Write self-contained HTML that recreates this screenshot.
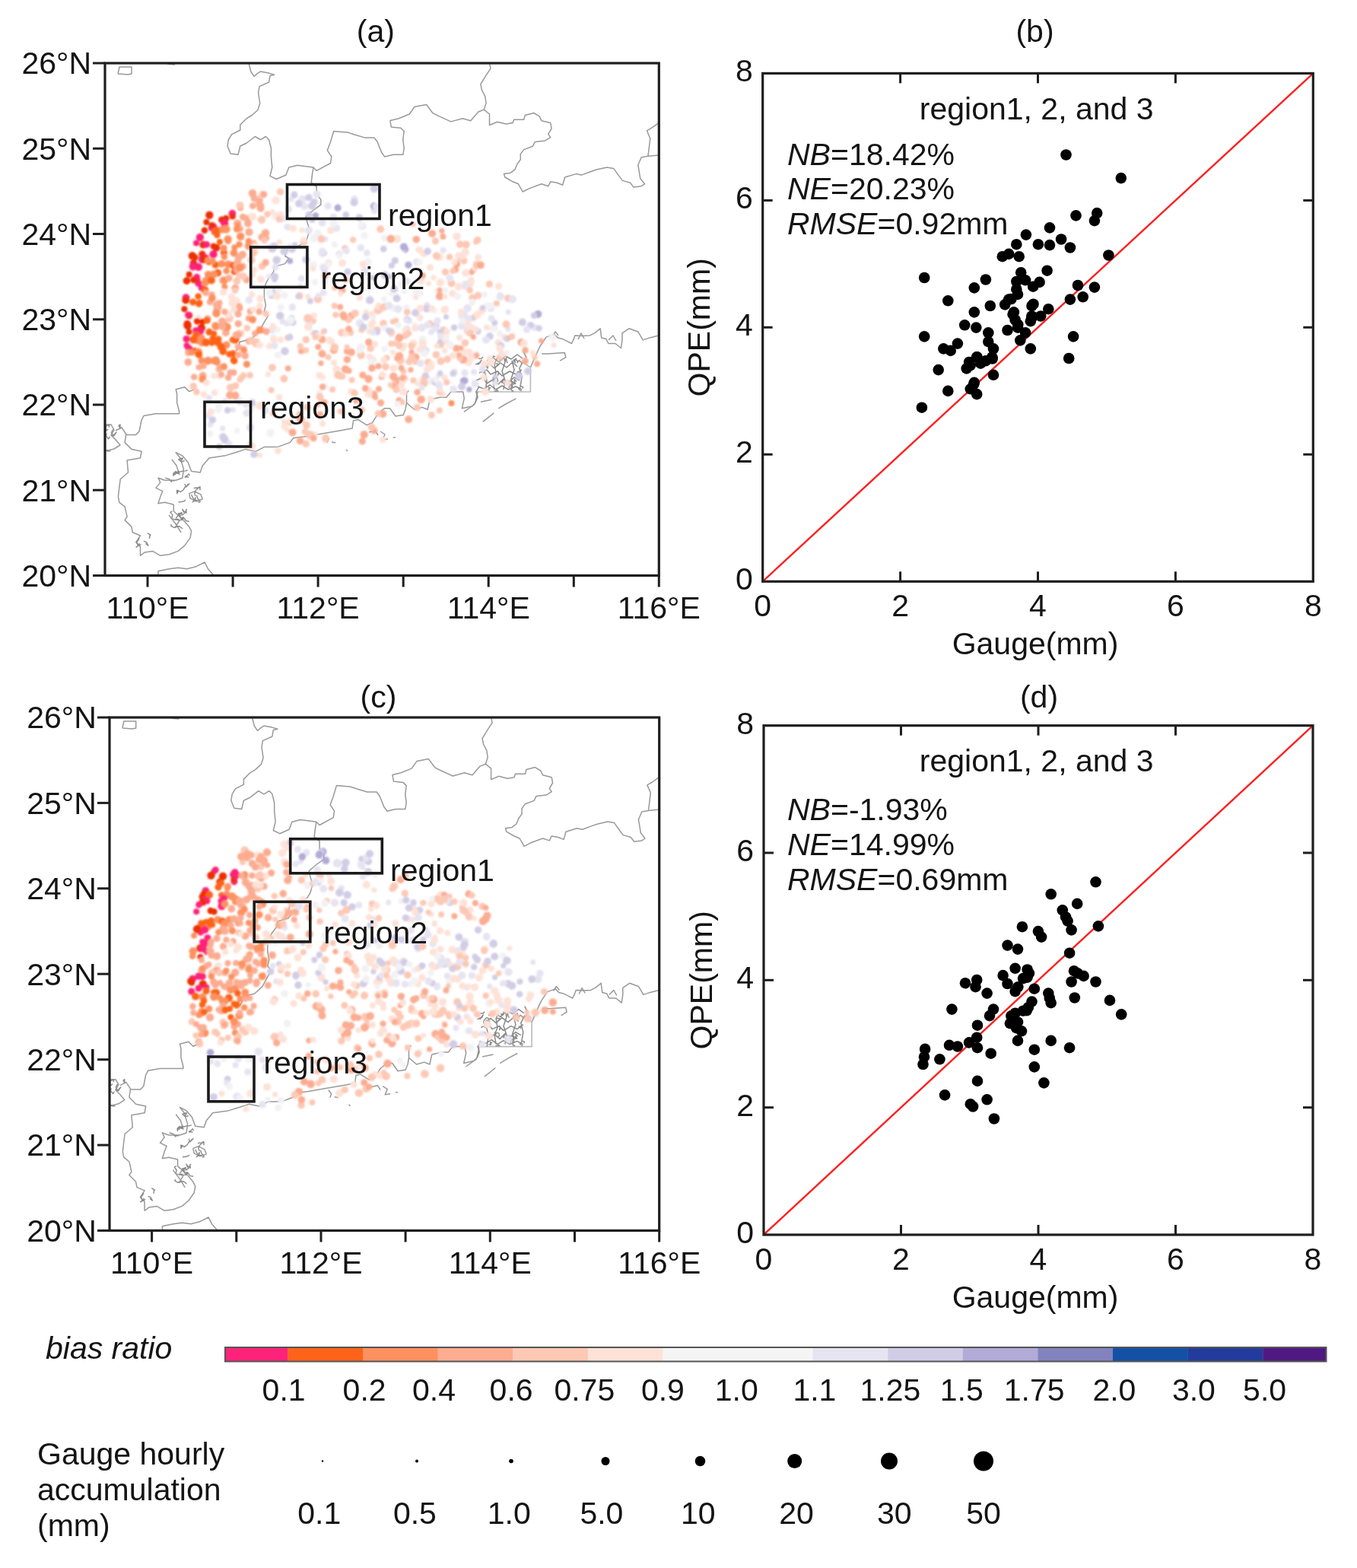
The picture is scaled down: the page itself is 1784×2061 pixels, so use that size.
<!DOCTYPE html><html><head><meta charset="utf-8"><style>html,body{margin:0;padding:0;background:#fff;}svg{display:block} text{font-family:"Liberation Sans",Arial,sans-serif;font-size:41px;fill:#141414}</style></head><body>
<svg xmlns="http://www.w3.org/2000/svg" width="1784" height="2061" viewBox="0 0 1784 2061">
<rect width="1784" height="2061" fill="#fff"/>
<defs><filter id="soft" x="-5%" y="-5%" width="110%" height="110%"><feGaussianBlur stdDeviation="0.9"/></filter><filter id="gb" x="0" y="0" width="100%" height="100%" filterUnits="userSpaceOnUse"><feGaussianBlur stdDeviation="0"/></filter></defs>
<rect width="1784" height="2061" fill="#fff"/>
<clipPath id="ca"><rect x="138" y="83" width="728.3" height="673.5"/></clipPath>
<g clip-path="url(#ca)">
<polyline points="327.0,83.0 329.8,94.0 334.0,100.3 338.2,96.8 342.4,94.0 353.6,96.1 360.6,98.2 355.0,99.6 353.6,108.0 341.0,113.6 339.6,122.0 341.7,136.0 338.9,144.5 331.2,151.5 324.2,155.7 315.8,164.0 315.8,171.0 304.6,176.7 300.4,183.7 299.0,192.0 303.2,202.0 313.0,203.3 315.8,192.0 324.2,188.0 335.4,179.5 342.4,183.7 349.4,179.5 353.6,183.7 356.4,195.0 356.4,206.0 357.8,220.0 355.0,231.3 363.4,235.5 376.0,230.0 379.8,220.0 391.0,217.3 412.0,220.0 416.2,224.3 434.5,214.5 435.9,206.0 430.3,197.7 434.5,186.5 438.7,172.5 456.9,173.9 465.3,176.7 479.3,180.9 491.9,180.9 496.1,186.5 501.7,200.5 505.9,206.1 517.1,203.3 529.8,203.3 531.2,194.9 529.8,183.7 531.2,172.5 526.9,168.3 514.3,166.9 512.9,158.5 524.1,155.7 538.2,150.0 545.2,140.3 560.6,137.5 569.0,148.7 577.4,152.9 592.8,159.9 608.2,155.7 618.7,158.7 628.9,147.0 636.2,144.1 643.5,150.0 643.5,164.5 653.7,160.2 665.4,163.1 674.1,161.6 675.6,157.2 688.7,157.2 690.2,151.4 701.8,148.5 709.1,152.9 712.0,158.7 723.7,161.6 725.1,168.9 720.8,176.2 723.7,180.6 716.4,184.9 703.3,186.4 700.4,192.2 688.7,196.6 684.3,202.4 684.3,209.7 680.0,215.5 677.0,222.8 671.2,227.2 662.5,228.6 663.9,233.0 674.1,238.8 681.4,241.8 687.2,252.0 696.0,247.6 712.0,241.8 720.8,244.7 723.7,238.8 732.4,240.3 739.7,243.2 742.6,233.0 757.2,228.6 764.5,230.1 776.1,225.7 784.9,222.8 798.0,219.9 806.7,221.4 814.0,231.6 818.4,237.4 828.6,240.3 833.0,246.1 843.2,244.7 847.5,241.8 841.7,234.5 840.3,225.7 838.8,217.0 843.2,206.8 851.9,205.3 866.0,203.9" fill="none" stroke="#999" stroke-width="1.5" stroke-linejoin="round"/>
<polyline points="636.2,144.1 639.1,135.4 637.7,126.6 633.3,117.9 631.9,110.6 639.1,98.9 645.0,90.2 643.5,83.0" fill="none" stroke="#999" stroke-width="1.5" stroke-linejoin="round"/>
<polyline points="851.9,205.3 853.4,193.7 854.8,182.0 850.4,171.8 857.7,167.4 866.0,161.6" fill="none" stroke="#999" stroke-width="1.5" stroke-linejoin="round"/>
<polyline points="412.0,220.0 410.6,228.5 409.2,239.8 416.2,245.4 416.2,255.2 421.8,262.2 421.8,269.2 412.0,276.2 402.2,284.6 403.9,292.1 407.0,302.2 403.9,313.3 399.9,319.4 387.8,325.4 377.7,327.4 374.7,336.5 379.7,339.5 374.7,346.6 360.5,350.6 359.5,357.7 352.5,366.8 349.4,372.8 347.4,380.9 347.4,391.0 349.4,401.1 347.4,409.2 352.5,415.2 347.4,423.3 340.4,436.4 330.3,445.5 315.1,449.5 313.1,457.6 310.1,461.6" fill="none" stroke="#999" stroke-width="1.5" stroke-linejoin="round"/>
<polyline points="256.0,511.7 248.7,514.6 242.8,508.7 231.2,511.7 232.6,517.5 232.6,529.1 235.6,540.8 235.6,543.7 219.5,543.7 205.0,543.7 188.9,546.6 186.0,552.5 183.1,567.0 178.7,571.4 165.6,571.4 164.1,581.6 172.9,590.4 186.0,593.3 184.5,602.0 167.1,604.9 168.5,621.0 158.3,629.7 156.9,639.9 155.4,653.0 156.9,660.3 164.1,666.1 167.1,679.2 164.1,683.6 172.9,692.4 174.3,699.7 184.5,704.0 178.7,712.8 184.5,718.6 184.5,730.3 190.4,725.9 200.6,724.4 210.8,730.3 222.4,728.8 234.1,724.4 242.8,717.1 250.1,706.9 251.6,698.2 248.7,692.4 240.0,682.2 228.3,672.0 228.3,663.2 216.6,660.3 207.9,661.8 210.8,653.0 213.7,645.7 205.0,641.4 210.8,634.1 207.9,628.2 216.6,631.2 231.2,631.2 239.9,628.2 241.4,616.6 237.0,602.0 231.2,594.7 239.9,599.1 247.2,607.8 251.6,619.5 263.2,621.0 266.2,612.2 274.9,602.0 295.3,599.1 309.9,594.7 323.0,590.4 336.1,593.3 347.8,587.4 365.3,587.4 381.3,581.6 385.7,575.8 400.0,574.0 447.0,566.0 463.1,563.1 464.5,552.9 470.4,551.4 482.0,558.7 489.3,555.8 496.6,544.1 505.3,536.8 512.6,536.8 519.9,547.0 530.1,545.6 533.0,538.3 534.5,529.5 534.5,516.4 537.4,513.5" fill="none" stroke="#999" stroke-width="1.5" stroke-linejoin="round"/>
<polyline points="534.5,529.5 544.7,538.3 554.9,535.4 562.2,538.3 565.1,525.2 578.2,522.3 586.9,522.3 592.8,515.0 608.8,515.0 610.3,523.7 607.3,536.8 620.5,533.9 624.8,529.5 628.0,515.0" fill="none" stroke="#999" stroke-width="1.5" stroke-linejoin="round"/>
<polyline points="138.0,560.0 146.0,558.0 150.0,565.0 146.0,572.0 152.0,578.0 158.0,585.0 150.0,590.0 138.0,593.0" fill="none" stroke="#999" stroke-width="1.5" stroke-linejoin="round"/>
<polyline points="152.0,566.0 160.0,562.0 166.0,571.0" fill="none" stroke="#999" stroke-width="1.5" stroke-linejoin="round"/>
<polyline points="155.0,97.0 157.0,88.0 173.0,88.0 173.0,97.0 168.0,98.0 155.0,97.0" fill="none" stroke="#999" stroke-width="1.5" stroke-linejoin="round"/>
<polyline points="220.0,84.0 230.0,85.0" fill="none" stroke="#999" stroke-width="1.5" stroke-linejoin="round"/>
<polyline points="207.9,756.0 207.9,750.7 222.4,747.7 234.1,746.3 245.8,747.7 257.4,744.8 269.1,739.0 273.4,747.7 280.7,756.0" fill="none" stroke="#999" stroke-width="1.5" stroke-linejoin="round"/>
<polyline points="248.7,648.6 256.0,646.0 264.0,650.0 266.2,656.0 258.0,659.0 250.0,655.0 248.7,648.6" fill="none" stroke="#999" stroke-width="1.5" stroke-linejoin="round"/>
<polyline points="226.0,604.0 232.0,612.0 236.0,624.0" fill="none" stroke="#999" stroke-width="1.5" stroke-linejoin="round"/>
<polyline points="222.0,677.0 232.0,690.0 238.0,700.0" fill="none" stroke="#999" stroke-width="1.5" stroke-linejoin="round"/>
<polyline points="226.0,682.0 236.0,684.0 230.0,694.0" fill="none" stroke="#999" stroke-width="1.5" stroke-linejoin="round"/>
<polyline points="697.4,483.0 703.0,470.0 710.0,455.0 718.0,443.1 728.6,439.4 733.2,443.9 739.2,445.4 745.3,448.4 751.4,451.5 754.4,445.4 755.9,440.9 766.5,441.6 775.6,440.9 781.6,437.8 789.2,431.8 790.7,443.9 796.8,445.4 799.8,451.5 808.9,451.5 816.4,457.5 818.0,446.9 818.0,437.8 827.0,431.8 839.1,436.3 845.2,446.9 854.3,443.9 866.0,440.9" fill="none" stroke="#999" stroke-width="1.5" stroke-linejoin="round"/>
<polyline points="712.0,465.0 721.1,465.1 731.7,464.3 742.3,463.6 743.8,469.6 736.2,474.2" fill="none" stroke="#999" stroke-width="1.5" stroke-linejoin="round"/>
<polyline points="726.0,442.0 730.0,436.0 734.0,441.0" fill="none" stroke="#999" stroke-width="1.5" stroke-linejoin="round"/>
<polyline points="760.0,446.0 764.0,438.0 768.0,445.0" fill="none" stroke="#999" stroke-width="1.5" stroke-linejoin="round"/>
<polyline points="800.0,447.0 806.0,441.0 810.0,448.0" fill="none" stroke="#999" stroke-width="1.5" stroke-linejoin="round"/>
<polyline points="631.9,528.2 646.4,525.3" fill="none" stroke="#999" stroke-width="1.5" stroke-linejoin="round"/>
<polyline points="655.2,536.9 665.0,531.0 678.5,523.8" fill="none" stroke="#999" stroke-width="1.5" stroke-linejoin="round"/>
<polyline points="634.8,554.4 649.3,542.8" fill="none" stroke="#999" stroke-width="1.5" stroke-linejoin="round"/>
<polyline points="610.0,541.3 624.6,531.0" fill="none" stroke="#999" stroke-width="1.5" stroke-linejoin="round"/>
<polyline points="485.0,568.0 493.0,566.0 497.0,572.0" fill="none" stroke="#999" stroke-width="1.5" stroke-linejoin="round"/>
<polyline points="500.0,567.0 506.0,571.0 503.0,578.0 510.0,577.0" fill="none" stroke="#999" stroke-width="1.5" stroke-linejoin="round"/>
<polyline points="517.0,575.0 520.0,575.0" fill="none" stroke="#999" stroke-width="1.5" stroke-linejoin="round"/>
<polyline points="428.0,572.0 432.0,577.0 430.0,582.0" fill="none" stroke="#999" stroke-width="1.5" stroke-linejoin="round"/>
<polyline points="436.0,581.0 441.0,582.0" fill="none" stroke="#999" stroke-width="1.5" stroke-linejoin="round"/>
<polyline points="455.0,591.0 457.0,593.0" fill="none" stroke="#999" stroke-width="1.5" stroke-linejoin="round"/>
<polyline points="690.0,478.0 697.4,483.0 697.4,515.0 624.6,515.0" fill="none" stroke="#bbb" stroke-width="1.6"/>
<polyline points="231.0,621.8 228.5,621.8 228.0,623.3 230.9,619.2" fill="none" stroke="#8a8a8a" stroke-width="1.4" stroke-linejoin="round"/>
<polyline points="228.6,621.4 229.7,624.1 231.7,621.8 234.7,622.7 230.7,620.8 228.0,622.3 228.0,626.1" fill="none" stroke="#8a8a8a" stroke-width="1.4" stroke-linejoin="round"/>
<polyline points="243.1,625.9 243.4,627.0 247.8,627.0 246.2,627.0" fill="none" stroke="#8a8a8a" stroke-width="1.4" stroke-linejoin="round"/>
<polyline points="244.7,625.4 243.9,627.0 248.1,623.0 249.4,625.2" fill="none" stroke="#8a8a8a" stroke-width="1.4" stroke-linejoin="round"/>
<polyline points="234.5,618.3 234.6,622.4 231.5,620.2 236.2,620.2 240.6,619.1 244.2,618.9 246.6,618.0" fill="none" stroke="#8a8a8a" stroke-width="1.4" stroke-linejoin="round"/>
<polyline points="242.6,605.5 238.5,607.1 234.6,603.8 238.0,602.5 240.3,602.2 238.4,605.6" fill="none" stroke="#8a8a8a" stroke-width="1.4" stroke-linejoin="round"/>
<polyline points="260.4,658.3 256.4,656.9 253.1,660.0 256.6,657.5" fill="none" stroke="#8a8a8a" stroke-width="1.4" stroke-linejoin="round"/>
<polyline points="217.3,628.2 222.3,629.6 225.3,633.2 225.4,631.9 229.8,631.9" fill="none" stroke="#8a8a8a" stroke-width="1.4" stroke-linejoin="round"/>
<polyline points="257.3,655.7 256.9,653.9 255.7,657.8 256.0,658.5 253.3,653.7 251.6,650.1" fill="none" stroke="#8a8a8a" stroke-width="1.4" stroke-linejoin="round"/>
<polyline points="234.6,660.0 239.5,659.4 238.7,659.7 242.8,658.3 243.7,656.9" fill="none" stroke="#8a8a8a" stroke-width="1.4" stroke-linejoin="round"/>
<polyline points="254.8,641.7 257.0,641.3 257.3,641.2 261.5,641.2 263.0,639.8 263.0,643.8 262.6,644.4" fill="none" stroke="#8a8a8a" stroke-width="1.4" stroke-linejoin="round"/>
<polyline points="258.4,650.9 260.0,655.3 263.0,658.6 263.0,659.8 263.0,659.6 261.0,660.0 263.0,660.0" fill="none" stroke="#8a8a8a" stroke-width="1.4" stroke-linejoin="round"/>
<polyline points="234.4,647.3 232.5,644.4 232.7,648.7 233.9,644.5 237.1,646.8 241.2,643.7 243.6,639.3" fill="none" stroke="#8a8a8a" stroke-width="1.4" stroke-linejoin="round"/>
<polyline points="242.9,636.0 244.7,640.2 247.2,636.5 244.9,639.8 249.3,635.4" fill="none" stroke="#8a8a8a" stroke-width="1.4" stroke-linejoin="round"/>
<polyline points="257.1,652.1 255.7,648.8 257.4,644.6 262.0,639.9" fill="none" stroke="#8a8a8a" stroke-width="1.4" stroke-linejoin="round"/>
<polyline points="229.9,682.7 234.1,682.4 234.9,683.5 239.0,683.2 239.5,680.1 241.7,680.5" fill="none" stroke="#8a8a8a" stroke-width="1.4" stroke-linejoin="round"/>
<polyline points="237.7,678.7 235.1,675.2 239.3,674.1 234.5,676.9 231.1,681.5" fill="none" stroke="#8a8a8a" stroke-width="1.4" stroke-linejoin="round"/>
<polyline points="225.1,689.1 224.8,691.3 228.6,693.4 232.8,692.3 235.8,691.8 240.2,695.0" fill="none" stroke="#8a8a8a" stroke-width="1.4" stroke-linejoin="round"/>
<polyline points="226.4,671.7 224.0,673.4 226.8,676.9 226.0,680.3 226.8,680.6" fill="none" stroke="#8a8a8a" stroke-width="1.4" stroke-linejoin="round"/>
<polyline points="234.2,674.3 236.0,678.6 239.6,683.5 241.3,680.1 244.9,684.8 248.9,685.4" fill="none" stroke="#8a8a8a" stroke-width="1.4" stroke-linejoin="round"/>
<polyline points="241.8,673.7 239.7,669.3 243.2,674.2 239.1,677.2 238.2,673.7 236.2,676.4" fill="none" stroke="#8a8a8a" stroke-width="1.4" stroke-linejoin="round"/>
<polyline points="245.8,669.2 244.6,670.1 245.1,674.3 242.9,671.6" fill="none" stroke="#8a8a8a" stroke-width="1.4" stroke-linejoin="round"/>
<polyline points="143.5,561.6 143.3,558.0 139.0,558.5 139.0,563.4 139.0,563.6 139.0,566.4 142.3,564.0" fill="none" stroke="#8a8a8a" stroke-width="1.4" stroke-linejoin="round"/>
<polyline points="156.9,558.9 158.0,558.0 156.1,559.3 158.0,562.8 158.0,558.7 158.0,560.4" fill="none" stroke="#8a8a8a" stroke-width="1.4" stroke-linejoin="round"/>
<polyline points="148.6,564.2 146.4,568.7 149.6,573.1 153.0,568.2 150.9,570.2 149.0,572.9 146.0,572.1" fill="none" stroke="#8a8a8a" stroke-width="1.4" stroke-linejoin="round"/>
<polyline points="144.5,573.8 142.5,576.9 139.0,572.4 140.3,570.2 140.6,569.9" fill="none" stroke="#8a8a8a" stroke-width="1.4" stroke-linejoin="round"/>
<polyline points="145.5,592.9 141.2,593.0 142.5,592.4 139.4,591.8 140.3,593.0" fill="none" stroke="#8a8a8a" stroke-width="1.4" stroke-linejoin="round"/>
<polyline points="191.5,714.4 194.9,717.1 192.4,712.6 188.9,711.3" fill="none" stroke="#8a8a8a" stroke-width="1.4" stroke-linejoin="round"/>
<polyline points="196.4,707.9 197.1,703.0 194.3,701.0 198.4,703.7" fill="none" stroke="#8a8a8a" stroke-width="1.4" stroke-linejoin="round"/>
<polyline points="182.2,715.3 183.4,714.8 179.7,719.0 179.0,719.0 183.6,715.7" fill="none" stroke="#8a8a8a" stroke-width="1.4" stroke-linejoin="round"/>
<polyline points="182.3,706.6 182.7,708.4 179.8,712.8 181.7,717.5 185.6,715.5" fill="none" stroke="#8a8a8a" stroke-width="1.4" stroke-linejoin="round"/>
<polyline points="674.8,505.8 676.9,502.1 674.0,502.8 677.8,504.7 676.3,500.9 676.2,498.4 679.2,501.7" fill="none" stroke="#8a8a8a" stroke-width="1.4" stroke-linejoin="round"/>
<polyline points="658.5,472.3 659.8,473.2 656.5,472.6 660.4,471.5 659.7,469.5 661.3,471.6" fill="none" stroke="#8a8a8a" stroke-width="1.4" stroke-linejoin="round"/>
<polyline points="668.8,504.6 672.5,505.3 670.1,506.6 668.9,510.0" fill="none" stroke="#8a8a8a" stroke-width="1.4" stroke-linejoin="round"/>
<polyline points="682.2,491.7 683.3,489.6 682.7,488.5 679.7,488.5" fill="none" stroke="#8a8a8a" stroke-width="1.4" stroke-linejoin="round"/>
<polyline points="667.4,477.2 665.9,474.7 665.8,471.8 663.5,474.8 665.1,470.9 667.3,468.0" fill="none" stroke="#8a8a8a" stroke-width="1.4" stroke-linejoin="round"/>
<polyline points="645.3,509.6 644.3,509.8 642.6,511.3 642.5,508.7 643.3,512.7 640.0,512.3" fill="none" stroke="#8a8a8a" stroke-width="1.4" stroke-linejoin="round"/>
<polyline points="675.6,472.1 675.1,474.7 677.5,474.9 677.3,476.5 676.5,473.2 678.5,471.3 678.4,473.6" fill="none" stroke="#8a8a8a" stroke-width="1.4" stroke-linejoin="round"/>
<polyline points="635.0,469.0 633.0,471.4 630.5,471.4 629.2,471.6" fill="none" stroke="#8a8a8a" stroke-width="1.4" stroke-linejoin="round"/>
<polyline points="686.8,510.6 687.7,508.8 687.5,508.6 684.7,507.6 683.1,510.1 681.7,511.3 685.5,514.0" fill="none" stroke="#8a8a8a" stroke-width="1.4" stroke-linejoin="round"/>
<polyline points="648.1,495.7 649.2,499.5 651.1,496.8 653.7,497.3 654.7,501.0 652.1,501.9" fill="none" stroke="#8a8a8a" stroke-width="1.4" stroke-linejoin="round"/>
<polyline points="660.5,499.4 659.4,502.9 662.2,499.4 659.7,503.0 660.6,502.3 662.9,504.8" fill="none" stroke="#8a8a8a" stroke-width="1.4" stroke-linejoin="round"/>
<polyline points="655.5,489.6 654.4,493.3 655.9,491.2 654.4,487.5" fill="none" stroke="#8a8a8a" stroke-width="1.4" stroke-linejoin="round"/>
<polyline points="666.8,500.8 667.9,500.5 671.1,501.6 672.7,498.6" fill="none" stroke="#8a8a8a" stroke-width="1.4" stroke-linejoin="round"/>
<polyline points="677.3,471.8 680.6,475.0 680.2,476.5 682.5,473.6 686.0,476.9 685.6,479.1" fill="none" stroke="#8a8a8a" stroke-width="1.4" stroke-linejoin="round"/>
<polyline points="652.6,480.7 655.3,479.0 654.2,477.9 650.4,477.9" fill="none" stroke="#8a8a8a" stroke-width="1.4" stroke-linejoin="round"/>
<polyline points="641.7,480.6 641.1,484.0 637.4,480.7 639.9,481.8 640.2,478.0 637.6,477.0 634.0,481.0" fill="none" stroke="#8a8a8a" stroke-width="1.4" stroke-linejoin="round"/>
<polyline points="673.0,511.7 671.7,508.3 673.6,505.2 673.9,504.9 673.9,501.5 670.5,501.7 666.7,501.9" fill="none" stroke="#8a8a8a" stroke-width="1.4" stroke-linejoin="round"/>
<polyline points="633.6,481.0 633.7,483.8 636.1,487.3 637.6,489.0 634.6,490.6" fill="none" stroke="#8a8a8a" stroke-width="1.4" stroke-linejoin="round"/>
<polyline points="672.5,513.7 674.8,514.0 672.3,512.6 671.3,512.1" fill="none" stroke="#8a8a8a" stroke-width="1.4" stroke-linejoin="round"/>
<polyline points="649.4,513.9 651.2,514.0 653.6,513.0 654.9,514.0 652.3,514.0" fill="none" stroke="#8a8a8a" stroke-width="1.4" stroke-linejoin="round"/>
<polyline points="648.6,470.8 648.4,468.0 649.6,468.3 651.0,469.1" fill="none" stroke="#8a8a8a" stroke-width="1.4" stroke-linejoin="round"/>
<polyline points="627.8,478.3 625.6,478.9 629.0,477.2 628.8,479.0 631.7,476.4 633.0,473.3 629.9,477.2" fill="none" stroke="#8a8a8a" stroke-width="1.4" stroke-linejoin="round"/>
<polyline points="626.0,500.0 635.0,496.0 640.0,504.0 648.0,499.0 655.0,505.0 662.0,498.0 668.0,503.0 676.0,496.0 683.0,500.0" fill="none" stroke="#888" stroke-width="1.5" stroke-linejoin="round"/>
<polyline points="628.0,508.0 636.0,511.0 644.0,506.0 652.0,512.0 660.0,507.0 668.0,512.0 678.0,508.0 686.0,512.0" fill="none" stroke="#888" stroke-width="1.5" stroke-linejoin="round"/>
<polyline points="630.0,490.0 640.0,486.0 645.0,492.0 654.0,488.0 660.0,494.0 670.0,488.0 678.0,492.0 686.0,486.0" fill="none" stroke="#888" stroke-width="1.5" stroke-linejoin="round"/>
<polyline points="636.0,482.0 643.0,478.0 650.0,484.0 658.0,477.0 666.0,483.0 674.0,476.0 680.0,482.0" fill="none" stroke="#888" stroke-width="1.5" stroke-linejoin="round"/>
<polyline points="640.0,474.0 648.0,470.0 656.0,476.0 664.0,468.0 672.0,472.0 680.0,466.0 687.0,471.0" fill="none" stroke="#888" stroke-width="1.5" stroke-linejoin="round"/>
<polyline points="650.0,512.0 648.0,500.0 652.0,490.0 650.0,478.0 654.0,470.0" fill="none" stroke="#888" stroke-width="1.5" stroke-linejoin="round"/>
<polyline points="662.0,512.0 664.0,500.0 660.0,488.0 664.0,476.0 662.0,468.0" fill="none" stroke="#888" stroke-width="1.5" stroke-linejoin="round"/>
<polyline points="674.0,510.0 672.0,498.0 676.0,486.0 673.0,474.0" fill="none" stroke="#888" stroke-width="1.5" stroke-linejoin="round"/>
<polyline points="684.0,508.0 686.0,496.0 683.0,484.0 688.0,474.0" fill="none" stroke="#888" stroke-width="1.5" stroke-linejoin="round"/>
<polyline points="638.0,515.0 640.0,500.0 637.0,488.0" fill="none" stroke="#888" stroke-width="1.5" stroke-linejoin="round"/>
<polyline points="624.8,529.5 628.0,522.0 626.0,515.0 630.0,508.0" fill="none" stroke="#888" stroke-width="1.5" stroke-linejoin="round"/>
<polyline points="688.0,462.0 692.0,470.0 688.0,478.0" fill="none" stroke="#888" stroke-width="1.5" stroke-linejoin="round"/>
<g filter="url(#soft)">
<circle cx="316.1" cy="273.2" r="4.3" fill="#fcac91"/>
<circle cx="315.5" cy="269.9" r="5" fill="#fdc8b4"/>
<circle cx="344.9" cy="255.8" r="5.3" fill="#fee2d7"/>
<circle cx="340.2" cy="267.4" r="5" fill="#fdc8b4"/>
<circle cx="341.5" cy="263.5" r="4.3" fill="#fcac91"/>
<circle cx="346.7" cy="255.5" r="4.6" fill="#fcac91"/>
<circle cx="338.6" cy="261.0" r="4.6" fill="#fdc8b4"/>
<circle cx="332.0" cy="254.1" r="5.3" fill="#fcac91"/>
<circle cx="368.5" cy="252.0" r="4.6" fill="#fdc8b4"/>
<circle cx="382.8" cy="262.1" r="3.6" fill="#e7e4f2"/>
<circle cx="358.1" cy="278.7" r="3.6" fill="#fee2d7"/>
<circle cx="379.2" cy="275.0" r="4.8" fill="#e7e4f2"/>
<circle cx="386.6" cy="257.0" r="4" fill="#e7e4f2"/>
<circle cx="362.5" cy="263.3" r="5.3" fill="#fee2d7"/>
<circle cx="386.8" cy="255.9" r="4.6" fill="#d2cde6"/>
<circle cx="400.2" cy="271.3" r="5" fill="#e7e4f2"/>
<circle cx="397.6" cy="261.9" r="5.3" fill="#e7e4f2"/>
<circle cx="416.6" cy="255.2" r="5" fill="#e7e4f2"/>
<circle cx="410.3" cy="270.6" r="5.3" fill="#d2cde6"/>
<circle cx="405.9" cy="259.6" r="4.6" fill="#d2cde6"/>
<circle cx="392.7" cy="267.7" r="4.8" fill="#d2cde6"/>
<circle cx="413.0" cy="265.6" r="4.8" fill="#d2cde6"/>
<circle cx="466.0" cy="261.8" r="4.8" fill="#e7e4f2"/>
<circle cx="444.1" cy="273.2" r="4.6" fill="#b2aad7"/>
<circle cx="465.6" cy="266.1" r="5" fill="#d2cde6"/>
<circle cx="431.2" cy="270.8" r="4.8" fill="#e7e4f2"/>
<circle cx="492.1" cy="276.8" r="4.6" fill="#e7e4f2"/>
<circle cx="491.5" cy="270.9" r="4.6" fill="#b2aad7"/>
<circle cx="493.8" cy="271.6" r="4" fill="#e7e4f2"/>
<circle cx="491.9" cy="247.9" r="5.3" fill="#d2cde6"/>
<circle cx="351.6" cy="281.6" r="4.3" fill="#fdc8b4"/>
<circle cx="360.5" cy="285.2" r="4" fill="#f2f2f4"/>
<circle cx="364.1" cy="283.6" r="4.3" fill="#fee2d7"/>
<circle cx="371.0" cy="287.4" r="5" fill="#e7e4f2"/>
<circle cx="378.0" cy="298.3" r="4.6" fill="#e7e4f2"/>
<circle cx="369.0" cy="281.9" r="4.3" fill="#fee2d7"/>
<circle cx="367.0" cy="288.1" r="4.3" fill="#fdc8b4"/>
<circle cx="385.2" cy="300.4" r="4.8" fill="#fee2d7"/>
<circle cx="367.4" cy="318.1" r="3.6" fill="#fee2d7"/>
<circle cx="406.1" cy="282.3" r="4.6" fill="#d2cde6"/>
<circle cx="417.8" cy="306.8" r="5.3" fill="#f2f2f4"/>
<circle cx="399.4" cy="318.1" r="5" fill="#fdc8b4"/>
<circle cx="410.6" cy="289.5" r="3.6" fill="#d2cde6"/>
<circle cx="406.0" cy="302.9" r="5" fill="#e7e4f2"/>
<circle cx="415.0" cy="283.2" r="4" fill="#b2aad7"/>
<circle cx="427.8" cy="314.3" r="3.6" fill="#e7e4f2"/>
<circle cx="423.6" cy="292.8" r="5" fill="#e7e4f2"/>
<circle cx="397.0" cy="302.5" r="3.6" fill="#fee2d7"/>
<circle cx="412.3" cy="313.3" r="5.3" fill="#f2f2f4"/>
<circle cx="399.3" cy="315.2" r="4" fill="#fee2d7"/>
<circle cx="422.5" cy="314.1" r="5" fill="#fdc8b4"/>
<circle cx="454.7" cy="282.4" r="4.3" fill="#d2cde6"/>
<circle cx="434.8" cy="302.8" r="4.8" fill="#fee2d7"/>
<circle cx="438.4" cy="285.0" r="4.6" fill="#e7e4f2"/>
<circle cx="442.3" cy="300.0" r="4.8" fill="#e7e4f2"/>
<circle cx="464.1" cy="315.2" r="4" fill="#fdc8b4"/>
<circle cx="438.6" cy="293.5" r="5.3" fill="#f2f2f4"/>
<circle cx="476.1" cy="297.3" r="5" fill="#e7e4f2"/>
<circle cx="474.7" cy="295.4" r="4.3" fill="#f2f2f4"/>
<circle cx="505.7" cy="312.8" r="4.6" fill="#f2f2f4"/>
<circle cx="500.2" cy="301.2" r="5" fill="#fdc8b4"/>
<circle cx="472.5" cy="286.1" r="4.8" fill="#d2cde6"/>
<circle cx="479.1" cy="309.8" r="4.8" fill="#f2f2f4"/>
<circle cx="543.0" cy="295.0" r="3.6" fill="#fdc8b4"/>
<circle cx="522.1" cy="314.0" r="5.3" fill="#fee2d7"/>
<circle cx="547.3" cy="314.7" r="4.8" fill="#fcac91"/>
<circle cx="513.8" cy="313.9" r="5.3" fill="#fcac91"/>
<circle cx="572.5" cy="317.2" r="4.3" fill="#fdc8b4"/>
<circle cx="572.4" cy="316.2" r="4.3" fill="#fdc8b4"/>
<circle cx="582.4" cy="311.0" r="4" fill="#fcac91"/>
<circle cx="580.8" cy="303.3" r="3.6" fill="#fcac91"/>
<circle cx="568.1" cy="306.9" r="5" fill="#fcac91"/>
<circle cx="627.9" cy="315.6" r="4.8" fill="#fdc8b4"/>
<circle cx="625.7" cy="317.9" r="3.6" fill="#fdc8b4"/>
<circle cx="600.5" cy="310.8" r="5.3" fill="#fee2d7"/>
<circle cx="387.7" cy="322.6" r="4.3" fill="#d2cde6"/>
<circle cx="381.1" cy="343.0" r="4" fill="#b2aad7"/>
<circle cx="363.7" cy="341.7" r="5.3" fill="#d2cde6"/>
<circle cx="373.6" cy="330.3" r="5.3" fill="#d2cde6"/>
<circle cx="360.3" cy="323.7" r="5.3" fill="#d2cde6"/>
<circle cx="353.7" cy="323.9" r="3.6" fill="#e7e4f2"/>
<circle cx="362.1" cy="351.1" r="4.6" fill="#e7e4f2"/>
<circle cx="383.8" cy="326.9" r="5.3" fill="#d2cde6"/>
<circle cx="381.2" cy="323.9" r="4" fill="#e7e4f2"/>
<circle cx="357.8" cy="326.7" r="5.3" fill="#d2cde6"/>
<circle cx="423.9" cy="332.6" r="5.3" fill="#e7e4f2"/>
<circle cx="425.9" cy="332.2" r="4" fill="#d2cde6"/>
<circle cx="411.7" cy="348.5" r="5.3" fill="#f2f2f4"/>
<circle cx="425.3" cy="351.5" r="5.3" fill="#e7e4f2"/>
<circle cx="426.9" cy="358.5" r="4" fill="#d2cde6"/>
<circle cx="402.4" cy="341.4" r="5" fill="#d2cde6"/>
<circle cx="423.8" cy="330.4" r="5" fill="#e7e4f2"/>
<circle cx="427.6" cy="351.7" r="4.3" fill="#e7e4f2"/>
<circle cx="411.6" cy="353.3" r="3.6" fill="#fee2d7"/>
<circle cx="446.0" cy="333.9" r="4.6" fill="#e7e4f2"/>
<circle cx="431.9" cy="345.6" r="4.8" fill="#fee2d7"/>
<circle cx="431.7" cy="347.3" r="4" fill="#f2f2f4"/>
<circle cx="453.6" cy="326.3" r="4.3" fill="#fdc8b4"/>
<circle cx="446.1" cy="336.2" r="3.6" fill="#f2f2f4"/>
<circle cx="439.9" cy="321.3" r="4.3" fill="#f2f2f4"/>
<circle cx="450.0" cy="345.7" r="5" fill="#fee2d7"/>
<circle cx="455.3" cy="329.6" r="4.6" fill="#e7e4f2"/>
<circle cx="457.1" cy="357.3" r="4.6" fill="#d2cde6"/>
<circle cx="483.8" cy="344.2" r="5" fill="#f2f2f4"/>
<circle cx="479.3" cy="356.0" r="5" fill="#e7e4f2"/>
<circle cx="504.3" cy="327.1" r="4.3" fill="#d2cde6"/>
<circle cx="482.4" cy="332.4" r="4.3" fill="#e7e4f2"/>
<circle cx="477.3" cy="347.6" r="4.8" fill="#fee2d7"/>
<circle cx="474.2" cy="325.7" r="4.8" fill="#e7e4f2"/>
<circle cx="532.7" cy="327.7" r="4.6" fill="#b2aad7"/>
<circle cx="519.3" cy="342.6" r="4.6" fill="#d2cde6"/>
<circle cx="536.9" cy="348.3" r="4.6" fill="#b2aad7"/>
<circle cx="530.6" cy="327.3" r="3.6" fill="#e7e4f2"/>
<circle cx="530.9" cy="324.4" r="5" fill="#b2aad7"/>
<circle cx="514.8" cy="349.0" r="4" fill="#d2cde6"/>
<circle cx="547.8" cy="344.4" r="5" fill="#e7e4f2"/>
<circle cx="577.6" cy="337.9" r="5.3" fill="#fee2d7"/>
<circle cx="565.5" cy="351.5" r="4.6" fill="#fee2d7"/>
<circle cx="557.3" cy="333.4" r="4.8" fill="#fee2d7"/>
<circle cx="585.5" cy="357.5" r="4.6" fill="#fdc8b4"/>
<circle cx="573.8" cy="336.5" r="5" fill="#fdc8b4"/>
<circle cx="562.2" cy="330.4" r="4.8" fill="#d2cde6"/>
<circle cx="551.2" cy="328.2" r="4.8" fill="#fee2d7"/>
<circle cx="551.8" cy="344.8" r="4" fill="#f2f2f4"/>
<circle cx="582.7" cy="328.9" r="4" fill="#e7e4f2"/>
<circle cx="611.6" cy="331.4" r="5.3" fill="#fee2d7"/>
<circle cx="600.5" cy="347.0" r="4.8" fill="#fcac91"/>
<circle cx="604.6" cy="337.0" r="5.3" fill="#fcac91"/>
<circle cx="598.9" cy="354.4" r="4.3" fill="#fcac91"/>
<circle cx="621.8" cy="355.4" r="3.6" fill="#fcac91"/>
<circle cx="612.6" cy="321.5" r="5" fill="#fdc8b4"/>
<circle cx="619.9" cy="358.0" r="3.6" fill="#fcac91"/>
<circle cx="610.0" cy="342.8" r="4.6" fill="#fdc8b4"/>
<circle cx="610.1" cy="334.6" r="4.3" fill="#fee2d7"/>
<circle cx="591.0" cy="337.8" r="4.3" fill="#fdc8b4"/>
<circle cx="602.6" cy="336.2" r="4.6" fill="#fee2d7"/>
<circle cx="595.3" cy="355.9" r="4" fill="#fdc8b4"/>
<circle cx="612.2" cy="358.8" r="5" fill="#fee2d7"/>
<circle cx="624.5" cy="352.5" r="4" fill="#fee2d7"/>
<circle cx="628.5" cy="338.5" r="4.6" fill="#fee2d7"/>
<circle cx="626.6" cy="348.1" r="5" fill="#fdc8b4"/>
<circle cx="597.5" cy="344.6" r="4" fill="#fee2d7"/>
<circle cx="604.7" cy="321.1" r="4.8" fill="#fdc8b4"/>
<circle cx="607.2" cy="336.4" r="4.8" fill="#fee2d7"/>
<circle cx="631.8" cy="348.4" r="5" fill="#fcac91"/>
<circle cx="360.9" cy="367.4" r="3.6" fill="#d2cde6"/>
<circle cx="361.3" cy="364.7" r="4.6" fill="#d2cde6"/>
<circle cx="353.7" cy="363.5" r="3.6" fill="#e7e4f2"/>
<circle cx="357.2" cy="388.0" r="5" fill="#d2cde6"/>
<circle cx="354.5" cy="385.2" r="4.8" fill="#f2f2f4"/>
<circle cx="362.6" cy="381.1" r="4.3" fill="#d2cde6"/>
<circle cx="361.2" cy="363.8" r="5" fill="#d2cde6"/>
<circle cx="365.0" cy="380.4" r="4" fill="#e7e4f2"/>
<circle cx="362.3" cy="388.9" r="4.3" fill="#e7e4f2"/>
<circle cx="364.5" cy="389.1" r="4.8" fill="#fee2d7"/>
<circle cx="366.2" cy="379.4" r="5.3" fill="#f2f2f4"/>
<circle cx="374.2" cy="388.2" r="4.8" fill="#f2f2f4"/>
<circle cx="417.9" cy="393.1" r="5.3" fill="#fdc8b4"/>
<circle cx="425.2" cy="384.7" r="4.6" fill="#e7e4f2"/>
<circle cx="426.5" cy="370.4" r="4" fill="#e7e4f2"/>
<circle cx="393.8" cy="388.8" r="4.8" fill="#fdc8b4"/>
<circle cx="407.9" cy="395.7" r="4" fill="#d2cde6"/>
<circle cx="414.0" cy="371.0" r="4" fill="#f2f2f4"/>
<circle cx="396.3" cy="366.2" r="4.6" fill="#e7e4f2"/>
<circle cx="404.7" cy="389.6" r="3.6" fill="#fee2d7"/>
<circle cx="418.3" cy="388.3" r="3.6" fill="#e7e4f2"/>
<circle cx="395.0" cy="376.1" r="3.6" fill="#e7e4f2"/>
<circle cx="427.3" cy="362.7" r="4.8" fill="#fdc8b4"/>
<circle cx="391.9" cy="389.6" r="3.6" fill="#d2cde6"/>
<circle cx="449.8" cy="381.1" r="4.8" fill="#fcac91"/>
<circle cx="447.8" cy="386.2" r="3.6" fill="#fee2d7"/>
<circle cx="454.3" cy="367.6" r="4.6" fill="#fdc8b4"/>
<circle cx="439.9" cy="378.1" r="4" fill="#fdc8b4"/>
<circle cx="440.0" cy="371.8" r="4.8" fill="#f2f2f4"/>
<circle cx="485.8" cy="378.2" r="4.3" fill="#f2f2f4"/>
<circle cx="489.9" cy="365.2" r="3.6" fill="#d2cde6"/>
<circle cx="472.8" cy="391.3" r="4.3" fill="#fee2d7"/>
<circle cx="504.8" cy="393.2" r="4" fill="#f2f2f4"/>
<circle cx="486.2" cy="394.4" r="5.3" fill="#d2cde6"/>
<circle cx="505.7" cy="361.6" r="5" fill="#d2cde6"/>
<circle cx="531.6" cy="382.5" r="4" fill="#f2f2f4"/>
<circle cx="514.0" cy="385.8" r="3.6" fill="#f2f2f4"/>
<circle cx="512.3" cy="363.3" r="3.6" fill="#d2cde6"/>
<circle cx="546.5" cy="390.7" r="3.6" fill="#fee2d7"/>
<circle cx="518.2" cy="380.0" r="5" fill="#d2cde6"/>
<circle cx="521.6" cy="392.1" r="5" fill="#d2cde6"/>
<circle cx="528.0" cy="373.5" r="4.3" fill="#f2f2f4"/>
<circle cx="535.4" cy="370.2" r="4.8" fill="#e7e4f2"/>
<circle cx="546.5" cy="383.4" r="4.6" fill="#f2f2f4"/>
<circle cx="574.0" cy="382.3" r="3.6" fill="#f2f2f4"/>
<circle cx="585.4" cy="381.8" r="4" fill="#f2f2f4"/>
<circle cx="578.0" cy="381.4" r="3.6" fill="#fcac91"/>
<circle cx="578.1" cy="389.2" r="5.3" fill="#fcac91"/>
<circle cx="553.7" cy="367.7" r="4" fill="#fdc8b4"/>
<circle cx="553.2" cy="368.7" r="5.3" fill="#fee2d7"/>
<circle cx="552.7" cy="385.2" r="4.6" fill="#f2f2f4"/>
<circle cx="570.0" cy="364.8" r="3.6" fill="#fee2d7"/>
<circle cx="555.8" cy="362.3" r="4" fill="#fcac91"/>
<circle cx="585.0" cy="390.0" r="3.6" fill="#fee2d7"/>
<circle cx="579.0" cy="371.3" r="5.3" fill="#fee2d7"/>
<circle cx="563.4" cy="372.5" r="3.6" fill="#fee2d7"/>
<circle cx="618.8" cy="372.9" r="4.3" fill="#fee2d7"/>
<circle cx="621.2" cy="391.7" r="5" fill="#fdc8b4"/>
<circle cx="602.5" cy="377.1" r="4.8" fill="#fee2d7"/>
<circle cx="612.2" cy="373.5" r="4.8" fill="#e7e4f2"/>
<circle cx="620.8" cy="397.3" r="4.6" fill="#f2f2f4"/>
<circle cx="595.0" cy="385.8" r="4.8" fill="#fee2d7"/>
<circle cx="628.5" cy="388.3" r="4.8" fill="#fdc8b4"/>
<circle cx="617.6" cy="381.4" r="4.3" fill="#fdc8b4"/>
<circle cx="619.2" cy="368.6" r="4.8" fill="#fee2d7"/>
<circle cx="603.3" cy="376.6" r="4.8" fill="#fee2d7"/>
<circle cx="593.5" cy="372.4" r="5" fill="#fdc8b4"/>
<circle cx="611.3" cy="376.9" r="4.3" fill="#e7e4f2"/>
<circle cx="601.4" cy="389.5" r="4.8" fill="#f2f2f4"/>
<circle cx="591.3" cy="365.6" r="5" fill="#e7e4f2"/>
<circle cx="643.4" cy="373.4" r="4.6" fill="#fdc8b4"/>
<circle cx="667.9" cy="392.0" r="4.8" fill="#fdc8b4"/>
<circle cx="652.9" cy="398.7" r="4" fill="#fdc8b4"/>
<circle cx="657.7" cy="389.4" r="5.3" fill="#e7e4f2"/>
<circle cx="655.5" cy="376.3" r="4.8" fill="#fee2d7"/>
<circle cx="636.6" cy="387.1" r="4" fill="#f2f2f4"/>
<circle cx="673.8" cy="393.3" r="5.3" fill="#e7e4f2"/>
<circle cx="357.6" cy="433.7" r="4.8" fill="#e7e4f2"/>
<circle cx="365.0" cy="433.2" r="4" fill="#f2f2f4"/>
<circle cx="384.9" cy="423.7" r="4.6" fill="#d2cde6"/>
<circle cx="368.2" cy="415.0" r="5.3" fill="#d2cde6"/>
<circle cx="369.3" cy="403.8" r="4.6" fill="#f2f2f4"/>
<circle cx="358.7" cy="429.4" r="4.8" fill="#fee2d7"/>
<circle cx="384.3" cy="403.9" r="4.8" fill="#e7e4f2"/>
<circle cx="381.3" cy="423.2" r="4.3" fill="#e7e4f2"/>
<circle cx="383.3" cy="418.4" r="4.3" fill="#d2cde6"/>
<circle cx="377.4" cy="425.4" r="3.6" fill="#e7e4f2"/>
<circle cx="382.2" cy="420.5" r="5.3" fill="#f2f2f4"/>
<circle cx="371.6" cy="422.7" r="4.3" fill="#e7e4f2"/>
<circle cx="411.0" cy="421.6" r="4.8" fill="#fdc8b4"/>
<circle cx="406.5" cy="424.9" r="4.6" fill="#e7e4f2"/>
<circle cx="402.5" cy="420.2" r="4" fill="#f2f2f4"/>
<circle cx="411.9" cy="438.1" r="4.3" fill="#fee2d7"/>
<circle cx="415.2" cy="438.8" r="5" fill="#d2cde6"/>
<circle cx="412.5" cy="415.0" r="4.3" fill="#fee2d7"/>
<circle cx="426.6" cy="435.0" r="3.6" fill="#d2cde6"/>
<circle cx="425.2" cy="436.2" r="3.6" fill="#fdc8b4"/>
<circle cx="405.6" cy="418.6" r="5.3" fill="#fdc8b4"/>
<circle cx="405.2" cy="429.5" r="5.3" fill="#fee2d7"/>
<circle cx="403.8" cy="418.3" r="4.6" fill="#fdc8b4"/>
<circle cx="404.5" cy="416.8" r="4" fill="#fdc8b4"/>
<circle cx="461.9" cy="415.0" r="4.8" fill="#fcac91"/>
<circle cx="460.9" cy="437.1" r="4.3" fill="#fdc8b4"/>
<circle cx="466.7" cy="411.9" r="5" fill="#fdc8b4"/>
<circle cx="441.4" cy="413.8" r="4" fill="#fdc8b4"/>
<circle cx="458.2" cy="419.7" r="5" fill="#fdc8b4"/>
<circle cx="447.2" cy="403.4" r="4" fill="#fcac91"/>
<circle cx="439.7" cy="402.0" r="4" fill="#fdc8b4"/>
<circle cx="449.2" cy="437.2" r="5" fill="#fdc8b4"/>
<circle cx="458.5" cy="432.7" r="4.6" fill="#fcac91"/>
<circle cx="454.3" cy="438.8" r="4" fill="#fee2d7"/>
<circle cx="451.3" cy="414.2" r="5" fill="#fcac91"/>
<circle cx="452.0" cy="416.9" r="4.3" fill="#fcac91"/>
<circle cx="497.0" cy="407.8" r="5.3" fill="#fdc8b4"/>
<circle cx="497.8" cy="402.8" r="5" fill="#fee2d7"/>
<circle cx="495.5" cy="433.9" r="5" fill="#fdc8b4"/>
<circle cx="488.0" cy="426.9" r="4.6" fill="#fee2d7"/>
<circle cx="475.4" cy="433.4" r="4" fill="#fdc8b4"/>
<circle cx="485.7" cy="435.4" r="4" fill="#fee2d7"/>
<circle cx="490.8" cy="416.8" r="4.3" fill="#f2f2f4"/>
<circle cx="504.0" cy="425.1" r="4.8" fill="#fdc8b4"/>
<circle cx="505.7" cy="431.0" r="4.3" fill="#f2f2f4"/>
<circle cx="503.7" cy="404.9" r="5" fill="#fdc8b4"/>
<circle cx="496.0" cy="436.2" r="4.3" fill="#d2cde6"/>
<circle cx="473.1" cy="424.8" r="5.3" fill="#e7e4f2"/>
<circle cx="505.4" cy="404.8" r="4.3" fill="#f2f2f4"/>
<circle cx="481.3" cy="410.4" r="4" fill="#fee2d7"/>
<circle cx="480.7" cy="416.5" r="4.8" fill="#d2cde6"/>
<circle cx="505.3" cy="403.2" r="4.8" fill="#fdc8b4"/>
<circle cx="490.4" cy="436.9" r="4.3" fill="#e7e4f2"/>
<circle cx="489.2" cy="412.6" r="4" fill="#fee2d7"/>
<circle cx="490.0" cy="423.8" r="4.3" fill="#fee2d7"/>
<circle cx="477.7" cy="429.8" r="4.8" fill="#d2cde6"/>
<circle cx="537.4" cy="421.3" r="4.8" fill="#e7e4f2"/>
<circle cx="523.4" cy="427.2" r="4.3" fill="#f2f2f4"/>
<circle cx="534.7" cy="419.3" r="4" fill="#d2cde6"/>
<circle cx="544.7" cy="427.5" r="3.6" fill="#f2f2f4"/>
<circle cx="535.1" cy="432.5" r="4.8" fill="#e7e4f2"/>
<circle cx="517.5" cy="405.4" r="4.8" fill="#f2f2f4"/>
<circle cx="532.6" cy="434.6" r="4.3" fill="#fee2d7"/>
<circle cx="511.2" cy="401.8" r="5.3" fill="#e7e4f2"/>
<circle cx="534.4" cy="404.2" r="4.3" fill="#f2f2f4"/>
<circle cx="536.9" cy="438.4" r="4.3" fill="#fdc8b4"/>
<circle cx="533.8" cy="420.7" r="3.6" fill="#e7e4f2"/>
<circle cx="523.5" cy="406.3" r="5.3" fill="#e7e4f2"/>
<circle cx="516.4" cy="422.8" r="3.6" fill="#fdc8b4"/>
<circle cx="514.5" cy="439.0" r="4.3" fill="#e7e4f2"/>
<circle cx="520.5" cy="421.1" r="3.6" fill="#fdc8b4"/>
<circle cx="514.0" cy="436.2" r="5" fill="#fdc8b4"/>
<circle cx="535.3" cy="410.2" r="4.3" fill="#fdc8b4"/>
<circle cx="511.3" cy="434.8" r="4.3" fill="#d2cde6"/>
<circle cx="546.1" cy="431.1" r="4.8" fill="#fee2d7"/>
<circle cx="546.2" cy="411.3" r="5" fill="#d2cde6"/>
<circle cx="572.9" cy="428.6" r="4.8" fill="#d2cde6"/>
<circle cx="566.9" cy="436.5" r="4" fill="#e7e4f2"/>
<circle cx="575.0" cy="421.9" r="4.8" fill="#e7e4f2"/>
<circle cx="570.3" cy="407.7" r="4.6" fill="#f2f2f4"/>
<circle cx="561.4" cy="401.8" r="4.8" fill="#e7e4f2"/>
<circle cx="560.9" cy="405.8" r="5" fill="#d2cde6"/>
<circle cx="565.2" cy="425.9" r="4.8" fill="#fdc8b4"/>
<circle cx="572.1" cy="431.6" r="4.8" fill="#e7e4f2"/>
<circle cx="562.7" cy="426.9" r="3.6" fill="#fee2d7"/>
<circle cx="585.7" cy="406.4" r="4.6" fill="#f2f2f4"/>
<circle cx="583.0" cy="433.2" r="4.3" fill="#fdc8b4"/>
<circle cx="584.8" cy="407.1" r="5.3" fill="#fee2d7"/>
<circle cx="567.7" cy="405.5" r="4.3" fill="#fee2d7"/>
<circle cx="562.2" cy="427.1" r="4.8" fill="#e7e4f2"/>
<circle cx="587.2" cy="435.9" r="4.6" fill="#fee2d7"/>
<circle cx="579.4" cy="436.8" r="4.6" fill="#d2cde6"/>
<circle cx="552.2" cy="417.4" r="4.3" fill="#fee2d7"/>
<circle cx="586.5" cy="416.5" r="3.6" fill="#d2cde6"/>
<circle cx="554.8" cy="430.6" r="5.3" fill="#e7e4f2"/>
<circle cx="552.6" cy="405.2" r="4.8" fill="#fee2d7"/>
<circle cx="610.3" cy="414.5" r="5.3" fill="#e7e4f2"/>
<circle cx="628.4" cy="435.5" r="4.3" fill="#d2cde6"/>
<circle cx="621.5" cy="432.1" r="5.3" fill="#fee2d7"/>
<circle cx="614.6" cy="405.0" r="5.3" fill="#e7e4f2"/>
<circle cx="597.0" cy="430.5" r="4.3" fill="#d2cde6"/>
<circle cx="607.1" cy="428.6" r="5" fill="#e7e4f2"/>
<circle cx="614.8" cy="435.1" r="4.8" fill="#fdc8b4"/>
<circle cx="607.5" cy="415.3" r="5.3" fill="#e7e4f2"/>
<circle cx="622.0" cy="417.8" r="4" fill="#d2cde6"/>
<circle cx="615.1" cy="420.7" r="4.3" fill="#fdc8b4"/>
<circle cx="616.6" cy="434.9" r="4.8" fill="#fee2d7"/>
<circle cx="615.4" cy="419.5" r="5.3" fill="#e7e4f2"/>
<circle cx="618.0" cy="438.1" r="4.6" fill="#fdc8b4"/>
<circle cx="625.1" cy="415.6" r="4" fill="#fdc8b4"/>
<circle cx="606.1" cy="409.7" r="4.3" fill="#fee2d7"/>
<circle cx="628.0" cy="413.5" r="5.3" fill="#fee2d7"/>
<circle cx="616.7" cy="429.2" r="4.6" fill="#e7e4f2"/>
<circle cx="615.8" cy="426.2" r="4.6" fill="#fee2d7"/>
<circle cx="607.7" cy="421.6" r="4.6" fill="#f2f2f4"/>
<circle cx="626.2" cy="432.9" r="3.6" fill="#fee2d7"/>
<circle cx="645.3" cy="405.1" r="5" fill="#e7e4f2"/>
<circle cx="633.8" cy="408.0" r="5" fill="#fee2d7"/>
<circle cx="650.1" cy="432.0" r="4" fill="#fee2d7"/>
<circle cx="667.9" cy="432.4" r="3.6" fill="#e7e4f2"/>
<circle cx="648.6" cy="431.8" r="4.8" fill="#f2f2f4"/>
<circle cx="657.4" cy="438.7" r="4.6" fill="#f2f2f4"/>
<circle cx="665.5" cy="426.2" r="5" fill="#fdc8b4"/>
<circle cx="640.1" cy="430.5" r="4" fill="#fee2d7"/>
<circle cx="645.3" cy="401.8" r="4.6" fill="#f2f2f4"/>
<circle cx="640.0" cy="402.5" r="5" fill="#f2f2f4"/>
<circle cx="650.2" cy="424.3" r="4" fill="#d2cde6"/>
<circle cx="646.1" cy="418.7" r="4.6" fill="#e7e4f2"/>
<circle cx="634.4" cy="404.6" r="3.6" fill="#d2cde6"/>
<circle cx="668.2" cy="410.1" r="3.6" fill="#e7e4f2"/>
<circle cx="707.3" cy="412.9" r="5" fill="#b2aad7"/>
<circle cx="686.8" cy="423.6" r="5" fill="#d2cde6"/>
<circle cx="702.4" cy="430.3" r="4.6" fill="#e7e4f2"/>
<circle cx="708.7" cy="431.5" r="4" fill="#d2cde6"/>
<circle cx="697.6" cy="427.5" r="4.6" fill="#d2cde6"/>
<circle cx="702.0" cy="414.7" r="4.3" fill="#d2cde6"/>
<circle cx="692.5" cy="433.1" r="4.8" fill="#e7e4f2"/>
<circle cx="354.2" cy="454.7" r="4.3" fill="#fee2d7"/>
<circle cx="360.7" cy="454.3" r="4.8" fill="#e7e4f2"/>
<circle cx="368.8" cy="446.7" r="4.3" fill="#fee2d7"/>
<circle cx="359.6" cy="443.7" r="4.8" fill="#f2f2f4"/>
<circle cx="374.5" cy="461.6" r="5.3" fill="#d2cde6"/>
<circle cx="360.1" cy="446.3" r="4.6" fill="#fee2d7"/>
<circle cx="378.0" cy="444.1" r="4" fill="#fdc8b4"/>
<circle cx="380.9" cy="443.2" r="4.6" fill="#d2cde6"/>
<circle cx="365.5" cy="466.9" r="4.8" fill="#f2f2f4"/>
<circle cx="395.9" cy="461.5" r="4" fill="#fcac91"/>
<circle cx="423.3" cy="446.3" r="5" fill="#fcac91"/>
<circle cx="418.3" cy="456.1" r="4" fill="#fcac91"/>
<circle cx="402.3" cy="446.5" r="4.8" fill="#fdc8b4"/>
<circle cx="402.1" cy="460.5" r="4" fill="#fdc8b4"/>
<circle cx="417.8" cy="441.8" r="4.8" fill="#fee2d7"/>
<circle cx="394.9" cy="455.2" r="4.3" fill="#fdc8b4"/>
<circle cx="414.5" cy="443.0" r="4" fill="#fdc8b4"/>
<circle cx="421.9" cy="477.4" r="3.6" fill="#fcac91"/>
<circle cx="423.5" cy="465.1" r="5" fill="#fcac91"/>
<circle cx="438.9" cy="460.3" r="5" fill="#fcac91"/>
<circle cx="439.1" cy="477.0" r="4" fill="#fee2d7"/>
<circle cx="461.9" cy="463.0" r="5" fill="#fcac91"/>
<circle cx="435.6" cy="448.7" r="4.6" fill="#fee2d7"/>
<circle cx="456.2" cy="461.7" r="4.3" fill="#fcac91"/>
<circle cx="432.4" cy="447.4" r="4.8" fill="#fee2d7"/>
<circle cx="439.9" cy="456.6" r="5.3" fill="#fdc8b4"/>
<circle cx="456.1" cy="456.1" r="3.6" fill="#fdc8b4"/>
<circle cx="456.4" cy="472.7" r="4.8" fill="#fcac91"/>
<circle cx="431.6" cy="469.6" r="4" fill="#fdc8b4"/>
<circle cx="486.0" cy="468.7" r="4" fill="#fee2d7"/>
<circle cx="474.6" cy="466.8" r="5.3" fill="#fdc8b4"/>
<circle cx="487.1" cy="457.8" r="4.8" fill="#fdc8b4"/>
<circle cx="490.1" cy="473.2" r="4.8" fill="#fee2d7"/>
<circle cx="484.7" cy="449.8" r="4.8" fill="#fcac91"/>
<circle cx="508.3" cy="470.5" r="4.3" fill="#fdc8b4"/>
<circle cx="505.4" cy="458.4" r="4" fill="#f2f2f4"/>
<circle cx="504.9" cy="473.4" r="4.6" fill="#fee2d7"/>
<circle cx="472.6" cy="460.0" r="4.6" fill="#f2f2f4"/>
<circle cx="474.5" cy="456.2" r="5.3" fill="#f2f2f4"/>
<circle cx="492.8" cy="452.4" r="4.3" fill="#fee2d7"/>
<circle cx="488.9" cy="476.5" r="5.3" fill="#f2f2f4"/>
<circle cx="529.1" cy="457.2" r="5" fill="#fee2d7"/>
<circle cx="523.1" cy="446.7" r="4.8" fill="#fee2d7"/>
<circle cx="543.3" cy="451.6" r="5.3" fill="#fee2d7"/>
<circle cx="541.1" cy="454.7" r="4.8" fill="#fdc8b4"/>
<circle cx="541.1" cy="462.9" r="3.6" fill="#fcac91"/>
<circle cx="532.8" cy="441.5" r="4.3" fill="#fdc8b4"/>
<circle cx="546.4" cy="469.5" r="5" fill="#fcac91"/>
<circle cx="525.1" cy="443.8" r="5.3" fill="#fcac91"/>
<circle cx="531.5" cy="453.7" r="3.6" fill="#fee2d7"/>
<circle cx="546.1" cy="475.6" r="4" fill="#fdc8b4"/>
<circle cx="516.6" cy="463.0" r="3.6" fill="#fee2d7"/>
<circle cx="526.4" cy="473.9" r="5.3" fill="#fdc8b4"/>
<circle cx="524.7" cy="454.0" r="4.8" fill="#fdc8b4"/>
<circle cx="525.0" cy="468.0" r="5.3" fill="#fcac91"/>
<circle cx="541.0" cy="469.7" r="4.8" fill="#fdc8b4"/>
<circle cx="521.8" cy="470.9" r="3.6" fill="#fcac91"/>
<circle cx="537.9" cy="475.4" r="4.6" fill="#fdc8b4"/>
<circle cx="514.2" cy="451.7" r="4" fill="#fdc8b4"/>
<circle cx="519.0" cy="451.5" r="3.6" fill="#fdc8b4"/>
<circle cx="579.0" cy="452.5" r="5.3" fill="#fdc8b4"/>
<circle cx="588.1" cy="472.2" r="4.8" fill="#fdc8b4"/>
<circle cx="563.0" cy="476.2" r="4.8" fill="#fdc8b4"/>
<circle cx="556.1" cy="457.8" r="5.3" fill="#e7e4f2"/>
<circle cx="579.4" cy="442.1" r="4.6" fill="#e7e4f2"/>
<circle cx="579.5" cy="474.7" r="5" fill="#fdc8b4"/>
<circle cx="573.4" cy="466.2" r="4.8" fill="#fdc8b4"/>
<circle cx="567.1" cy="478.0" r="4" fill="#fee2d7"/>
<circle cx="555.4" cy="445.9" r="4.8" fill="#f2f2f4"/>
<circle cx="555.7" cy="451.1" r="5.3" fill="#fee2d7"/>
<circle cx="553.1" cy="477.6" r="4.8" fill="#e7e4f2"/>
<circle cx="578.5" cy="449.4" r="3.6" fill="#d2cde6"/>
<circle cx="551.5" cy="459.6" r="4.3" fill="#fee2d7"/>
<circle cx="585.2" cy="442.5" r="5.3" fill="#fee2d7"/>
<circle cx="584.7" cy="460.9" r="3.6" fill="#fee2d7"/>
<circle cx="586.9" cy="448.6" r="4.3" fill="#fee2d7"/>
<circle cx="560.2" cy="460.2" r="4.6" fill="#e7e4f2"/>
<circle cx="586.9" cy="443.8" r="4" fill="#f2f2f4"/>
<circle cx="558.1" cy="464.7" r="4.6" fill="#f2f2f4"/>
<circle cx="574.3" cy="454.8" r="3.6" fill="#fee2d7"/>
<circle cx="626.3" cy="466.0" r="5" fill="#f2f2f4"/>
<circle cx="614.6" cy="473.1" r="4.8" fill="#fcac91"/>
<circle cx="604.1" cy="443.8" r="4" fill="#fee2d7"/>
<circle cx="617.7" cy="471.6" r="4.8" fill="#f2f2f4"/>
<circle cx="616.1" cy="476.7" r="4.8" fill="#fee2d7"/>
<circle cx="616.9" cy="462.9" r="4.8" fill="#fee2d7"/>
<circle cx="608.9" cy="472.6" r="5.3" fill="#fcac91"/>
<circle cx="610.9" cy="462.4" r="4.8" fill="#fee2d7"/>
<circle cx="611.5" cy="450.7" r="4.8" fill="#fdc8b4"/>
<circle cx="619.8" cy="470.7" r="4.3" fill="#fee2d7"/>
<circle cx="599.8" cy="457.9" r="4.6" fill="#fcac91"/>
<circle cx="626.2" cy="467.5" r="4" fill="#fcac91"/>
<circle cx="605.6" cy="457.6" r="3.6" fill="#fcac91"/>
<circle cx="604.5" cy="470.8" r="4.3" fill="#fdc8b4"/>
<circle cx="619.6" cy="469.2" r="4.6" fill="#fee2d7"/>
<circle cx="591.6" cy="453.9" r="5.3" fill="#f2f2f4"/>
<circle cx="622.3" cy="442.9" r="3.6" fill="#fcac91"/>
<circle cx="603.5" cy="466.5" r="3.6" fill="#fcac91"/>
<circle cx="595.9" cy="467.2" r="4.8" fill="#fee2d7"/>
<circle cx="643.9" cy="442.0" r="5" fill="#d2cde6"/>
<circle cx="657.2" cy="469.7" r="4.8" fill="#fdc8b4"/>
<circle cx="659.5" cy="465.3" r="4.3" fill="#e7e4f2"/>
<circle cx="645.4" cy="476.2" r="5.3" fill="#fee2d7"/>
<circle cx="663.9" cy="443.8" r="4.6" fill="#fee2d7"/>
<circle cx="666.6" cy="464.1" r="4" fill="#f2f2f4"/>
<circle cx="654.9" cy="450.3" r="4.6" fill="#fee2d7"/>
<circle cx="639.0" cy="446.8" r="5" fill="#e7e4f2"/>
<circle cx="658.3" cy="454.7" r="5" fill="#d2cde6"/>
<circle cx="657.1" cy="457.9" r="5" fill="#fee2d7"/>
<circle cx="636.6" cy="478.7" r="4.8" fill="#fee2d7"/>
<circle cx="644.0" cy="471.4" r="4.3" fill="#fee2d7"/>
<circle cx="666.7" cy="445.2" r="4.3" fill="#d2cde6"/>
<circle cx="661.8" cy="466.2" r="3.6" fill="#fee2d7"/>
<circle cx="703.0" cy="469.6" r="3.6" fill="#fdc8b4"/>
<circle cx="690.0" cy="474.1" r="4.6" fill="#fdc8b4"/>
<circle cx="685.2" cy="449.8" r="4.8" fill="#fcac91"/>
<circle cx="690.6" cy="460.4" r="4.3" fill="#fcac91"/>
<circle cx="706.1" cy="478.2" r="4" fill="#fcac91"/>
<circle cx="671.1" cy="443.3" r="3.6" fill="#fcac91"/>
<circle cx="673.1" cy="442.3" r="4.3" fill="#fdc8b4"/>
<circle cx="700.8" cy="464.2" r="4" fill="#fee2d7"/>
<circle cx="688.8" cy="451.1" r="4.8" fill="#fee2d7"/>
<circle cx="690.8" cy="474.8" r="4" fill="#fcac91"/>
<circle cx="725.9" cy="443.3" r="5" fill="#f2f2f4"/>
<circle cx="728.2" cy="453.6" r="3.6" fill="#fee2d7"/>
<circle cx="711.6" cy="448.0" r="3.6" fill="#fcac91"/>
<circle cx="356.6" cy="512.7" r="4" fill="#fdc8b4"/>
<circle cx="352.6" cy="491.9" r="3.6" fill="#fee2d7"/>
<circle cx="373.4" cy="497.8" r="5" fill="#fdc8b4"/>
<circle cx="358.0" cy="483.2" r="5" fill="#fdc8b4"/>
<circle cx="378.7" cy="484.3" r="4" fill="#fcac91"/>
<circle cx="426.7" cy="508.1" r="4.6" fill="#f2f2f4"/>
<circle cx="424.1" cy="508.5" r="4.3" fill="#fcac91"/>
<circle cx="420.1" cy="493.4" r="4.6" fill="#fee2d7"/>
<circle cx="420.0" cy="516.1" r="4.6" fill="#f2f2f4"/>
<circle cx="423.9" cy="495.7" r="4" fill="#fee2d7"/>
<circle cx="462.6" cy="499.6" r="4" fill="#fdc8b4"/>
<circle cx="454.0" cy="485.3" r="5.3" fill="#fcac91"/>
<circle cx="461.3" cy="514.6" r="4.3" fill="#fee2d7"/>
<circle cx="466.0" cy="516.4" r="4.6" fill="#fdc8b4"/>
<circle cx="448.3" cy="494.4" r="4.6" fill="#fdc8b4"/>
<circle cx="450.4" cy="495.1" r="4" fill="#fdc8b4"/>
<circle cx="442.5" cy="485.8" r="5" fill="#fee2d7"/>
<circle cx="458.6" cy="487.3" r="4" fill="#fcac91"/>
<circle cx="437.1" cy="511.9" r="4" fill="#fdc8b4"/>
<circle cx="444.5" cy="493.0" r="5.3" fill="#fdc8b4"/>
<circle cx="489.0" cy="483.9" r="4.8" fill="#fcac91"/>
<circle cx="484.4" cy="498.1" r="5.3" fill="#fcac91"/>
<circle cx="476.9" cy="493.0" r="4.6" fill="#fcac91"/>
<circle cx="491.3" cy="518.4" r="5" fill="#fcac91"/>
<circle cx="484.5" cy="517.6" r="5.3" fill="#fee2d7"/>
<circle cx="484.5" cy="513.3" r="5" fill="#fee2d7"/>
<circle cx="501.8" cy="495.2" r="4" fill="#fcac91"/>
<circle cx="507.0" cy="482.2" r="4.8" fill="#fdc8b4"/>
<circle cx="498.0" cy="511.3" r="4" fill="#fcac91"/>
<circle cx="502.8" cy="492.6" r="4.6" fill="#fee2d7"/>
<circle cx="480.3" cy="510.4" r="4.3" fill="#fcac91"/>
<circle cx="497.5" cy="481.3" r="4" fill="#fcac91"/>
<circle cx="519.5" cy="500.2" r="4" fill="#fdc8b4"/>
<circle cx="517.2" cy="483.9" r="4.8" fill="#fee2d7"/>
<circle cx="530.4" cy="514.8" r="5.3" fill="#fee2d7"/>
<circle cx="531.6" cy="497.4" r="4.8" fill="#fdc8b4"/>
<circle cx="530.4" cy="487.9" r="4" fill="#fdc8b4"/>
<circle cx="527.5" cy="483.8" r="4" fill="#fcac91"/>
<circle cx="540.0" cy="486.1" r="3.6" fill="#fcac91"/>
<circle cx="517.2" cy="494.8" r="5.3" fill="#fcac91"/>
<circle cx="524.7" cy="504.2" r="3.6" fill="#fcac91"/>
<circle cx="527.8" cy="505.9" r="4.3" fill="#fee2d7"/>
<circle cx="517.3" cy="507.3" r="4" fill="#fcac91"/>
<circle cx="523.0" cy="499.3" r="3.6" fill="#fcac91"/>
<circle cx="543.4" cy="500.0" r="4" fill="#fdc8b4"/>
<circle cx="529.6" cy="500.4" r="5" fill="#fee2d7"/>
<circle cx="548.9" cy="504.0" r="3.6" fill="#fee2d7"/>
<circle cx="529.3" cy="496.8" r="4.3" fill="#fcac91"/>
<circle cx="513.4" cy="506.0" r="3.6" fill="#fdc8b4"/>
<circle cx="548.6" cy="515.5" r="4.3" fill="#fcac91"/>
<circle cx="521.0" cy="512.1" r="4.6" fill="#fdc8b4"/>
<circle cx="566.8" cy="481.5" r="5" fill="#fee2d7"/>
<circle cx="562.0" cy="485.4" r="4.8" fill="#fee2d7"/>
<circle cx="559.3" cy="494.5" r="5" fill="#d2cde6"/>
<circle cx="572.5" cy="502.9" r="4.3" fill="#f2f2f4"/>
<circle cx="576.7" cy="493.3" r="3.6" fill="#e7e4f2"/>
<circle cx="566.1" cy="500.8" r="5" fill="#f2f2f4"/>
<circle cx="584.2" cy="496.0" r="4" fill="#fee2d7"/>
<circle cx="582.6" cy="517.9" r="3.6" fill="#fee2d7"/>
<circle cx="578.8" cy="490.4" r="3.6" fill="#d2cde6"/>
<circle cx="552.5" cy="500.3" r="4.6" fill="#f2f2f4"/>
<circle cx="577.6" cy="515.8" r="4" fill="#fdc8b4"/>
<circle cx="572.4" cy="499.9" r="4.6" fill="#fdc8b4"/>
<circle cx="572.0" cy="502.4" r="4.6" fill="#d2cde6"/>
<circle cx="557.3" cy="503.4" r="5.3" fill="#fdc8b4"/>
<circle cx="578.6" cy="512.2" r="4" fill="#fee2d7"/>
<circle cx="577.1" cy="506.2" r="5.3" fill="#e7e4f2"/>
<circle cx="554.4" cy="509.8" r="4" fill="#e7e4f2"/>
<circle cx="557.1" cy="497.8" r="3.6" fill="#fdc8b4"/>
<circle cx="587.3" cy="502.6" r="4" fill="#fdc8b4"/>
<circle cx="572.6" cy="499.2" r="4" fill="#f2f2f4"/>
<circle cx="624.6" cy="504.2" r="5" fill="#e7e4f2"/>
<circle cx="597.2" cy="488.9" r="4.6" fill="#e7e4f2"/>
<circle cx="595.7" cy="491.0" r="4.3" fill="#d2cde6"/>
<circle cx="596.0" cy="511.6" r="4.8" fill="#e7e4f2"/>
<circle cx="611.1" cy="489.9" r="4.6" fill="#e7e4f2"/>
<circle cx="608.8" cy="500.4" r="4" fill="#b2aad7"/>
<circle cx="610.8" cy="500.3" r="4.8" fill="#b2aad7"/>
<circle cx="623.0" cy="488.9" r="4" fill="#e7e4f2"/>
<circle cx="616.9" cy="511.9" r="3.6" fill="#b2aad7"/>
<circle cx="607.2" cy="508.1" r="5" fill="#d2cde6"/>
<circle cx="637.8" cy="514.7" r="5.3" fill="#fee2d7"/>
<circle cx="651.3" cy="494.8" r="3.6" fill="#d2cde6"/>
<circle cx="634.2" cy="485.1" r="4.6" fill="#e7e4f2"/>
<circle cx="636.2" cy="496.1" r="4.6" fill="#fee2d7"/>
<circle cx="650.8" cy="503.6" r="4" fill="#e7e4f2"/>
<circle cx="667.0" cy="503.4" r="4.6" fill="#fee2d7"/>
<circle cx="682.0" cy="494.3" r="5.3" fill="#d2cde6"/>
<circle cx="693.7" cy="487.9" r="4.8" fill="#d2cde6"/>
<circle cx="273.3" cy="546.5" r="4" fill="#e7e4f2"/>
<circle cx="287.9" cy="533.1" r="5" fill="#f2f2f4"/>
<circle cx="274.9" cy="523.0" r="4.3" fill="#e7e4f2"/>
<circle cx="306.4" cy="538.7" r="3.6" fill="#e7e4f2"/>
<circle cx="277.2" cy="541.6" r="4.8" fill="#fee2d7"/>
<circle cx="299.2" cy="539.2" r="4.3" fill="#d2cde6"/>
<circle cx="276.5" cy="557.9" r="4" fill="#e7e4f2"/>
<circle cx="279.5" cy="551.8" r="4.6" fill="#d2cde6"/>
<circle cx="295.7" cy="526.9" r="3.6" fill="#e7e4f2"/>
<circle cx="287.2" cy="538.2" r="4.8" fill="#f2f2f4"/>
<circle cx="323.2" cy="531.6" r="4.6" fill="#e7e4f2"/>
<circle cx="329.5" cy="537.9" r="5" fill="#f2f2f4"/>
<circle cx="333.1" cy="532.9" r="4" fill="#f2f2f4"/>
<circle cx="314.8" cy="527.8" r="4.6" fill="#d2cde6"/>
<circle cx="315.0" cy="525.7" r="4.3" fill="#f2f2f4"/>
<circle cx="348.8" cy="539.8" r="5" fill="#e7e4f2"/>
<circle cx="324.0" cy="543.1" r="4.8" fill="#e7e4f2"/>
<circle cx="341.4" cy="533.3" r="5.3" fill="#fee2d7"/>
<circle cx="331.4" cy="529.3" r="4.8" fill="#d2cde6"/>
<circle cx="358.6" cy="543.6" r="3.6" fill="#fdc8b4"/>
<circle cx="380.7" cy="555.4" r="4.3" fill="#fdc8b4"/>
<circle cx="367.0" cy="522.1" r="4.3" fill="#fee2d7"/>
<circle cx="373.8" cy="554.5" r="4" fill="#fee2d7"/>
<circle cx="380.9" cy="553.4" r="4" fill="#fee2d7"/>
<circle cx="402.9" cy="558.8" r="5" fill="#fdc8b4"/>
<circle cx="420.4" cy="521.3" r="4.8" fill="#fdc8b4"/>
<circle cx="420.8" cy="544.4" r="4" fill="#fcac91"/>
<circle cx="393.5" cy="544.2" r="4" fill="#fdc8b4"/>
<circle cx="418.0" cy="532.2" r="3.6" fill="#fdc8b4"/>
<circle cx="421.7" cy="524.5" r="4" fill="#fdc8b4"/>
<circle cx="395.2" cy="551.1" r="5.3" fill="#fcac91"/>
<circle cx="403.9" cy="535.3" r="4.8" fill="#fdc8b4"/>
<circle cx="424.1" cy="556.9" r="4.3" fill="#fee2d7"/>
<circle cx="426.8" cy="528.9" r="4" fill="#fcac91"/>
<circle cx="467.9" cy="527.1" r="3.6" fill="#fcac91"/>
<circle cx="447.8" cy="540.8" r="4" fill="#fdc8b4"/>
<circle cx="503.3" cy="544.1" r="5" fill="#fcac91"/>
<circle cx="496.9" cy="543.6" r="4.3" fill="#fdc8b4"/>
<circle cx="500.6" cy="529.6" r="4.6" fill="#fcac91"/>
<circle cx="493.5" cy="522.3" r="3.6" fill="#fcac91"/>
<circle cx="476.1" cy="538.8" r="4" fill="#fdc8b4"/>
<circle cx="524.7" cy="526.2" r="4.3" fill="#fcac91"/>
<circle cx="548.4" cy="535.6" r="4.8" fill="#fdc8b4"/>
<circle cx="528.5" cy="528.5" r="4" fill="#fdc8b4"/>
<circle cx="537.2" cy="551.3" r="5" fill="#fcac91"/>
<circle cx="522.6" cy="531.1" r="4" fill="#f2f2f4"/>
<circle cx="553.7" cy="525.0" r="5.3" fill="#fcac91"/>
<circle cx="566.2" cy="525.0" r="4.8" fill="#fee2d7"/>
<circle cx="578.0" cy="539.4" r="4" fill="#fdc8b4"/>
<circle cx="567.4" cy="545.6" r="4.6" fill="#fdc8b4"/>
<circle cx="593.5" cy="530.0" r="4" fill="#fd915f"/>
<circle cx="292.6" cy="563.1" r="3.6" fill="#e7e4f2"/>
<circle cx="276.0" cy="570.0" r="4.6" fill="#f2f2f4"/>
<circle cx="300.6" cy="583.2" r="4.8" fill="#e7e4f2"/>
<circle cx="288.3" cy="587.2" r="4.3" fill="#d2cde6"/>
<circle cx="293.2" cy="574.3" r="5" fill="#d2cde6"/>
<circle cx="295.3" cy="577.6" r="5.3" fill="#d2cde6"/>
<circle cx="311.7" cy="565.9" r="3.6" fill="#f2f2f4"/>
<circle cx="328.9" cy="562.0" r="5.3" fill="#e7e4f2"/>
<circle cx="341.3" cy="598.2" r="3.6" fill="#fee2d7"/>
<circle cx="328.9" cy="583.9" r="4" fill="#e7e4f2"/>
<circle cx="331.5" cy="586.6" r="5" fill="#fee2d7"/>
<circle cx="333.9" cy="597.2" r="4.8" fill="#d2cde6"/>
<circle cx="365.4" cy="592.6" r="4.6" fill="#fee2d7"/>
<circle cx="355.4" cy="569.0" r="5.3" fill="#f2f2f4"/>
<circle cx="377.5" cy="565.0" r="3.6" fill="#fee2d7"/>
<circle cx="384.6" cy="568.4" r="5" fill="#fcac91"/>
<circle cx="373.5" cy="561.1" r="4" fill="#fee2d7"/>
<circle cx="394.5" cy="579.5" r="4.8" fill="#fcac91"/>
<circle cx="407.3" cy="572.3" r="5" fill="#fcac91"/>
<circle cx="413.6" cy="571.5" r="4.6" fill="#fee2d7"/>
<circle cx="407.6" cy="571.2" r="5.3" fill="#fdc8b4"/>
<circle cx="427.9" cy="579.2" r="3.6" fill="#fee2d7"/>
<circle cx="401.2" cy="567.6" r="4.6" fill="#fdc8b4"/>
<circle cx="402.2" cy="583.4" r="4.8" fill="#fdc8b4"/>
<circle cx="428.0" cy="576.1" r="5" fill="#fdc8b4"/>
<circle cx="412.3" cy="576.1" r="4.3" fill="#fcac91"/>
<circle cx="476.3" cy="580.1" r="4.6" fill="#fcac91"/>
<circle cx="503.3" cy="577.9" r="4.3" fill="#fee2d7"/>
<circle cx="491.6" cy="565.8" r="4.8" fill="#fcac91"/>
<circle cx="478.7" cy="571.2" r="5.3" fill="#fcac91"/>
<circle cx="488.6" cy="561.5" r="5" fill="#fdc8b4"/>
<circle cx="342.7" cy="273.8" r="4.9" fill="#fcac91"/>
<circle cx="342.2" cy="270.6" r="5.2" fill="#fcac91"/>
<circle cx="333.8" cy="261.1" r="4" fill="#fcac91"/>
<circle cx="332.3" cy="270.6" r="4.3" fill="#fcac91"/>
<circle cx="340.7" cy="264.6" r="4.3" fill="#fcac91"/>
<circle cx="280.1" cy="298.0" r="5.2" fill="#fe2378"/>
<circle cx="275.3" cy="282.7" r="5.2" fill="#ee2d05"/>
<circle cx="271.4" cy="291.9" r="4" fill="#ee2d05"/>
<circle cx="278.6" cy="299.3" r="4.9" fill="#fe2378"/>
<circle cx="278.7" cy="296.2" r="4.3" fill="#ee2d05"/>
<circle cx="305.4" cy="280.7" r="4.9" fill="#fe2378"/>
<circle cx="297.1" cy="287.1" r="4.3" fill="#ee2d05"/>
<circle cx="305.8" cy="284.6" r="4" fill="#ee2d05"/>
<circle cx="291.3" cy="288.9" r="4.3" fill="#ee2d05"/>
<circle cx="295.2" cy="293.8" r="5.2" fill="#fe2378"/>
<circle cx="312.1" cy="293.7" r="5.2" fill="#fcac91"/>
<circle cx="319.4" cy="285.3" r="4.6" fill="#fcac91"/>
<circle cx="326.0" cy="293.8" r="4.9" fill="#fcac91"/>
<circle cx="325.8" cy="287.7" r="5.2" fill="#fcac91"/>
<circle cx="312.6" cy="297.1" r="4" fill="#fd915f"/>
<circle cx="344.0" cy="288.7" r="5.2" fill="#fdc8b4"/>
<circle cx="332.0" cy="284.8" r="5.2" fill="#fee2d7"/>
<circle cx="262.9" cy="311.9" r="5.2" fill="#fe2378"/>
<circle cx="258.0" cy="319.4" r="4" fill="#fe2378"/>
<circle cx="268.9" cy="302.8" r="4.3" fill="#ee2d05"/>
<circle cx="282.8" cy="304.0" r="4.6" fill="#fd915f"/>
<circle cx="281.9" cy="305.3" r="4" fill="#fd6419"/>
<circle cx="285.7" cy="303.1" r="5.2" fill="#fd6419"/>
<circle cx="288.9" cy="318.0" r="4" fill="#fd6419"/>
<circle cx="285.4" cy="309.1" r="4" fill="#fd6419"/>
<circle cx="292.8" cy="301.7" r="4.9" fill="#fd915f"/>
<circle cx="299.6" cy="314.4" r="5.2" fill="#fd915f"/>
<circle cx="299.8" cy="316.8" r="4.3" fill="#fd915f"/>
<circle cx="297.5" cy="301.2" r="5.2" fill="#fd915f"/>
<circle cx="295.0" cy="300.8" r="4.9" fill="#fd915f"/>
<circle cx="315.9" cy="300.8" r="4" fill="#fcac91"/>
<circle cx="311.5" cy="300.9" r="4.6" fill="#fd915f"/>
<circle cx="316.2" cy="310.7" r="5.2" fill="#fd915f"/>
<circle cx="327.0" cy="317.1" r="4.3" fill="#fd915f"/>
<circle cx="327.5" cy="305.0" r="5.2" fill="#fcac91"/>
<circle cx="349.8" cy="312.7" r="4.3" fill="#fcac91"/>
<circle cx="349.1" cy="306.1" r="5.2" fill="#fcac91"/>
<circle cx="344.3" cy="311.8" r="4.9" fill="#fcac91"/>
<circle cx="347.5" cy="315.7" r="4.3" fill="#fdc8b4"/>
<circle cx="267.2" cy="321.7" r="4.9" fill="#ee2d05"/>
<circle cx="252.8" cy="336.3" r="5.2" fill="#ee2d05"/>
<circle cx="256.3" cy="338.2" r="4.3" fill="#ee2d05"/>
<circle cx="265.8" cy="334.0" r="4.6" fill="#ee2d05"/>
<circle cx="284.4" cy="325.8" r="4.9" fill="#ee2d05"/>
<circle cx="271.7" cy="321.4" r="4.3" fill="#fe2378"/>
<circle cx="280.5" cy="334.3" r="5.2" fill="#fe2378"/>
<circle cx="270.2" cy="339.1" r="4.9" fill="#fe2378"/>
<circle cx="280.8" cy="323.8" r="4.3" fill="#ee2d05"/>
<circle cx="294.3" cy="332.1" r="4.6" fill="#fd6419"/>
<circle cx="308.4" cy="325.3" r="4" fill="#fd915f"/>
<circle cx="307.5" cy="332.5" r="4.9" fill="#fd915f"/>
<circle cx="294.1" cy="326.3" r="4.6" fill="#fd915f"/>
<circle cx="294.9" cy="337.4" r="4.3" fill="#fd915f"/>
<circle cx="313.9" cy="338.1" r="5.2" fill="#fcac91"/>
<circle cx="318.8" cy="334.6" r="5.2" fill="#fcac91"/>
<circle cx="326.6" cy="323.5" r="5.2" fill="#fcac91"/>
<circle cx="314.5" cy="321.3" r="4.3" fill="#fd915f"/>
<circle cx="328.3" cy="321.7" r="5.2" fill="#fd915f"/>
<circle cx="333.9" cy="320.2" r="4.6" fill="#fcac91"/>
<circle cx="335.2" cy="330.9" r="4.9" fill="#fee2d7"/>
<circle cx="335.6" cy="323.6" r="4.9" fill="#fee2d7"/>
<circle cx="332.7" cy="332.4" r="5.2" fill="#fdc8b4"/>
<circle cx="266.0" cy="340.7" r="5.2" fill="#fe2378"/>
<circle cx="260.9" cy="350.9" r="5.2" fill="#fe2378"/>
<circle cx="254.4" cy="346.1" r="4.9" fill="#ee2d05"/>
<circle cx="268.2" cy="340.5" r="5.2" fill="#ee2d05"/>
<circle cx="253.8" cy="350.4" r="5.2" fill="#fe2378"/>
<circle cx="274.6" cy="344.2" r="4.3" fill="#fd6419"/>
<circle cx="283.2" cy="348.1" r="4.6" fill="#fd6419"/>
<circle cx="273.0" cy="342.0" r="4" fill="#fd915f"/>
<circle cx="279.5" cy="343.5" r="4.3" fill="#fd915f"/>
<circle cx="286.2" cy="358.7" r="4.9" fill="#fd6419"/>
<circle cx="291.3" cy="346.8" r="4.9" fill="#fd915f"/>
<circle cx="300.2" cy="347.4" r="5.2" fill="#fd915f"/>
<circle cx="306.9" cy="348.9" r="4.9" fill="#fd6419"/>
<circle cx="297.7" cy="356.0" r="4.3" fill="#fd915f"/>
<circle cx="308.0" cy="357.3" r="4.3" fill="#fd6419"/>
<circle cx="311.5" cy="348.4" r="5.2" fill="#fcac91"/>
<circle cx="311.2" cy="355.3" r="4" fill="#fcac91"/>
<circle cx="319.1" cy="350.2" r="4.6" fill="#fcac91"/>
<circle cx="315.5" cy="351.8" r="5.2" fill="#fd915f"/>
<circle cx="312.6" cy="343.3" r="4.6" fill="#fcac91"/>
<circle cx="344.6" cy="349.8" r="4.9" fill="#fdc8b4"/>
<circle cx="349.2" cy="345.1" r="4.6" fill="#fcac91"/>
<circle cx="330.5" cy="341.7" r="5.2" fill="#fdc8b4"/>
<circle cx="334.4" cy="354.8" r="4.3" fill="#fee2d7"/>
<circle cx="245.5" cy="369.1" r="4.9" fill="#ee2d05"/>
<circle cx="248.7" cy="360.7" r="4" fill="#ee2d05"/>
<circle cx="260.8" cy="372.4" r="4.6" fill="#fe2378"/>
<circle cx="259.1" cy="366.8" r="4.3" fill="#ee2d05"/>
<circle cx="264.7" cy="378.4" r="4" fill="#fe2378"/>
<circle cx="258.8" cy="364.0" r="4.3" fill="#fe2378"/>
<circle cx="254.6" cy="367.9" r="4.3" fill="#ee2d05"/>
<circle cx="270.1" cy="370.8" r="5.2" fill="#fd915f"/>
<circle cx="270.8" cy="368.5" r="4.6" fill="#fd915f"/>
<circle cx="273.8" cy="360.8" r="4.9" fill="#fd915f"/>
<circle cx="278.0" cy="368.5" r="4.9" fill="#fd6419"/>
<circle cx="281.3" cy="360.5" r="4.9" fill="#fd915f"/>
<circle cx="293.2" cy="368.6" r="5.2" fill="#fcac91"/>
<circle cx="295.3" cy="368.3" r="4.9" fill="#fd915f"/>
<circle cx="309.2" cy="378.7" r="4.9" fill="#fcac91"/>
<circle cx="301.0" cy="365.7" r="4.6" fill="#fcac91"/>
<circle cx="295.3" cy="377.0" r="4" fill="#fd915f"/>
<circle cx="324.2" cy="367.8" r="4.6" fill="#fcac91"/>
<circle cx="319.8" cy="363.2" r="4.9" fill="#fdc8b4"/>
<circle cx="314.4" cy="362.3" r="4" fill="#fdc8b4"/>
<circle cx="311.4" cy="369.4" r="4.9" fill="#fdc8b4"/>
<circle cx="331.2" cy="361.0" r="4.9" fill="#fee2d7"/>
<circle cx="342.8" cy="367.1" r="4.9" fill="#fee2d7"/>
<circle cx="244.5" cy="391.2" r="4.9" fill="#fe2378"/>
<circle cx="244.2" cy="394.6" r="4.9" fill="#ee2d05"/>
<circle cx="253.7" cy="397.1" r="4.6" fill="#fd6419"/>
<circle cx="269.3" cy="381.3" r="5.2" fill="#fd6419"/>
<circle cx="261.5" cy="399.4" r="4.3" fill="#fd6419"/>
<circle cx="260.6" cy="389.5" r="4.3" fill="#fd6419"/>
<circle cx="262.3" cy="398.2" r="4.3" fill="#fd6419"/>
<circle cx="276.0" cy="397.0" r="4.3" fill="#fcac91"/>
<circle cx="278.5" cy="387.0" r="4" fill="#fcac91"/>
<circle cx="270.5" cy="385.0" r="4.3" fill="#fcac91"/>
<circle cx="278.9" cy="391.8" r="4.9" fill="#fd915f"/>
<circle cx="288.5" cy="398.0" r="4" fill="#fcac91"/>
<circle cx="305.5" cy="398.4" r="5.2" fill="#fee2d7"/>
<circle cx="309.0" cy="381.8" r="4" fill="#fdc8b4"/>
<circle cx="293.7" cy="383.9" r="4.9" fill="#fee2d7"/>
<circle cx="304.3" cy="390.2" r="4.6" fill="#fee2d7"/>
<circle cx="327.4" cy="394.2" r="4.9" fill="#e7e4f2"/>
<circle cx="311.4" cy="394.7" r="4.3" fill="#fee2d7"/>
<circle cx="342.1" cy="392.6" r="4.9" fill="#fee2d7"/>
<circle cx="331.1" cy="386.9" r="4" fill="#fee2d7"/>
<circle cx="242.4" cy="406.3" r="4" fill="#ee2d05"/>
<circle cx="248.4" cy="414.6" r="4.9" fill="#ee2d05"/>
<circle cx="247.1" cy="413.8" r="4" fill="#fe2378"/>
<circle cx="261.3" cy="417.6" r="4" fill="#fee2d7"/>
<circle cx="285.2" cy="407.0" r="4.9" fill="#fcac91"/>
<circle cx="272.9" cy="418.8" r="4.6" fill="#fcac91"/>
<circle cx="286.5" cy="403.3" r="5.2" fill="#fcac91"/>
<circle cx="284.5" cy="411.7" r="5.2" fill="#fd915f"/>
<circle cx="284.8" cy="400.7" r="4.9" fill="#fcac91"/>
<circle cx="308.3" cy="406.5" r="4.9" fill="#fee2d7"/>
<circle cx="301.5" cy="418.5" r="5.2" fill="#fdc8b4"/>
<circle cx="300.1" cy="412.8" r="5.2" fill="#fee2d7"/>
<circle cx="295.2" cy="409.8" r="4" fill="#fcac91"/>
<circle cx="313.2" cy="412.7" r="4.6" fill="#fcac91"/>
<circle cx="315.5" cy="405.1" r="4" fill="#fcac91"/>
<circle cx="326.7" cy="418.5" r="4" fill="#fcac91"/>
<circle cx="328.9" cy="409.3" r="4.3" fill="#fcac91"/>
<circle cx="314.5" cy="402.2" r="4" fill="#fcac91"/>
<circle cx="341.6" cy="402.3" r="4.6" fill="#fee2d7"/>
<circle cx="332.9" cy="406.9" r="4" fill="#fee2d7"/>
<circle cx="349.5" cy="412.3" r="4.3" fill="#fdc8b4"/>
<circle cx="340.7" cy="409.8" r="4.3" fill="#fcac91"/>
<circle cx="246.6" cy="428.0" r="5.2" fill="#ee2d05"/>
<circle cx="248.6" cy="436.2" r="4" fill="#ee2d05"/>
<circle cx="246.2" cy="426.0" r="4.9" fill="#ee2d05"/>
<circle cx="264.8" cy="431.0" r="5.2" fill="#ee2d05"/>
<circle cx="259.2" cy="422.3" r="4.3" fill="#ee2d05"/>
<circle cx="262.8" cy="435.6" r="5.2" fill="#fe2378"/>
<circle cx="257.3" cy="434.2" r="4" fill="#fe2378"/>
<circle cx="266.2" cy="423.1" r="4" fill="#ee2d05"/>
<circle cx="275.0" cy="436.4" r="4.6" fill="#fd6419"/>
<circle cx="281.2" cy="438.8" r="4" fill="#fd6419"/>
<circle cx="284.2" cy="429.6" r="4.3" fill="#fd915f"/>
<circle cx="283.4" cy="428.5" r="5.2" fill="#fd915f"/>
<circle cx="272.2" cy="421.1" r="4.6" fill="#fd6419"/>
<circle cx="294.0" cy="424.2" r="4.3" fill="#fcac91"/>
<circle cx="296.9" cy="437.4" r="4.9" fill="#fcac91"/>
<circle cx="298.6" cy="429.7" r="5.2" fill="#fd915f"/>
<circle cx="292.0" cy="422.2" r="4.9" fill="#fcac91"/>
<circle cx="292.3" cy="428.8" r="5.2" fill="#fcac91"/>
<circle cx="313.2" cy="425.5" r="4.6" fill="#fcac91"/>
<circle cx="324.9" cy="431.3" r="4.3" fill="#fdc8b4"/>
<circle cx="314.4" cy="438.5" r="5.2" fill="#fdc8b4"/>
<circle cx="316.8" cy="438.2" r="4.3" fill="#fdc8b4"/>
<circle cx="335.2" cy="438.2" r="4" fill="#fcac91"/>
<circle cx="343.8" cy="433.8" r="4.6" fill="#fcac91"/>
<circle cx="332.1" cy="420.1" r="4.9" fill="#fd915f"/>
<circle cx="341.5" cy="433.7" r="4.9" fill="#fd915f"/>
<circle cx="350.0" cy="435.8" r="4.6" fill="#fcac91"/>
<circle cx="245.1" cy="445.5" r="4.6" fill="#fe2378"/>
<circle cx="248.6" cy="458.5" r="4.9" fill="#fe2378"/>
<circle cx="245.5" cy="454.3" r="4" fill="#fe2378"/>
<circle cx="265.5" cy="450.7" r="4.6" fill="#fd915f"/>
<circle cx="258.0" cy="440.1" r="4.9" fill="#fd6419"/>
<circle cx="264.6" cy="444.2" r="4.9" fill="#fd915f"/>
<circle cx="259.9" cy="448.2" r="4.3" fill="#fd915f"/>
<circle cx="254.3" cy="446.2" r="5.2" fill="#fd6419"/>
<circle cx="287.2" cy="445.9" r="4.3" fill="#fd6419"/>
<circle cx="286.5" cy="450.3" r="4.9" fill="#fd6419"/>
<circle cx="278.7" cy="450.4" r="4.3" fill="#fd6419"/>
<circle cx="270.8" cy="450.0" r="5.2" fill="#fd6419"/>
<circle cx="279.9" cy="445.3" r="4.6" fill="#fd6419"/>
<circle cx="306.0" cy="446.7" r="4.3" fill="#fd6419"/>
<circle cx="297.7" cy="453.5" r="4.9" fill="#fd915f"/>
<circle cx="307.9" cy="447.7" r="4" fill="#fd915f"/>
<circle cx="309.4" cy="446.3" r="5.2" fill="#fd6419"/>
<circle cx="290.8" cy="455.9" r="5.2" fill="#fd6419"/>
<circle cx="312.6" cy="440.2" r="4.3" fill="#fd915f"/>
<circle cx="320.4" cy="458.8" r="4.3" fill="#fcac91"/>
<circle cx="310.7" cy="440.4" r="4.9" fill="#fcac91"/>
<circle cx="313.4" cy="456.2" r="4.6" fill="#fcac91"/>
<circle cx="327.0" cy="448.6" r="4.3" fill="#fcac91"/>
<circle cx="330.8" cy="447.8" r="5.2" fill="#fdc8b4"/>
<circle cx="337.6" cy="448.7" r="4" fill="#fdc8b4"/>
<circle cx="336.7" cy="451.8" r="4.9" fill="#fdc8b4"/>
<circle cx="341.6" cy="453.5" r="4.6" fill="#fee2d7"/>
<circle cx="247.3" cy="463.6" r="4.3" fill="#fcac91"/>
<circle cx="247.3" cy="476.0" r="4.9" fill="#fcac91"/>
<circle cx="265.1" cy="473.9" r="4.6" fill="#fd915f"/>
<circle cx="255.9" cy="461.1" r="4.3" fill="#fd6419"/>
<circle cx="261.0" cy="462.5" r="4.9" fill="#fd915f"/>
<circle cx="261.3" cy="465.9" r="4.9" fill="#fd6419"/>
<circle cx="251.9" cy="463.2" r="4.3" fill="#fd915f"/>
<circle cx="273.5" cy="474.0" r="5.2" fill="#fd915f"/>
<circle cx="280.6" cy="474.4" r="4.3" fill="#fd915f"/>
<circle cx="283.6" cy="473.4" r="5.2" fill="#fd915f"/>
<circle cx="285.3" cy="476.0" r="4.3" fill="#fd915f"/>
<circle cx="284.8" cy="475.6" r="4.9" fill="#fd915f"/>
<circle cx="293.2" cy="461.8" r="4.9" fill="#fd6419"/>
<circle cx="307.0" cy="473.3" r="4.3" fill="#fd6419"/>
<circle cx="306.4" cy="464.9" r="4.6" fill="#fd6419"/>
<circle cx="307.9" cy="474.3" r="4.6" fill="#fd6419"/>
<circle cx="301.6" cy="465.5" r="4.3" fill="#fd6419"/>
<circle cx="320.7" cy="460.4" r="4.3" fill="#fd915f"/>
<circle cx="313.4" cy="466.4" r="4.3" fill="#fcac91"/>
<circle cx="322.2" cy="467.8" r="4.6" fill="#fcac91"/>
<circle cx="322.7" cy="467.5" r="4" fill="#fcac91"/>
<circle cx="324.4" cy="478.8" r="4.6" fill="#fd915f"/>
<circle cx="261.6" cy="482.8" r="4" fill="#fcac91"/>
<circle cx="255.2" cy="495.5" r="4.3" fill="#fcac91"/>
<circle cx="267.3" cy="480.8" r="4.6" fill="#fcac91"/>
<circle cx="266.6" cy="493.6" r="4.9" fill="#fcac91"/>
<circle cx="266.3" cy="498.2" r="4.9" fill="#fd915f"/>
<circle cx="288.7" cy="494.4" r="4.3" fill="#fee2d7"/>
<circle cx="287.2" cy="485.8" r="4" fill="#fdc8b4"/>
<circle cx="289.1" cy="483.2" r="4.6" fill="#fcac91"/>
<circle cx="281.4" cy="494.1" r="4" fill="#fee2d7"/>
<circle cx="291.0" cy="492.2" r="4" fill="#fcac91"/>
<circle cx="307.2" cy="489.6" r="4.3" fill="#fcac91"/>
<circle cx="294.4" cy="481.9" r="4.6" fill="#fd915f"/>
<circle cx="300.1" cy="496.2" r="4.3" fill="#fcac91"/>
<circle cx="302.6" cy="489.7" r="4.3" fill="#fcac91"/>
<circle cx="320.1" cy="493.6" r="4.3" fill="#fdc8b4"/>
<circle cx="315.5" cy="498.9" r="4" fill="#fdc8b4"/>
<circle cx="317.4" cy="496.6" r="4.3" fill="#fdc8b4"/>
<circle cx="328.7" cy="493.1" r="4.3" fill="#fdc8b4"/>
<circle cx="258.4" cy="515.3" r="4.3" fill="#fdc8b4"/>
<circle cx="268.0" cy="518.4" r="4.3" fill="#fee2d7"/>
<circle cx="254.3" cy="507.9" r="4.9" fill="#fdc8b4"/>
<circle cx="282.1" cy="516.1" r="4.3" fill="#fee2d7"/>
<circle cx="271.5" cy="503.0" r="4.3" fill="#fee2d7"/>
<circle cx="302.3" cy="519.2" r="5.2" fill="#fcac91"/>
<circle cx="309.3" cy="519.8" r="5.2" fill="#fcac91"/>
<circle cx="309.8" cy="507.1" r="4.6" fill="#fdc8b4"/>
<circle cx="303.1" cy="509.4" r="5.2" fill="#fdc8b4"/>
</g>
</g>
<rect x="377.5" y="242.5" width="121.5" height="45.0" fill="none" stroke="#1a1a1a" stroke-width="3.6"/>
<rect x="329.7" y="324.9" width="74.2" height="52.5" fill="none" stroke="#1a1a1a" stroke-width="3.6"/>
<rect x="269.0" y="528.3" width="60.5" height="58.7" fill="none" stroke="#1a1a1a" stroke-width="3.6"/>
<text x="510.0" y="297.2" font-size="40">region1</text>
<text x="421.5" y="379.9" font-size="40">region2</text>
<text x="342.0" y="550.4" font-size="40">region3</text>
<clipPath id="cc"><rect x="144" y="943" width="722.7" height="674.5"/></clipPath>
<g clip-path="url(#cc)">
<polyline points="331.5,943.0 334.3,954.0 338.5,960.3 342.7,956.8 346.8,954.0 357.9,956.1 364.9,958.2 359.3,959.6 357.9,968.0 345.4,973.6 344.0,982.1 346.1,996.1 343.4,1004.6 335.7,1011.6 328.8,1015.8 320.4,1024.1 320.4,1031.1 309.3,1036.8 305.2,1043.8 303.8,1052.2 307.9,1062.2 317.7,1063.5 320.4,1052.2 328.8,1048.2 339.9,1039.6 346.8,1043.8 353.8,1039.6 357.9,1043.8 360.7,1055.2 360.7,1066.2 362.1,1080.2 359.3,1091.5 367.7,1095.7 380.2,1090.2 383.9,1080.2 395.1,1077.5 415.9,1080.2 420.1,1084.5 438.2,1074.7 439.6,1066.2 434.1,1057.9 438.2,1046.7 442.4,1032.6 460.4,1034.0 468.8,1036.8 482.7,1041.0 495.2,1041.0 499.3,1046.7 504.9,1060.7 509.1,1066.3 520.2,1063.5 532.8,1063.5 534.2,1055.1 532.8,1043.8 534.2,1032.6 529.9,1028.4 517.4,1027.0 516.0,1018.6 527.1,1015.8 541.1,1010.1 548.1,1000.4 563.4,997.6 571.7,1008.8 580.0,1013.0 595.3,1020.0 610.6,1015.8 621.0,1018.8 631.1,1007.1 638.4,1004.2 645.6,1010.1 645.6,1024.6 655.7,1020.3 667.3,1023.2 676.0,1021.7 677.5,1017.3 690.5,1017.3 692.0,1011.5 703.5,1008.6 710.7,1013.0 713.6,1018.8 725.2,1021.7 726.6,1029.0 722.3,1036.3 725.2,1040.7 718.0,1045.1 705.0,1046.6 702.1,1052.4 690.5,1056.8 686.1,1062.6 686.1,1069.9 681.8,1075.7 678.9,1083.0 673.1,1087.4 664.5,1088.8 665.9,1093.2 676.0,1099.0 683.2,1102.0 689.0,1112.3 697.7,1107.8 713.6,1102.0 722.3,1104.9 725.2,1099.0 733.8,1100.5 741.1,1103.4 744.0,1093.2 758.4,1088.8 765.7,1090.3 777.2,1085.9 785.9,1083.0 798.9,1080.1 807.6,1081.6 814.8,1091.8 819.2,1097.6 829.3,1100.5 833.7,1106.3 843.8,1104.9 848.0,1102.0 842.3,1094.7 840.9,1085.9 839.4,1077.2 843.8,1067.0 852.4,1065.5 866.4,1064.1" fill="none" stroke="#999" stroke-width="1.5" stroke-linejoin="round"/>
<polyline points="638.4,1004.2 641.2,995.5 639.9,986.7 635.5,978.0 634.1,970.6 641.2,958.9 647.1,950.2 645.6,943.0" fill="none" stroke="#999" stroke-width="1.5" stroke-linejoin="round"/>
<polyline points="852.4,1065.5 853.9,1053.9 855.3,1042.1 850.9,1031.9 858.2,1027.5 866.4,1021.7" fill="none" stroke="#999" stroke-width="1.5" stroke-linejoin="round"/>
<polyline points="415.9,1080.2 414.5,1088.7 413.1,1100.0 420.1,1105.6 420.1,1115.5 425.6,1122.5 425.6,1129.5 415.9,1136.5 406.2,1144.9 407.9,1152.4 410.9,1162.5 407.9,1173.6 403.9,1179.8 391.9,1185.8 381.9,1187.8 378.9,1196.9 383.8,1199.9 378.9,1207.0 364.8,1211.0 363.8,1218.1 356.9,1227.2 353.8,1233.2 351.8,1241.3 351.8,1251.5 353.8,1261.6 351.8,1269.7 356.9,1275.7 351.8,1283.8 344.8,1296.9 334.8,1306.0 319.7,1310.0 317.8,1318.2 314.8,1322.2" fill="none" stroke="#999" stroke-width="1.5" stroke-linejoin="round"/>
<polyline points="261.1,1372.3 253.8,1375.2 248.0,1369.3 236.5,1372.3 237.9,1378.1 237.9,1389.8 240.8,1401.5 240.8,1404.4 224.9,1404.4 210.5,1404.4 194.5,1407.3 191.6,1413.2 188.8,1427.7 184.4,1432.1 171.4,1432.1 169.9,1442.3 178.6,1451.2 191.6,1454.1 190.1,1462.8 172.9,1465.7 174.3,1481.8 164.1,1490.5 162.8,1500.7 161.3,1513.8 162.8,1521.2 169.9,1527.0 172.9,1540.1 169.9,1544.5 178.6,1553.3 180.0,1560.6 190.1,1564.9 184.4,1573.7 190.1,1579.5 190.1,1591.3 196.0,1586.9 206.1,1585.4 216.2,1591.3 227.8,1589.8 239.4,1585.4 248.0,1578.0 255.2,1567.8 256.7,1559.1 253.8,1553.3 245.2,1543.1 233.6,1532.9 233.6,1524.1 222.0,1521.2 213.4,1522.7 216.2,1513.8 219.1,1506.5 210.5,1502.2 216.2,1494.9 213.4,1489.0 222.0,1492.0 236.5,1492.0 245.1,1489.0 246.6,1477.4 242.2,1462.8 236.5,1455.5 245.1,1459.9 252.4,1468.6 256.7,1480.3 268.2,1481.8 271.2,1473.0 279.8,1462.8 300.1,1459.9 314.6,1455.5 327.6,1451.2 340.6,1454.1 352.2,1448.1 369.6,1448.1 385.4,1442.3 389.8,1436.5 404.0,1434.7 450.6,1426.7 466.6,1423.8 468.0,1413.6 473.8,1412.1 485.4,1419.4 492.6,1416.5 499.8,1404.8 508.5,1397.5 515.7,1397.5 523.0,1407.7 533.1,1406.3 536.0,1399.0 537.5,1390.2 537.5,1377.0 540.3,1374.1" fill="none" stroke="#999" stroke-width="1.5" stroke-linejoin="round"/>
<polyline points="537.5,1390.2 547.6,1399.0 557.7,1396.1 564.9,1399.0 567.8,1385.9 580.8,1383.0 589.4,1383.0 595.3,1375.6 611.2,1375.6 612.7,1384.4 609.7,1397.5 622.8,1394.6 627.1,1390.2 630.2,1375.6" fill="none" stroke="#999" stroke-width="1.5" stroke-linejoin="round"/>
<polyline points="144.0,1420.7 151.9,1418.7 155.9,1425.7 151.9,1432.7 157.9,1438.7 163.8,1445.7 155.9,1450.8 144.0,1453.8" fill="none" stroke="#999" stroke-width="1.5" stroke-linejoin="round"/>
<polyline points="157.9,1426.7 165.8,1422.7 171.8,1431.7" fill="none" stroke="#999" stroke-width="1.5" stroke-linejoin="round"/>
<polyline points="160.9,957.0 162.9,948.0 178.7,948.0 178.7,957.0 173.8,958.0 160.9,957.0" fill="none" stroke="#999" stroke-width="1.5" stroke-linejoin="round"/>
<polyline points="225.4,944.0 235.3,945.0" fill="none" stroke="#999" stroke-width="1.5" stroke-linejoin="round"/>
<polyline points="213.4,1617.0 213.4,1611.7 227.8,1608.7 239.4,1607.3 251.0,1608.7 262.5,1605.8 274.1,1600.0 278.4,1608.7 285.6,1617.0" fill="none" stroke="#999" stroke-width="1.5" stroke-linejoin="round"/>
<polyline points="253.8,1509.4 261.1,1506.8 269.0,1510.8 271.2,1516.9 263.1,1519.9 255.1,1515.8 253.8,1509.4" fill="none" stroke="#999" stroke-width="1.5" stroke-linejoin="round"/>
<polyline points="231.3,1464.8 237.3,1472.8 241.2,1484.8" fill="none" stroke="#999" stroke-width="1.5" stroke-linejoin="round"/>
<polyline points="227.4,1537.9 237.3,1550.9 243.2,1560.9" fill="none" stroke="#999" stroke-width="1.5" stroke-linejoin="round"/>
<polyline points="231.3,1542.9 241.2,1544.9 235.3,1554.9" fill="none" stroke="#999" stroke-width="1.5" stroke-linejoin="round"/>
<polyline points="699.1,1343.6 704.7,1330.6 711.6,1315.6 719.5,1303.6 730.1,1299.9 734.6,1304.4 740.6,1305.9 746.6,1308.9 752.7,1312.0 755.7,1305.9 757.1,1301.4 767.7,1302.1 776.7,1301.4 782.7,1298.3 790.2,1292.3 791.7,1304.4 797.7,1305.9 800.7,1312.0 809.7,1312.0 817.2,1318.1 818.8,1307.4 818.8,1298.3 827.7,1292.3 839.7,1296.8 845.8,1307.4 854.8,1304.4 866.4,1301.4" fill="none" stroke="#999" stroke-width="1.5" stroke-linejoin="round"/>
<polyline points="713.6,1325.6 722.6,1325.7 733.1,1324.9 743.7,1324.2 745.1,1330.2 737.6,1334.8" fill="none" stroke="#999" stroke-width="1.5" stroke-linejoin="round"/>
<polyline points="727.5,1302.5 731.4,1296.5 735.4,1301.5" fill="none" stroke="#999" stroke-width="1.5" stroke-linejoin="round"/>
<polyline points="761.2,1306.5 765.2,1298.5 769.2,1305.5" fill="none" stroke="#999" stroke-width="1.5" stroke-linejoin="round"/>
<polyline points="800.9,1307.5 806.9,1301.5 810.8,1308.5" fill="none" stroke="#999" stroke-width="1.5" stroke-linejoin="round"/>
<polyline points="634.1,1388.9 648.5,1386.0" fill="none" stroke="#999" stroke-width="1.5" stroke-linejoin="round"/>
<polyline points="657.2,1397.6 666.9,1391.7 680.3,1384.5" fill="none" stroke="#999" stroke-width="1.5" stroke-linejoin="round"/>
<polyline points="637.0,1415.1 651.4,1403.5" fill="none" stroke="#999" stroke-width="1.5" stroke-linejoin="round"/>
<polyline points="612.4,1402.0 626.9,1391.7" fill="none" stroke="#999" stroke-width="1.5" stroke-linejoin="round"/>
<polyline points="488.3,1428.7 496.3,1426.7 500.2,1432.7" fill="none" stroke="#999" stroke-width="1.5" stroke-linejoin="round"/>
<polyline points="503.2,1427.7 509.2,1431.7 506.2,1438.7 513.1,1437.7" fill="none" stroke="#999" stroke-width="1.5" stroke-linejoin="round"/>
<polyline points="520.1,1435.7 523.1,1435.7" fill="none" stroke="#999" stroke-width="1.5" stroke-linejoin="round"/>
<polyline points="431.8,1432.7 435.7,1437.7 433.8,1442.7" fill="none" stroke="#999" stroke-width="1.5" stroke-linejoin="round"/>
<polyline points="439.7,1441.7 444.7,1442.7" fill="none" stroke="#999" stroke-width="1.5" stroke-linejoin="round"/>
<polyline points="458.6,1451.8 460.5,1453.8" fill="none" stroke="#999" stroke-width="1.5" stroke-linejoin="round"/>
<polyline points="691.8,1338.6 699.1,1343.6 699.1,1375.6 626.9,1375.6" fill="none" stroke="#bbb" stroke-width="1.6"/>
<polyline points="236.2,1482.6 233.8,1482.6 233.3,1484.1 236.2,1480.0" fill="none" stroke="#8a8a8a" stroke-width="1.4" stroke-linejoin="round"/>
<polyline points="233.9,1482.2 235.0,1484.9 236.9,1482.6 239.9,1483.5 236.0,1481.6 233.3,1483.1 233.3,1487.0" fill="none" stroke="#8a8a8a" stroke-width="1.4" stroke-linejoin="round"/>
<polyline points="248.3,1486.8 248.6,1487.8 252.9,1487.8 251.4,1487.8" fill="none" stroke="#8a8a8a" stroke-width="1.4" stroke-linejoin="round"/>
<polyline points="249.9,1486.2 249.1,1487.8 253.3,1483.8 254.6,1486.0" fill="none" stroke="#8a8a8a" stroke-width="1.4" stroke-linejoin="round"/>
<polyline points="239.8,1479.1 239.9,1483.2 236.8,1481.0 241.5,1481.0 245.9,1479.9 249.4,1479.7 251.8,1478.8" fill="none" stroke="#8a8a8a" stroke-width="1.4" stroke-linejoin="round"/>
<polyline points="247.8,1466.3 243.7,1467.9 239.8,1464.5 243.2,1463.2 245.5,1462.9 243.6,1466.4" fill="none" stroke="#8a8a8a" stroke-width="1.4" stroke-linejoin="round"/>
<polyline points="265.5,1519.1 261.5,1517.7 258.2,1520.8 261.7,1518.3" fill="none" stroke="#8a8a8a" stroke-width="1.4" stroke-linejoin="round"/>
<polyline points="222.7,1489.0 227.7,1490.4 230.7,1494.0 230.8,1492.7 235.1,1492.7" fill="none" stroke="#8a8a8a" stroke-width="1.4" stroke-linejoin="round"/>
<polyline points="262.4,1516.6 262.0,1514.8 260.8,1518.7 261.1,1519.3 258.5,1514.5 256.7,1510.9" fill="none" stroke="#8a8a8a" stroke-width="1.4" stroke-linejoin="round"/>
<polyline points="239.9,1520.8 244.8,1520.3 243.9,1520.5 248.0,1519.2 248.9,1517.8" fill="none" stroke="#8a8a8a" stroke-width="1.4" stroke-linejoin="round"/>
<polyline points="259.9,1502.5 262.1,1502.2 262.4,1502.1 266.6,1502.1 268.0,1500.6 268.0,1504.6 267.7,1505.3" fill="none" stroke="#8a8a8a" stroke-width="1.4" stroke-linejoin="round"/>
<polyline points="263.5,1511.7 265.0,1516.1 268.0,1519.5 268.0,1520.7 268.0,1520.5 266.1,1520.9 268.0,1520.9" fill="none" stroke="#8a8a8a" stroke-width="1.4" stroke-linejoin="round"/>
<polyline points="239.7,1508.2 237.8,1505.2 237.9,1509.6 239.2,1505.3 242.3,1507.6 246.4,1504.5 248.8,1500.1" fill="none" stroke="#8a8a8a" stroke-width="1.4" stroke-linejoin="round"/>
<polyline points="248.1,1496.8 249.9,1501.0 252.4,1497.4 250.1,1500.6 254.5,1496.2" fill="none" stroke="#8a8a8a" stroke-width="1.4" stroke-linejoin="round"/>
<polyline points="262.2,1512.9 260.8,1509.6 262.5,1505.4 267.0,1500.7" fill="none" stroke="#8a8a8a" stroke-width="1.4" stroke-linejoin="round"/>
<polyline points="235.2,1543.6 239.4,1543.3 240.2,1544.4 244.2,1544.1 244.7,1541.0 246.9,1541.4" fill="none" stroke="#8a8a8a" stroke-width="1.4" stroke-linejoin="round"/>
<polyline points="243.0,1539.6 240.3,1536.1 244.5,1535.0 239.7,1537.8 236.3,1542.4" fill="none" stroke="#8a8a8a" stroke-width="1.4" stroke-linejoin="round"/>
<polyline points="230.4,1550.0 230.1,1552.2 233.9,1554.3 238.1,1553.2 241.1,1552.7 245.4,1555.9" fill="none" stroke="#8a8a8a" stroke-width="1.4" stroke-linejoin="round"/>
<polyline points="231.8,1532.5 229.4,1534.3 232.1,1537.8 231.3,1541.2 232.1,1541.5" fill="none" stroke="#8a8a8a" stroke-width="1.4" stroke-linejoin="round"/>
<polyline points="239.4,1535.2 241.3,1539.4 244.8,1544.4 246.5,1541.0 250.1,1545.6 254.1,1546.3" fill="none" stroke="#8a8a8a" stroke-width="1.4" stroke-linejoin="round"/>
<polyline points="247.0,1534.6 244.9,1530.2 248.4,1535.1 244.3,1538.1 243.5,1534.6 241.4,1537.3" fill="none" stroke="#8a8a8a" stroke-width="1.4" stroke-linejoin="round"/>
<polyline points="251.0,1530.1 249.8,1530.9 250.3,1535.2 248.1,1532.5" fill="none" stroke="#8a8a8a" stroke-width="1.4" stroke-linejoin="round"/>
<polyline points="149.4,1422.3 149.2,1418.7 145.0,1419.2 145.0,1424.1 145.0,1424.3 145.0,1427.1 148.2,1424.7" fill="none" stroke="#8a8a8a" stroke-width="1.4" stroke-linejoin="round"/>
<polyline points="162.8,1419.6 163.8,1418.7 162.0,1420.0 163.8,1423.5 163.8,1419.4 163.8,1421.1" fill="none" stroke="#8a8a8a" stroke-width="1.4" stroke-linejoin="round"/>
<polyline points="154.5,1424.9 152.3,1429.4 155.5,1433.8 158.9,1428.9 156.8,1430.9 154.9,1433.6 151.9,1432.8" fill="none" stroke="#8a8a8a" stroke-width="1.4" stroke-linejoin="round"/>
<polyline points="150.4,1434.5 148.5,1437.7 145.0,1433.1 146.2,1430.9 146.6,1430.6" fill="none" stroke="#8a8a8a" stroke-width="1.4" stroke-linejoin="round"/>
<polyline points="151.5,1453.7 147.2,1453.8 148.5,1453.2 145.4,1452.5 146.2,1453.8" fill="none" stroke="#8a8a8a" stroke-width="1.4" stroke-linejoin="round"/>
<polyline points="197.0,1575.3 200.4,1578.1 197.9,1573.6 194.5,1572.3" fill="none" stroke="#8a8a8a" stroke-width="1.4" stroke-linejoin="round"/>
<polyline points="201.9,1568.8 202.7,1563.9 199.8,1561.9 204.0,1564.6" fill="none" stroke="#8a8a8a" stroke-width="1.4" stroke-linejoin="round"/>
<polyline points="187.9,1576.3 189.0,1575.7 185.4,1579.9 184.7,1579.9 189.3,1576.6" fill="none" stroke="#8a8a8a" stroke-width="1.4" stroke-linejoin="round"/>
<polyline points="188.0,1567.6 188.4,1569.4 185.4,1573.8 187.3,1578.4 191.2,1576.4" fill="none" stroke="#8a8a8a" stroke-width="1.4" stroke-linejoin="round"/>
<polyline points="676.6,1366.4 678.7,1362.7 675.9,1363.4 679.6,1365.3 678.2,1361.5 678.1,1359.1 681.0,1362.3" fill="none" stroke="#8a8a8a" stroke-width="1.4" stroke-linejoin="round"/>
<polyline points="660.5,1332.9 661.8,1333.8 658.5,1333.2 662.4,1332.1 661.7,1330.1 663.3,1332.1" fill="none" stroke="#8a8a8a" stroke-width="1.4" stroke-linejoin="round"/>
<polyline points="670.8,1365.3 674.3,1366.0 672.0,1367.2 670.9,1370.7" fill="none" stroke="#8a8a8a" stroke-width="1.4" stroke-linejoin="round"/>
<polyline points="684.0,1352.3 685.1,1350.2 684.5,1349.1 681.5,1349.1" fill="none" stroke="#8a8a8a" stroke-width="1.4" stroke-linejoin="round"/>
<polyline points="669.4,1337.7 667.9,1335.3 667.7,1332.4 665.4,1335.3 667.0,1331.4 669.2,1328.6" fill="none" stroke="#8a8a8a" stroke-width="1.4" stroke-linejoin="round"/>
<polyline points="647.4,1370.2 646.4,1370.5 644.7,1371.9 644.6,1369.4 645.4,1373.4 642.2,1372.9" fill="none" stroke="#8a8a8a" stroke-width="1.4" stroke-linejoin="round"/>
<polyline points="677.4,1332.7 677.0,1335.3 679.4,1335.5 679.1,1337.1 678.4,1333.8 680.4,1331.9 680.3,1334.2" fill="none" stroke="#8a8a8a" stroke-width="1.4" stroke-linejoin="round"/>
<polyline points="637.2,1329.6 635.2,1332.0 632.7,1332.0 631.4,1332.2" fill="none" stroke="#8a8a8a" stroke-width="1.4" stroke-linejoin="round"/>
<polyline points="688.6,1371.3 689.5,1369.4 689.3,1369.2 686.4,1368.3 684.9,1370.7 683.5,1372.0 687.2,1374.6" fill="none" stroke="#8a8a8a" stroke-width="1.4" stroke-linejoin="round"/>
<polyline points="650.1,1356.4 651.3,1360.2 653.1,1357.4 655.7,1357.9 656.7,1361.6 654.2,1362.5" fill="none" stroke="#8a8a8a" stroke-width="1.4" stroke-linejoin="round"/>
<polyline points="662.4,1360.0 661.4,1363.5 664.2,1360.0 661.7,1363.6 662.6,1363.0 664.9,1365.5" fill="none" stroke="#8a8a8a" stroke-width="1.4" stroke-linejoin="round"/>
<polyline points="657.5,1350.2 656.5,1353.9 657.9,1351.8 656.5,1348.1" fill="none" stroke="#8a8a8a" stroke-width="1.4" stroke-linejoin="round"/>
<polyline points="668.7,1361.5 669.9,1361.2 673.0,1362.2 674.6,1359.2" fill="none" stroke="#8a8a8a" stroke-width="1.4" stroke-linejoin="round"/>
<polyline points="679.1,1332.4 682.4,1335.6 682.0,1337.1 684.3,1334.2 687.8,1337.5 687.4,1339.7" fill="none" stroke="#8a8a8a" stroke-width="1.4" stroke-linejoin="round"/>
<polyline points="654.7,1341.3 657.3,1339.6 656.2,1338.5 652.5,1338.5" fill="none" stroke="#8a8a8a" stroke-width="1.4" stroke-linejoin="round"/>
<polyline points="643.8,1341.2 643.2,1344.6 639.5,1341.3 642.0,1342.4 642.3,1338.6 639.7,1337.6 636.2,1341.5" fill="none" stroke="#8a8a8a" stroke-width="1.4" stroke-linejoin="round"/>
<polyline points="674.9,1372.3 673.6,1368.9 675.5,1365.9 675.8,1365.6 675.8,1362.2 672.4,1362.3 668.7,1362.5" fill="none" stroke="#8a8a8a" stroke-width="1.4" stroke-linejoin="round"/>
<polyline points="635.8,1341.5 635.9,1344.4 638.2,1347.9 639.8,1349.6 636.8,1351.2" fill="none" stroke="#8a8a8a" stroke-width="1.4" stroke-linejoin="round"/>
<polyline points="674.4,1374.3 676.6,1374.6 674.2,1373.2 673.2,1372.8" fill="none" stroke="#8a8a8a" stroke-width="1.4" stroke-linejoin="round"/>
<polyline points="651.5,1374.5 653.2,1374.6 655.6,1373.6 657.0,1374.6 654.3,1374.6" fill="none" stroke="#8a8a8a" stroke-width="1.4" stroke-linejoin="round"/>
<polyline points="650.7,1331.4 650.5,1328.6 651.7,1328.9 653.1,1329.7" fill="none" stroke="#8a8a8a" stroke-width="1.4" stroke-linejoin="round"/>
<polyline points="630.1,1338.9 627.9,1339.5 631.2,1337.8 631.0,1339.6 633.9,1336.9 635.2,1333.9 632.1,1337.8" fill="none" stroke="#8a8a8a" stroke-width="1.4" stroke-linejoin="round"/>
<polyline points="628.2,1360.6 637.2,1356.6 642.1,1364.6 650.1,1359.6 657.0,1365.6 664.0,1358.6 669.9,1363.6 677.9,1356.6 684.8,1360.6" fill="none" stroke="#888" stroke-width="1.5" stroke-linejoin="round"/>
<polyline points="630.2,1368.6 638.2,1371.6 646.1,1366.6 654.0,1372.6 662.0,1367.6 669.9,1372.6 679.8,1368.6 687.8,1372.6" fill="none" stroke="#888" stroke-width="1.5" stroke-linejoin="round"/>
<polyline points="632.2,1350.6 642.1,1346.6 647.1,1352.6 656.0,1348.6 662.0,1354.6 671.9,1348.6 679.8,1352.6 687.8,1346.6" fill="none" stroke="#888" stroke-width="1.5" stroke-linejoin="round"/>
<polyline points="638.2,1342.6 645.1,1338.6 652.1,1344.6 660.0,1337.6 667.9,1343.6 675.9,1336.6 681.8,1342.6" fill="none" stroke="#888" stroke-width="1.5" stroke-linejoin="round"/>
<polyline points="642.1,1334.6 650.1,1330.6 658.0,1336.6 666.0,1328.6 673.9,1332.6 681.8,1326.6 688.8,1331.6" fill="none" stroke="#888" stroke-width="1.5" stroke-linejoin="round"/>
<polyline points="652.1,1372.6 650.1,1360.6 654.0,1350.6 652.1,1338.6 656.0,1330.6" fill="none" stroke="#888" stroke-width="1.5" stroke-linejoin="round"/>
<polyline points="664.0,1372.6 666.0,1360.6 662.0,1348.6 666.0,1336.6 664.0,1328.6" fill="none" stroke="#888" stroke-width="1.5" stroke-linejoin="round"/>
<polyline points="675.9,1370.6 673.9,1358.6 677.9,1346.6 674.9,1334.6" fill="none" stroke="#888" stroke-width="1.5" stroke-linejoin="round"/>
<polyline points="685.8,1368.6 687.8,1356.6 684.8,1344.6 689.8,1334.6" fill="none" stroke="#888" stroke-width="1.5" stroke-linejoin="round"/>
<polyline points="640.2,1375.6 642.1,1360.6 639.2,1348.6" fill="none" stroke="#888" stroke-width="1.5" stroke-linejoin="round"/>
<polyline points="627.1,1390.2 630.2,1382.7 628.2,1375.6 632.2,1368.6" fill="none" stroke="#888" stroke-width="1.5" stroke-linejoin="round"/>
<polyline points="689.8,1322.6 693.7,1330.6 689.8,1338.6" fill="none" stroke="#888" stroke-width="1.5" stroke-linejoin="round"/>
<g filter="url(#soft)">
<circle cx="351.7" cy="1137.3" r="3.6" fill="#fcac91"/>
<circle cx="318.9" cy="1133.0" r="4.3" fill="#fdc8b4"/>
<circle cx="338.5" cy="1124.3" r="5" fill="#fee2d7"/>
<circle cx="321.6" cy="1117.6" r="5.3" fill="#fdc8b4"/>
<circle cx="342.9" cy="1139.1" r="4.8" fill="#fdc8b4"/>
<circle cx="351.0" cy="1120.3" r="5.3" fill="#fcac91"/>
<circle cx="331.6" cy="1134.9" r="4.8" fill="#fcac91"/>
<circle cx="322.2" cy="1120.6" r="4.8" fill="#fdc8b4"/>
<circle cx="380.8" cy="1108.2" r="5.3" fill="#fee2d7"/>
<circle cx="371.0" cy="1121.2" r="5.3" fill="#fee2d7"/>
<circle cx="377.7" cy="1115.0" r="4" fill="#fee2d7"/>
<circle cx="391.4" cy="1116.5" r="4.6" fill="#e7e4f2"/>
<circle cx="380.1" cy="1110.7" r="4.6" fill="#fee2d7"/>
<circle cx="374.2" cy="1132.9" r="5" fill="#fee2d7"/>
<circle cx="388.7" cy="1135.5" r="4.3" fill="#e7e4f2"/>
<circle cx="376.8" cy="1136.3" r="4.6" fill="#fcac91"/>
<circle cx="373.7" cy="1109.7" r="5.3" fill="#fee2d7"/>
<circle cx="381.7" cy="1107.6" r="4.3" fill="#d2cde6"/>
<circle cx="424.2" cy="1119.5" r="5.3" fill="#b2aad7"/>
<circle cx="421.7" cy="1120.4" r="4.8" fill="#d2cde6"/>
<circle cx="419.6" cy="1123.6" r="5" fill="#b2aad7"/>
<circle cx="402.9" cy="1120.7" r="4.8" fill="#e7e4f2"/>
<circle cx="428.3" cy="1131.1" r="5" fill="#b2aad7"/>
<circle cx="395.4" cy="1132.3" r="3.6" fill="#e7e4f2"/>
<circle cx="397.3" cy="1126.1" r="4.8" fill="#b2aad7"/>
<circle cx="443.3" cy="1134.6" r="5.3" fill="#d2cde6"/>
<circle cx="454.4" cy="1133.7" r="5.3" fill="#d2cde6"/>
<circle cx="442.7" cy="1134.7" r="5" fill="#e7e4f2"/>
<circle cx="475.4" cy="1129.0" r="4.3" fill="#d2cde6"/>
<circle cx="484.1" cy="1132.2" r="5" fill="#d2cde6"/>
<circle cx="481.4" cy="1127.6" r="4.8" fill="#e7e4f2"/>
<circle cx="476.1" cy="1138.9" r="3.6" fill="#d2cde6"/>
<circle cx="474.6" cy="1136.9" r="5" fill="#e7e4f2"/>
<circle cx="486.1" cy="1122.2" r="5" fill="#d2cde6"/>
<circle cx="380.3" cy="1153.3" r="3.6" fill="#fcac91"/>
<circle cx="372.2" cy="1174.6" r="4.8" fill="#fcac91"/>
<circle cx="377.4" cy="1156.2" r="4.3" fill="#fee2d7"/>
<circle cx="360.8" cy="1177.8" r="4.3" fill="#fdc8b4"/>
<circle cx="378.2" cy="1157.3" r="5" fill="#fcac91"/>
<circle cx="376.4" cy="1146.6" r="4.3" fill="#fcac91"/>
<circle cx="356.6" cy="1147.4" r="4.6" fill="#fcac91"/>
<circle cx="419.0" cy="1160.6" r="3.6" fill="#d2cde6"/>
<circle cx="432.6" cy="1150.1" r="3.6" fill="#fee2d7"/>
<circle cx="404.5" cy="1163.8" r="5.3" fill="#f2f2f4"/>
<circle cx="425.2" cy="1168.3" r="5" fill="#e7e4f2"/>
<circle cx="411.0" cy="1161.3" r="4" fill="#fdc8b4"/>
<circle cx="396.4" cy="1156.8" r="4.8" fill="#fdc8b4"/>
<circle cx="422.3" cy="1150.5" r="3.6" fill="#fdc8b4"/>
<circle cx="401.9" cy="1150.1" r="3.6" fill="#fee2d7"/>
<circle cx="414.7" cy="1159.0" r="4.8" fill="#e7e4f2"/>
<circle cx="419.3" cy="1149.4" r="4" fill="#fdc8b4"/>
<circle cx="422.5" cy="1157.8" r="3.6" fill="#f2f2f4"/>
<circle cx="417.0" cy="1143.2" r="4.8" fill="#e7e4f2"/>
<circle cx="456.7" cy="1176.3" r="5.3" fill="#d2cde6"/>
<circle cx="452.8" cy="1142.0" r="4.8" fill="#d2cde6"/>
<circle cx="448.6" cy="1167.6" r="4.3" fill="#e7e4f2"/>
<circle cx="435.5" cy="1167.4" r="3.6" fill="#fdc8b4"/>
<circle cx="446.3" cy="1173.3" r="5.3" fill="#d2cde6"/>
<circle cx="435.3" cy="1158.5" r="5" fill="#fee2d7"/>
<circle cx="492.8" cy="1149.2" r="4.8" fill="#f2f2f4"/>
<circle cx="477.2" cy="1152.1" r="4.3" fill="#e7e4f2"/>
<circle cx="481.7" cy="1163.0" r="5" fill="#fee2d7"/>
<circle cx="491.9" cy="1170.0" r="3.6" fill="#fee2d7"/>
<circle cx="484.0" cy="1146.0" r="5.3" fill="#d2cde6"/>
<circle cx="526.7" cy="1156.2" r="5" fill="#fcac91"/>
<circle cx="518.1" cy="1164.8" r="5.3" fill="#fdc8b4"/>
<circle cx="515.8" cy="1168.2" r="4.3" fill="#fdc8b4"/>
<circle cx="532.4" cy="1174.2" r="4.6" fill="#fdc8b4"/>
<circle cx="532.6" cy="1151.2" r="5" fill="#fdc8b4"/>
<circle cx="579.4" cy="1176.3" r="5" fill="#fee2d7"/>
<circle cx="583.9" cy="1176.0" r="4" fill="#fcac91"/>
<circle cx="591.0" cy="1178.2" r="3.6" fill="#fdc8b4"/>
<circle cx="616.0" cy="1174.9" r="4.6" fill="#fcac91"/>
<circle cx="620.3" cy="1176.9" r="4.3" fill="#fdc8b4"/>
<circle cx="358.9" cy="1196.7" r="5" fill="#fdc8b4"/>
<circle cx="376.8" cy="1196.0" r="3.6" fill="#fdc8b4"/>
<circle cx="370.1" cy="1202.6" r="4" fill="#fdc8b4"/>
<circle cx="365.7" cy="1216.4" r="4" fill="#fcac91"/>
<circle cx="373.8" cy="1204.6" r="4.8" fill="#fcac91"/>
<circle cx="381.0" cy="1199.7" r="4.8" fill="#fcac91"/>
<circle cx="361.9" cy="1208.5" r="3.6" fill="#fdc8b4"/>
<circle cx="368.6" cy="1215.8" r="5.3" fill="#fcac91"/>
<circle cx="380.6" cy="1183.8" r="4.6" fill="#fee2d7"/>
<circle cx="390.2" cy="1216.5" r="4.3" fill="#fee2d7"/>
<circle cx="388.5" cy="1198.9" r="4.8" fill="#fcac91"/>
<circle cx="383.8" cy="1188.0" r="5.3" fill="#fdc8b4"/>
<circle cx="393.0" cy="1191.1" r="5.3" fill="#e7e4f2"/>
<circle cx="386.8" cy="1208.7" r="4" fill="#fcac91"/>
<circle cx="374.2" cy="1219.1" r="4.3" fill="#e7e4f2"/>
<circle cx="361.2" cy="1192.1" r="3.6" fill="#fee2d7"/>
<circle cx="369.2" cy="1201.8" r="4.8" fill="#fee2d7"/>
<circle cx="372.1" cy="1214.5" r="4.6" fill="#fdc8b4"/>
<circle cx="379.8" cy="1199.8" r="5" fill="#fcac91"/>
<circle cx="429.5" cy="1184.3" r="4.3" fill="#fdc8b4"/>
<circle cx="406.5" cy="1205.9" r="4.3" fill="#fdc8b4"/>
<circle cx="419.7" cy="1196.3" r="3.6" fill="#fdc8b4"/>
<circle cx="414.2" cy="1189.4" r="4.8" fill="#f2f2f4"/>
<circle cx="427.0" cy="1187.0" r="5" fill="#f2f2f4"/>
<circle cx="398.4" cy="1182.9" r="4.8" fill="#fee2d7"/>
<circle cx="403.8" cy="1191.9" r="3.6" fill="#fcac91"/>
<circle cx="420.5" cy="1211.3" r="4.3" fill="#fdc8b4"/>
<circle cx="403.1" cy="1194.9" r="4.6" fill="#fdc8b4"/>
<circle cx="448.4" cy="1200.3" r="4.3" fill="#fdc8b4"/>
<circle cx="452.1" cy="1186.4" r="4.6" fill="#d2cde6"/>
<circle cx="472.1" cy="1189.6" r="4.3" fill="#e7e4f2"/>
<circle cx="440.7" cy="1215.1" r="4" fill="#fee2d7"/>
<circle cx="463.1" cy="1213.6" r="4.3" fill="#fee2d7"/>
<circle cx="440.0" cy="1186.5" r="5.3" fill="#e7e4f2"/>
<circle cx="455.5" cy="1195.7" r="5.3" fill="#fdc8b4"/>
<circle cx="463.0" cy="1192.0" r="4.8" fill="#d2cde6"/>
<circle cx="453.7" cy="1207.6" r="5" fill="#e7e4f2"/>
<circle cx="489.5" cy="1208.5" r="4.8" fill="#e7e4f2"/>
<circle cx="497.9" cy="1206.9" r="4.3" fill="#fdc8b4"/>
<circle cx="489.3" cy="1188.0" r="4.6" fill="#fdc8b4"/>
<circle cx="492.4" cy="1215.4" r="4.3" fill="#fee2d7"/>
<circle cx="510.7" cy="1186.2" r="3.6" fill="#e7e4f2"/>
<circle cx="487.7" cy="1195.0" r="3.6" fill="#fee2d7"/>
<circle cx="494.9" cy="1190.4" r="4.8" fill="#fee2d7"/>
<circle cx="485.2" cy="1205.6" r="4.3" fill="#fee2d7"/>
<circle cx="486.4" cy="1216.6" r="4" fill="#d2cde6"/>
<circle cx="543.7" cy="1194.0" r="4.6" fill="#fee2d7"/>
<circle cx="527.7" cy="1184.7" r="4" fill="#f2f2f4"/>
<circle cx="540.8" cy="1209.1" r="4.3" fill="#e7e4f2"/>
<circle cx="549.6" cy="1206.0" r="5.3" fill="#e7e4f2"/>
<circle cx="519.6" cy="1213.7" r="4.6" fill="#fee2d7"/>
<circle cx="543.5" cy="1186.4" r="4.3" fill="#d2cde6"/>
<circle cx="538.6" cy="1208.4" r="4" fill="#fee2d7"/>
<circle cx="551.7" cy="1196.3" r="4.6" fill="#d2cde6"/>
<circle cx="537.5" cy="1193.4" r="4.8" fill="#d2cde6"/>
<circle cx="533.4" cy="1206.6" r="4.6" fill="#d2cde6"/>
<circle cx="545.8" cy="1198.7" r="4.6" fill="#fee2d7"/>
<circle cx="533.9" cy="1183.1" r="4.6" fill="#d2cde6"/>
<circle cx="591.4" cy="1186.2" r="4.8" fill="#d2cde6"/>
<circle cx="588.3" cy="1184.3" r="4.6" fill="#e7e4f2"/>
<circle cx="583.9" cy="1181.7" r="5" fill="#fdc8b4"/>
<circle cx="567.0" cy="1187.9" r="4.6" fill="#fee2d7"/>
<circle cx="579.1" cy="1184.9" r="5" fill="#fdc8b4"/>
<circle cx="571.4" cy="1214.0" r="4" fill="#fee2d7"/>
<circle cx="556.3" cy="1186.7" r="4" fill="#fdc8b4"/>
<circle cx="580.1" cy="1202.0" r="4" fill="#fdc8b4"/>
<circle cx="574.4" cy="1181.6" r="4.8" fill="#fdc8b4"/>
<circle cx="566.6" cy="1201.5" r="4" fill="#fee2d7"/>
<circle cx="567.8" cy="1181.4" r="3.6" fill="#f2f2f4"/>
<circle cx="563.1" cy="1199.1" r="3.6" fill="#fdc8b4"/>
<circle cx="616.7" cy="1205.2" r="4.8" fill="#fdc8b4"/>
<circle cx="617.9" cy="1196.3" r="4.8" fill="#fee2d7"/>
<circle cx="623.0" cy="1207.1" r="3.6" fill="#fee2d7"/>
<circle cx="624.9" cy="1187.1" r="4" fill="#fcac91"/>
<circle cx="607.7" cy="1192.7" r="4" fill="#fdc8b4"/>
<circle cx="609.6" cy="1196.5" r="5.3" fill="#fdc8b4"/>
<circle cx="597.3" cy="1185.2" r="4.3" fill="#fdc8b4"/>
<circle cx="613.4" cy="1200.0" r="4" fill="#fdc8b4"/>
<circle cx="609.4" cy="1186.6" r="5" fill="#fee2d7"/>
<circle cx="597.4" cy="1204.3" r="4" fill="#fcac91"/>
<circle cx="640.5" cy="1203.4" r="5" fill="#fcac91"/>
<circle cx="634.1" cy="1191.3" r="4.8" fill="#fdc8b4"/>
<circle cx="635.0" cy="1210.7" r="5.3" fill="#fcac91"/>
<circle cx="638.7" cy="1193.2" r="3.6" fill="#fcac91"/>
<circle cx="638.5" cy="1207.8" r="5.3" fill="#fcac91"/>
<circle cx="391.4" cy="1258.6" r="5" fill="#fee2d7"/>
<circle cx="366.4" cy="1229.4" r="4.3" fill="#fdc8b4"/>
<circle cx="381.8" cy="1232.0" r="4.8" fill="#fcac91"/>
<circle cx="357.9" cy="1255.6" r="5" fill="#fcac91"/>
<circle cx="356.6" cy="1232.7" r="3.6" fill="#fdc8b4"/>
<circle cx="379.4" cy="1249.4" r="4" fill="#fdc8b4"/>
<circle cx="371.1" cy="1231.4" r="4.6" fill="#e7e4f2"/>
<circle cx="377.7" cy="1249.9" r="4.6" fill="#fdc8b4"/>
<circle cx="384.5" cy="1247.8" r="5.3" fill="#fee2d7"/>
<circle cx="372.5" cy="1234.6" r="4.8" fill="#fee2d7"/>
<circle cx="365.0" cy="1228.7" r="4.6" fill="#fee2d7"/>
<circle cx="362.6" cy="1239.3" r="4.3" fill="#f2f2f4"/>
<circle cx="406.7" cy="1227.9" r="5" fill="#fcac91"/>
<circle cx="427.5" cy="1229.9" r="5" fill="#f2f2f4"/>
<circle cx="419.9" cy="1255.1" r="4.3" fill="#d2cde6"/>
<circle cx="427.8" cy="1241.8" r="4.3" fill="#fdc8b4"/>
<circle cx="398.8" cy="1251.4" r="4" fill="#fdc8b4"/>
<circle cx="432.4" cy="1223.6" r="4.3" fill="#f2f2f4"/>
<circle cx="424.9" cy="1246.7" r="4.6" fill="#fdc8b4"/>
<circle cx="397.8" cy="1239.3" r="3.6" fill="#d2cde6"/>
<circle cx="405.7" cy="1243.3" r="4" fill="#fee2d7"/>
<circle cx="440.9" cy="1250.8" r="3.6" fill="#fcac91"/>
<circle cx="458.6" cy="1238.4" r="5" fill="#fee2d7"/>
<circle cx="437.8" cy="1239.6" r="4" fill="#fdc8b4"/>
<circle cx="456.0" cy="1253.7" r="4" fill="#fdc8b4"/>
<circle cx="458.1" cy="1256.5" r="4.8" fill="#fee2d7"/>
<circle cx="497.7" cy="1236.3" r="4" fill="#fee2d7"/>
<circle cx="498.7" cy="1242.8" r="5" fill="#f2f2f4"/>
<circle cx="483.8" cy="1257.3" r="5.3" fill="#fee2d7"/>
<circle cx="490.9" cy="1258.3" r="4.6" fill="#fee2d7"/>
<circle cx="492.3" cy="1235.9" r="4" fill="#d2cde6"/>
<circle cx="482.9" cy="1241.7" r="4.8" fill="#e7e4f2"/>
<circle cx="549.8" cy="1247.1" r="4.6" fill="#e7e4f2"/>
<circle cx="540.8" cy="1236.7" r="3.6" fill="#e7e4f2"/>
<circle cx="527.9" cy="1235.2" r="4.8" fill="#d2cde6"/>
<circle cx="516.8" cy="1238.9" r="4.3" fill="#f2f2f4"/>
<circle cx="515.1" cy="1239.6" r="5" fill="#fee2d7"/>
<circle cx="519.5" cy="1233.7" r="4.8" fill="#e7e4f2"/>
<circle cx="519.6" cy="1232.7" r="5" fill="#d2cde6"/>
<circle cx="535.2" cy="1224.7" r="4.6" fill="#fee2d7"/>
<circle cx="540.8" cy="1222.7" r="4.6" fill="#e7e4f2"/>
<circle cx="515.9" cy="1242.6" r="5" fill="#fdc8b4"/>
<circle cx="548.9" cy="1244.5" r="4.8" fill="#d2cde6"/>
<circle cx="543.7" cy="1235.2" r="5.3" fill="#e7e4f2"/>
<circle cx="571.9" cy="1232.2" r="3.6" fill="#fee2d7"/>
<circle cx="555.5" cy="1237.9" r="4.3" fill="#e7e4f2"/>
<circle cx="579.2" cy="1259.4" r="5.3" fill="#e7e4f2"/>
<circle cx="578.8" cy="1247.7" r="4.6" fill="#fee2d7"/>
<circle cx="569.6" cy="1251.5" r="4.8" fill="#fee2d7"/>
<circle cx="555.5" cy="1244.0" r="5" fill="#fdc8b4"/>
<circle cx="560.7" cy="1222.2" r="4" fill="#e7e4f2"/>
<circle cx="575.2" cy="1256.9" r="4.6" fill="#f2f2f4"/>
<circle cx="556.2" cy="1235.1" r="4" fill="#d2cde6"/>
<circle cx="562.6" cy="1228.6" r="5" fill="#e7e4f2"/>
<circle cx="569.1" cy="1240.4" r="4.8" fill="#e7e4f2"/>
<circle cx="578.4" cy="1223.4" r="4.6" fill="#fee2d7"/>
<circle cx="588.3" cy="1226.2" r="4" fill="#fee2d7"/>
<circle cx="571.2" cy="1235.6" r="4.8" fill="#fee2d7"/>
<circle cx="624.4" cy="1257.4" r="4" fill="#d2cde6"/>
<circle cx="612.2" cy="1259.1" r="4" fill="#fdc8b4"/>
<circle cx="594.4" cy="1248.2" r="5" fill="#fee2d7"/>
<circle cx="609.1" cy="1245.4" r="4.6" fill="#d2cde6"/>
<circle cx="611.0" cy="1237.5" r="5.3" fill="#e7e4f2"/>
<circle cx="601.8" cy="1250.0" r="5.3" fill="#e7e4f2"/>
<circle cx="608.4" cy="1253.2" r="4.3" fill="#fee2d7"/>
<circle cx="628.6" cy="1222.3" r="4.8" fill="#d2cde6"/>
<circle cx="603.4" cy="1231.7" r="5" fill="#d2cde6"/>
<circle cx="610.8" cy="1241.3" r="5" fill="#d2cde6"/>
<circle cx="602.8" cy="1253.7" r="4.6" fill="#fee2d7"/>
<circle cx="604.4" cy="1257.0" r="4.6" fill="#fdc8b4"/>
<circle cx="637.3" cy="1247.5" r="5" fill="#fee2d7"/>
<circle cx="669.8" cy="1246.5" r="3.6" fill="#fee2d7"/>
<circle cx="649.5" cy="1239.0" r="4.6" fill="#f2f2f4"/>
<circle cx="636.6" cy="1249.6" r="4.6" fill="#fdc8b4"/>
<circle cx="650.3" cy="1257.2" r="5" fill="#d2cde6"/>
<circle cx="661.1" cy="1256.2" r="4.3" fill="#f2f2f4"/>
<circle cx="639.5" cy="1230.3" r="4" fill="#d2cde6"/>
<circle cx="648.6" cy="1240.4" r="5.3" fill="#d2cde6"/>
<circle cx="639.7" cy="1231.5" r="4.8" fill="#e7e4f2"/>
<circle cx="388.7" cy="1284.4" r="3.6" fill="#e7e4f2"/>
<circle cx="366.8" cy="1266.8" r="3.6" fill="#d2cde6"/>
<circle cx="355.7" cy="1276.9" r="4.8" fill="#d2cde6"/>
<circle cx="392.0" cy="1294.8" r="4.8" fill="#d2cde6"/>
<circle cx="363.0" cy="1289.7" r="4" fill="#e7e4f2"/>
<circle cx="368.0" cy="1291.2" r="4.8" fill="#fee2d7"/>
<circle cx="377.9" cy="1280.0" r="4.3" fill="#fdc8b4"/>
<circle cx="358.6" cy="1269.6" r="4" fill="#e7e4f2"/>
<circle cx="369.0" cy="1275.6" r="4" fill="#fdc8b4"/>
<circle cx="389.1" cy="1282.0" r="5" fill="#d2cde6"/>
<circle cx="378.9" cy="1269.4" r="4" fill="#fee2d7"/>
<circle cx="370.4" cy="1271.6" r="4.8" fill="#fee2d7"/>
<circle cx="427.6" cy="1261.5" r="4.6" fill="#fdc8b4"/>
<circle cx="422.9" cy="1286.2" r="4" fill="#d2cde6"/>
<circle cx="422.5" cy="1284.6" r="5.3" fill="#fee2d7"/>
<circle cx="413.3" cy="1261.7" r="4" fill="#d2cde6"/>
<circle cx="429.7" cy="1299.3" r="3.6" fill="#fee2d7"/>
<circle cx="418.5" cy="1278.8" r="4" fill="#d2cde6"/>
<circle cx="423.0" cy="1271.9" r="5.3" fill="#f2f2f4"/>
<circle cx="395.9" cy="1275.2" r="4.3" fill="#fdc8b4"/>
<circle cx="396.4" cy="1275.4" r="3.6" fill="#fee2d7"/>
<circle cx="397.9" cy="1279.1" r="5.3" fill="#fee2d7"/>
<circle cx="428.2" cy="1290.8" r="3.6" fill="#d2cde6"/>
<circle cx="405.1" cy="1294.6" r="3.6" fill="#f2f2f4"/>
<circle cx="469.1" cy="1295.6" r="4.3" fill="#fdc8b4"/>
<circle cx="469.3" cy="1282.3" r="4" fill="#fee2d7"/>
<circle cx="437.7" cy="1296.2" r="4.8" fill="#fcac91"/>
<circle cx="446.4" cy="1296.7" r="5" fill="#fcac91"/>
<circle cx="447.5" cy="1291.3" r="4" fill="#fcac91"/>
<circle cx="466.9" cy="1274.8" r="5.3" fill="#fdc8b4"/>
<circle cx="461.1" cy="1265.6" r="4" fill="#fcac91"/>
<circle cx="465.4" cy="1269.9" r="3.6" fill="#fdc8b4"/>
<circle cx="445.0" cy="1275.7" r="4.8" fill="#fcac91"/>
<circle cx="465.3" cy="1293.9" r="4" fill="#fee2d7"/>
<circle cx="448.0" cy="1297.9" r="4.3" fill="#fcac91"/>
<circle cx="455.6" cy="1262.2" r="4.3" fill="#fcac91"/>
<circle cx="498.5" cy="1288.8" r="4.8" fill="#fdc8b4"/>
<circle cx="502.8" cy="1266.7" r="4.6" fill="#d2cde6"/>
<circle cx="511.4" cy="1287.2" r="5" fill="#fee2d7"/>
<circle cx="485.6" cy="1263.9" r="4" fill="#d2cde6"/>
<circle cx="510.7" cy="1265.8" r="3.6" fill="#fdc8b4"/>
<circle cx="508.3" cy="1274.9" r="5" fill="#fdc8b4"/>
<circle cx="480.3" cy="1272.9" r="5" fill="#f2f2f4"/>
<circle cx="507.6" cy="1281.9" r="4" fill="#fdc8b4"/>
<circle cx="496.0" cy="1291.1" r="5.3" fill="#fee2d7"/>
<circle cx="487.1" cy="1264.9" r="5" fill="#fee2d7"/>
<circle cx="490.9" cy="1277.1" r="3.6" fill="#d2cde6"/>
<circle cx="505.9" cy="1274.2" r="5" fill="#fee2d7"/>
<circle cx="495.6" cy="1296.6" r="3.6" fill="#f2f2f4"/>
<circle cx="499.2" cy="1263.1" r="4.6" fill="#d2cde6"/>
<circle cx="479.9" cy="1290.6" r="4" fill="#d2cde6"/>
<circle cx="498.3" cy="1284.9" r="3.6" fill="#d2cde6"/>
<circle cx="477.7" cy="1293.2" r="4.8" fill="#d2cde6"/>
<circle cx="481.1" cy="1286.7" r="5" fill="#f2f2f4"/>
<circle cx="501.2" cy="1281.9" r="4" fill="#e7e4f2"/>
<circle cx="493.4" cy="1270.5" r="5" fill="#fee2d7"/>
<circle cx="529.4" cy="1265.5" r="3.6" fill="#f2f2f4"/>
<circle cx="527.1" cy="1276.5" r="5" fill="#d2cde6"/>
<circle cx="544.7" cy="1274.9" r="4.3" fill="#f2f2f4"/>
<circle cx="530.1" cy="1263.1" r="4" fill="#fee2d7"/>
<circle cx="549.3" cy="1293.1" r="4.6" fill="#fee2d7"/>
<circle cx="519.8" cy="1265.4" r="5.3" fill="#e7e4f2"/>
<circle cx="530.2" cy="1261.8" r="3.6" fill="#fee2d7"/>
<circle cx="540.1" cy="1293.2" r="4.6" fill="#f2f2f4"/>
<circle cx="514.2" cy="1291.7" r="5.3" fill="#fee2d7"/>
<circle cx="526.0" cy="1267.4" r="5.3" fill="#e7e4f2"/>
<circle cx="524.2" cy="1271.2" r="4.8" fill="#f2f2f4"/>
<circle cx="549.8" cy="1273.2" r="4.6" fill="#fee2d7"/>
<circle cx="532.4" cy="1293.5" r="4.6" fill="#e7e4f2"/>
<circle cx="520.7" cy="1292.1" r="5.3" fill="#e7e4f2"/>
<circle cx="535.9" cy="1281.5" r="4.8" fill="#fdc8b4"/>
<circle cx="516.8" cy="1261.8" r="4.8" fill="#fee2d7"/>
<circle cx="531.5" cy="1264.9" r="4.8" fill="#d2cde6"/>
<circle cx="538.2" cy="1267.5" r="4.3" fill="#f2f2f4"/>
<circle cx="544.9" cy="1289.4" r="4.6" fill="#f2f2f4"/>
<circle cx="518.9" cy="1280.9" r="4.8" fill="#f2f2f4"/>
<circle cx="568.5" cy="1292.4" r="4.3" fill="#d2cde6"/>
<circle cx="584.5" cy="1266.9" r="5" fill="#d2cde6"/>
<circle cx="567.9" cy="1268.6" r="4.6" fill="#e7e4f2"/>
<circle cx="575.0" cy="1295.6" r="4" fill="#e7e4f2"/>
<circle cx="591.4" cy="1289.1" r="5.3" fill="#f2f2f4"/>
<circle cx="589.1" cy="1283.3" r="4.8" fill="#f2f2f4"/>
<circle cx="587.6" cy="1282.5" r="4" fill="#e7e4f2"/>
<circle cx="554.8" cy="1285.1" r="4.8" fill="#fee2d7"/>
<circle cx="588.2" cy="1263.4" r="4" fill="#d2cde6"/>
<circle cx="574.7" cy="1297.2" r="4.6" fill="#e7e4f2"/>
<circle cx="566.5" cy="1278.5" r="4.3" fill="#f2f2f4"/>
<circle cx="563.5" cy="1289.8" r="5" fill="#e7e4f2"/>
<circle cx="572.8" cy="1271.0" r="3.6" fill="#fdc8b4"/>
<circle cx="569.6" cy="1270.1" r="5" fill="#fee2d7"/>
<circle cx="579.5" cy="1266.6" r="3.6" fill="#e7e4f2"/>
<circle cx="578.6" cy="1268.1" r="4.6" fill="#e7e4f2"/>
<circle cx="587.7" cy="1264.0" r="3.6" fill="#fee2d7"/>
<circle cx="555.0" cy="1269.6" r="4.6" fill="#d2cde6"/>
<circle cx="589.3" cy="1296.0" r="3.6" fill="#fdc8b4"/>
<circle cx="585.5" cy="1264.4" r="5" fill="#e7e4f2"/>
<circle cx="613.5" cy="1298.0" r="4" fill="#e7e4f2"/>
<circle cx="594.6" cy="1271.2" r="5" fill="#e7e4f2"/>
<circle cx="615.6" cy="1296.9" r="3.6" fill="#e7e4f2"/>
<circle cx="608.1" cy="1295.9" r="4.6" fill="#fee2d7"/>
<circle cx="593.9" cy="1269.8" r="4.8" fill="#fee2d7"/>
<circle cx="620.5" cy="1282.2" r="4.8" fill="#e7e4f2"/>
<circle cx="603.9" cy="1270.6" r="3.6" fill="#f2f2f4"/>
<circle cx="601.7" cy="1286.9" r="4.8" fill="#fee2d7"/>
<circle cx="627.5" cy="1261.5" r="4.8" fill="#d2cde6"/>
<circle cx="601.1" cy="1270.7" r="5" fill="#fdc8b4"/>
<circle cx="596.7" cy="1286.1" r="4.8" fill="#fee2d7"/>
<circle cx="623.2" cy="1271.0" r="4.3" fill="#d2cde6"/>
<circle cx="612.1" cy="1268.6" r="4.6" fill="#f2f2f4"/>
<circle cx="604.2" cy="1264.7" r="5" fill="#e7e4f2"/>
<circle cx="607.5" cy="1282.1" r="5" fill="#e7e4f2"/>
<circle cx="595.1" cy="1273.3" r="4.6" fill="#d2cde6"/>
<circle cx="612.4" cy="1266.8" r="4.3" fill="#fdc8b4"/>
<circle cx="629.9" cy="1285.2" r="5" fill="#fee2d7"/>
<circle cx="624.2" cy="1297.7" r="5" fill="#fee2d7"/>
<circle cx="616.3" cy="1296.6" r="3.6" fill="#fee2d7"/>
<circle cx="650.6" cy="1284.6" r="3.6" fill="#d2cde6"/>
<circle cx="638.9" cy="1268.7" r="4.8" fill="#fdc8b4"/>
<circle cx="657.8" cy="1277.9" r="3.6" fill="#f2f2f4"/>
<circle cx="646.0" cy="1273.2" r="4" fill="#fee2d7"/>
<circle cx="655.4" cy="1279.4" r="3.6" fill="#fdc8b4"/>
<circle cx="660.7" cy="1293.0" r="3.6" fill="#e7e4f2"/>
<circle cx="641.0" cy="1263.6" r="4.8" fill="#d2cde6"/>
<circle cx="661.8" cy="1269.3" r="3.6" fill="#d2cde6"/>
<circle cx="634.2" cy="1276.2" r="4.8" fill="#fee2d7"/>
<circle cx="668.5" cy="1277.6" r="5.3" fill="#e7e4f2"/>
<circle cx="666.4" cy="1262.5" r="5.3" fill="#d2cde6"/>
<circle cx="667.9" cy="1293.0" r="5" fill="#d2cde6"/>
<circle cx="643.7" cy="1296.4" r="3.6" fill="#e7e4f2"/>
<circle cx="662.4" cy="1292.2" r="4" fill="#e7e4f2"/>
<circle cx="700.7" cy="1264.8" r="3.6" fill="#e7e4f2"/>
<circle cx="707.3" cy="1286.9" r="5.3" fill="#e7e4f2"/>
<circle cx="710.0" cy="1279.3" r="4.8" fill="#e7e4f2"/>
<circle cx="673.0" cy="1295.6" r="5.3" fill="#d2cde6"/>
<circle cx="699.3" cy="1287.1" r="5" fill="#d2cde6"/>
<circle cx="683.4" cy="1290.3" r="4" fill="#d2cde6"/>
<circle cx="374.1" cy="1306.0" r="4.8" fill="#f2f2f4"/>
<circle cx="360.9" cy="1313.9" r="4.8" fill="#fdc8b4"/>
<circle cx="392.9" cy="1309.0" r="4.6" fill="#fee2d7"/>
<circle cx="359.6" cy="1316.5" r="5" fill="#fee2d7"/>
<circle cx="386.0" cy="1319.0" r="4.6" fill="#fee2d7"/>
<circle cx="422.4" cy="1326.9" r="5.3" fill="#fcac91"/>
<circle cx="415.9" cy="1322.6" r="5.3" fill="#fcac91"/>
<circle cx="419.9" cy="1321.6" r="4.3" fill="#fdc8b4"/>
<circle cx="399.5" cy="1312.5" r="4" fill="#fdc8b4"/>
<circle cx="423.5" cy="1335.0" r="5" fill="#fcac91"/>
<circle cx="404.2" cy="1306.0" r="4.3" fill="#fcac91"/>
<circle cx="415.2" cy="1306.4" r="4.8" fill="#fdc8b4"/>
<circle cx="462.3" cy="1327.3" r="5" fill="#fcac91"/>
<circle cx="458.9" cy="1303.8" r="3.6" fill="#fcac91"/>
<circle cx="465.8" cy="1336.3" r="4.8" fill="#fdc8b4"/>
<circle cx="463.6" cy="1308.5" r="4.3" fill="#fdc8b4"/>
<circle cx="460.2" cy="1328.4" r="4.8" fill="#fee2d7"/>
<circle cx="466.8" cy="1305.4" r="4" fill="#fdc8b4"/>
<circle cx="434.9" cy="1309.5" r="3.6" fill="#fdc8b4"/>
<circle cx="465.7" cy="1337.3" r="5" fill="#fcac91"/>
<circle cx="452.9" cy="1321.5" r="4.6" fill="#fdc8b4"/>
<circle cx="470.9" cy="1337.7" r="4.3" fill="#fcac91"/>
<circle cx="489.8" cy="1321.6" r="4" fill="#fee2d7"/>
<circle cx="505.4" cy="1305.3" r="4.8" fill="#fdc8b4"/>
<circle cx="505.8" cy="1308.0" r="4.3" fill="#fcac91"/>
<circle cx="497.7" cy="1307.1" r="5.3" fill="#fee2d7"/>
<circle cx="479.1" cy="1308.6" r="5" fill="#fdc8b4"/>
<circle cx="504.0" cy="1324.8" r="4.3" fill="#fee2d7"/>
<circle cx="498.1" cy="1316.6" r="4.8" fill="#fee2d7"/>
<circle cx="496.2" cy="1306.5" r="4" fill="#fee2d7"/>
<circle cx="479.7" cy="1336.4" r="5" fill="#fdc8b4"/>
<circle cx="486.6" cy="1335.5" r="5.3" fill="#fcac91"/>
<circle cx="496.9" cy="1308.8" r="3.6" fill="#fcac91"/>
<circle cx="503.6" cy="1320.0" r="4" fill="#fee2d7"/>
<circle cx="540.7" cy="1324.1" r="3.6" fill="#fdc8b4"/>
<circle cx="526.3" cy="1321.7" r="3.6" fill="#fcac91"/>
<circle cx="524.0" cy="1332.4" r="4.6" fill="#fdc8b4"/>
<circle cx="541.3" cy="1327.4" r="5" fill="#fdc8b4"/>
<circle cx="543.8" cy="1314.1" r="4.8" fill="#fcac91"/>
<circle cx="546.1" cy="1330.1" r="3.6" fill="#fee2d7"/>
<circle cx="529.5" cy="1317.8" r="4.6" fill="#fee2d7"/>
<circle cx="547.0" cy="1312.2" r="4.3" fill="#fcac91"/>
<circle cx="515.2" cy="1339.3" r="5" fill="#fee2d7"/>
<circle cx="527.3" cy="1309.7" r="4.8" fill="#fcac91"/>
<circle cx="527.5" cy="1336.5" r="3.6" fill="#fdc8b4"/>
<circle cx="518.3" cy="1327.2" r="4" fill="#fdc8b4"/>
<circle cx="589.3" cy="1332.8" r="4.3" fill="#fdc8b4"/>
<circle cx="572.3" cy="1322.5" r="4.3" fill="#fee2d7"/>
<circle cx="564.9" cy="1313.9" r="4.8" fill="#fee2d7"/>
<circle cx="571.4" cy="1332.4" r="4.6" fill="#fcac91"/>
<circle cx="556.8" cy="1336.1" r="3.6" fill="#fcac91"/>
<circle cx="565.9" cy="1319.9" r="3.6" fill="#fee2d7"/>
<circle cx="581.9" cy="1316.8" r="5.3" fill="#fee2d7"/>
<circle cx="590.5" cy="1336.5" r="3.6" fill="#fdc8b4"/>
<circle cx="574.5" cy="1333.2" r="5" fill="#fdc8b4"/>
<circle cx="569.7" cy="1330.0" r="5.3" fill="#fee2d7"/>
<circle cx="557.0" cy="1308.1" r="5" fill="#fdc8b4"/>
<circle cx="554.8" cy="1332.5" r="5" fill="#fcac91"/>
<circle cx="569.8" cy="1313.4" r="5.3" fill="#fcac91"/>
<circle cx="578.9" cy="1332.3" r="4.8" fill="#fdc8b4"/>
<circle cx="568.0" cy="1311.8" r="4" fill="#fdc8b4"/>
<circle cx="586.5" cy="1301.8" r="4" fill="#fcac91"/>
<circle cx="560.8" cy="1331.4" r="4" fill="#fee2d7"/>
<circle cx="582.4" cy="1328.0" r="4.8" fill="#fdc8b4"/>
<circle cx="558.6" cy="1303.4" r="4.6" fill="#fcac91"/>
<circle cx="618.3" cy="1316.0" r="4.3" fill="#fee2d7"/>
<circle cx="601.1" cy="1317.0" r="5" fill="#fdc8b4"/>
<circle cx="626.0" cy="1333.0" r="3.6" fill="#e7e4f2"/>
<circle cx="601.5" cy="1337.6" r="4.8" fill="#d2cde6"/>
<circle cx="617.6" cy="1319.1" r="5" fill="#fee2d7"/>
<circle cx="603.7" cy="1325.1" r="4.6" fill="#fee2d7"/>
<circle cx="610.9" cy="1325.5" r="4.6" fill="#fdc8b4"/>
<circle cx="617.5" cy="1309.5" r="5.3" fill="#fee2d7"/>
<circle cx="627.8" cy="1333.4" r="4.3" fill="#fdc8b4"/>
<circle cx="613.5" cy="1336.2" r="4" fill="#e7e4f2"/>
<circle cx="615.1" cy="1337.7" r="3.6" fill="#fee2d7"/>
<circle cx="596.7" cy="1333.4" r="4.3" fill="#fee2d7"/>
<circle cx="604.3" cy="1321.8" r="4" fill="#d2cde6"/>
<circle cx="622.2" cy="1325.5" r="4.8" fill="#fdc8b4"/>
<circle cx="642.8" cy="1318.8" r="5.3" fill="#f2f2f4"/>
<circle cx="638.7" cy="1308.7" r="4.3" fill="#fdc8b4"/>
<circle cx="653.0" cy="1330.4" r="5" fill="#fee2d7"/>
<circle cx="659.4" cy="1321.0" r="4" fill="#e7e4f2"/>
<circle cx="650.4" cy="1302.6" r="5.3" fill="#fee2d7"/>
<circle cx="653.2" cy="1308.5" r="4.8" fill="#fee2d7"/>
<circle cx="645.3" cy="1317.3" r="4" fill="#fee2d7"/>
<circle cx="667.1" cy="1315.4" r="5" fill="#fee2d7"/>
<circle cx="666.8" cy="1326.9" r="5.3" fill="#fee2d7"/>
<circle cx="647.2" cy="1332.6" r="4.8" fill="#fdc8b4"/>
<circle cx="667.2" cy="1322.9" r="4.8" fill="#fee2d7"/>
<circle cx="655.1" cy="1314.4" r="5.3" fill="#fee2d7"/>
<circle cx="683.1" cy="1306.8" r="4.3" fill="#d2cde6"/>
<circle cx="694.8" cy="1338.7" r="4.8" fill="#d2cde6"/>
<circle cx="675.7" cy="1327.5" r="5" fill="#d2cde6"/>
<circle cx="703.8" cy="1330.8" r="5.3" fill="#fdc8b4"/>
<circle cx="693.4" cy="1339.3" r="4.8" fill="#fdc8b4"/>
<circle cx="697.3" cy="1308.0" r="4.8" fill="#fee2d7"/>
<circle cx="695.2" cy="1313.0" r="4.3" fill="#fee2d7"/>
<circle cx="678.8" cy="1337.4" r="5" fill="#fdc8b4"/>
<circle cx="692.6" cy="1330.8" r="3.6" fill="#fdc8b4"/>
<circle cx="726.9" cy="1329.7" r="4" fill="#fcac91"/>
<circle cx="715.5" cy="1303.5" r="4.6" fill="#fdc8b4"/>
<circle cx="716.2" cy="1328.0" r="5" fill="#fcac91"/>
<circle cx="726.9" cy="1317.6" r="5.3" fill="#fcac91"/>
<circle cx="368.8" cy="1359.7" r="4" fill="#fee2d7"/>
<circle cx="372.2" cy="1365.8" r="4.8" fill="#fee2d7"/>
<circle cx="377.6" cy="1345.0" r="4.8" fill="#f2f2f4"/>
<circle cx="360.9" cy="1362.8" r="5.3" fill="#fdc8b4"/>
<circle cx="363.7" cy="1370.7" r="4.6" fill="#fcac91"/>
<circle cx="405.9" cy="1367.7" r="3.6" fill="#fcac91"/>
<circle cx="411.5" cy="1366.7" r="4" fill="#fee2d7"/>
<circle cx="470.9" cy="1354.2" r="3.6" fill="#fee2d7"/>
<circle cx="469.8" cy="1377.4" r="4.8" fill="#fdc8b4"/>
<circle cx="448.8" cy="1368.3" r="4.6" fill="#fdc8b4"/>
<circle cx="471.6" cy="1378.6" r="3.6" fill="#fcac91"/>
<circle cx="453.5" cy="1359.7" r="5.3" fill="#fcac91"/>
<circle cx="461.1" cy="1348.2" r="5" fill="#fcac91"/>
<circle cx="448.0" cy="1353.9" r="4.3" fill="#fee2d7"/>
<circle cx="457.3" cy="1364.2" r="4.6" fill="#fee2d7"/>
<circle cx="456.9" cy="1357.4" r="5.3" fill="#fcac91"/>
<circle cx="454.7" cy="1347.2" r="5" fill="#fcac91"/>
<circle cx="482.4" cy="1343.3" r="3.6" fill="#fdc8b4"/>
<circle cx="489.6" cy="1372.7" r="4.3" fill="#fcac91"/>
<circle cx="488.7" cy="1370.9" r="4.6" fill="#fcac91"/>
<circle cx="490.0" cy="1347.2" r="4.3" fill="#fee2d7"/>
<circle cx="503.6" cy="1345.5" r="4" fill="#fcac91"/>
<circle cx="482.5" cy="1349.0" r="3.6" fill="#fdc8b4"/>
<circle cx="503.9" cy="1354.4" r="5" fill="#fee2d7"/>
<circle cx="508.4" cy="1367.1" r="4.3" fill="#fcac91"/>
<circle cx="511.5" cy="1361.5" r="4" fill="#fdc8b4"/>
<circle cx="479.4" cy="1350.6" r="5.3" fill="#fcac91"/>
<circle cx="500.4" cy="1358.3" r="4.8" fill="#fee2d7"/>
<circle cx="489.7" cy="1368.3" r="3.6" fill="#fee2d7"/>
<circle cx="521.0" cy="1363.4" r="4.3" fill="#fcac91"/>
<circle cx="515.3" cy="1371.3" r="5.3" fill="#fcac91"/>
<circle cx="530.5" cy="1350.2" r="4.8" fill="#fdc8b4"/>
<circle cx="540.4" cy="1345.5" r="5.3" fill="#fdc8b4"/>
<circle cx="516.8" cy="1364.6" r="4.8" fill="#fee2d7"/>
<circle cx="522.7" cy="1342.6" r="5.3" fill="#fdc8b4"/>
<circle cx="549.8" cy="1365.0" r="4.6" fill="#fdc8b4"/>
<circle cx="543.1" cy="1346.6" r="4.3" fill="#fee2d7"/>
<circle cx="536.1" cy="1377.1" r="4.3" fill="#fdc8b4"/>
<circle cx="547.4" cy="1345.2" r="5" fill="#fdc8b4"/>
<circle cx="518.7" cy="1343.4" r="4" fill="#fcac91"/>
<circle cx="535.9" cy="1347.3" r="5" fill="#fdc8b4"/>
<circle cx="583.9" cy="1345.1" r="3.6" fill="#fee2d7"/>
<circle cx="584.8" cy="1347.2" r="3.6" fill="#fcac91"/>
<circle cx="587.1" cy="1372.9" r="4" fill="#fee2d7"/>
<circle cx="580.8" cy="1356.2" r="4.3" fill="#fcac91"/>
<circle cx="572.5" cy="1359.0" r="5.3" fill="#fcac91"/>
<circle cx="587.1" cy="1363.8" r="4.6" fill="#fcac91"/>
<circle cx="581.0" cy="1368.0" r="4" fill="#fdc8b4"/>
<circle cx="575.2" cy="1363.3" r="3.6" fill="#fdc8b4"/>
<circle cx="564.6" cy="1379.2" r="3.6" fill="#fcac91"/>
<circle cx="556.6" cy="1361.1" r="3.6" fill="#fee2d7"/>
<circle cx="579.2" cy="1366.0" r="4.3" fill="#fdc8b4"/>
<circle cx="582.5" cy="1361.2" r="5" fill="#fcac91"/>
<circle cx="615.5" cy="1355.0" r="4.8" fill="#f2f2f4"/>
<circle cx="599.5" cy="1351.2" r="4" fill="#e7e4f2"/>
<circle cx="618.5" cy="1342.5" r="4" fill="#fee2d7"/>
<circle cx="608.7" cy="1374.8" r="4.8" fill="#fdc8b4"/>
<circle cx="617.2" cy="1354.9" r="4.3" fill="#e7e4f2"/>
<circle cx="605.5" cy="1343.0" r="4.3" fill="#fee2d7"/>
<circle cx="596.1" cy="1372.4" r="5.3" fill="#d2cde6"/>
<circle cx="625.1" cy="1359.7" r="5.3" fill="#fee2d7"/>
<circle cx="618.4" cy="1377.1" r="5.3" fill="#f2f2f4"/>
<circle cx="643.1" cy="1361.5" r="5.3" fill="#fee2d7"/>
<circle cx="634.0" cy="1358.4" r="4" fill="#e7e4f2"/>
<circle cx="640.8" cy="1346.4" r="5.3" fill="#fee2d7"/>
<circle cx="633.9" cy="1372.8" r="5" fill="#e7e4f2"/>
<circle cx="668.2" cy="1365.6" r="5.3" fill="#e7e4f2"/>
<circle cx="309.6" cy="1400.1" r="4" fill="#e7e4f2"/>
<circle cx="294.5" cy="1391.2" r="4.8" fill="#f2f2f4"/>
<circle cx="276.6" cy="1383.5" r="4.8" fill="#b2aad7"/>
<circle cx="285.8" cy="1398.4" r="4.3" fill="#e7e4f2"/>
<circle cx="299.2" cy="1418.2" r="4.3" fill="#d2cde6"/>
<circle cx="276.5" cy="1394.8" r="4.8" fill="#e7e4f2"/>
<circle cx="313.3" cy="1390.7" r="5.3" fill="#e7e4f2"/>
<circle cx="339.9" cy="1382.3" r="5.3" fill="#e7e4f2"/>
<circle cx="351.5" cy="1394.3" r="4.3" fill="#fee2d7"/>
<circle cx="344.6" cy="1392.9" r="4.3" fill="#e7e4f2"/>
<circle cx="325.8" cy="1409.0" r="4.6" fill="#e7e4f2"/>
<circle cx="327.2" cy="1392.0" r="4.8" fill="#f2f2f4"/>
<circle cx="349.7" cy="1402.9" r="5.3" fill="#e7e4f2"/>
<circle cx="405.8" cy="1388.1" r="4.3" fill="#fcac91"/>
<circle cx="416.3" cy="1395.6" r="3.6" fill="#fdc8b4"/>
<circle cx="423.6" cy="1419.3" r="5" fill="#fdc8b4"/>
<circle cx="428.0" cy="1392.6" r="5.3" fill="#fee2d7"/>
<circle cx="417.0" cy="1408.2" r="4.3" fill="#fdc8b4"/>
<circle cx="438.7" cy="1418.5" r="5.3" fill="#fee2d7"/>
<circle cx="468.2" cy="1404.6" r="4.6" fill="#fee2d7"/>
<circle cx="462.1" cy="1405.8" r="5.3" fill="#fcac91"/>
<circle cx="435.8" cy="1404.0" r="4.3" fill="#fcac91"/>
<circle cx="442.3" cy="1399.0" r="4.3" fill="#fee2d7"/>
<circle cx="460.7" cy="1399.3" r="4.6" fill="#fdc8b4"/>
<circle cx="447.3" cy="1403.0" r="4" fill="#fdc8b4"/>
<circle cx="492.6" cy="1412.7" r="4.6" fill="#fee2d7"/>
<circle cx="500.3" cy="1413.2" r="5" fill="#fee2d7"/>
<circle cx="498.0" cy="1385.8" r="4.8" fill="#fdc8b4"/>
<circle cx="480.1" cy="1403.7" r="4.8" fill="#fcac91"/>
<circle cx="507.6" cy="1414.6" r="5.3" fill="#fdc8b4"/>
<circle cx="474.9" cy="1397.5" r="3.6" fill="#fdc8b4"/>
<circle cx="485.8" cy="1390.9" r="4.3" fill="#fdc8b4"/>
<circle cx="504.6" cy="1409.6" r="3.6" fill="#fdc8b4"/>
<circle cx="488.5" cy="1416.1" r="5" fill="#fdc8b4"/>
<circle cx="509.5" cy="1397.9" r="5.3" fill="#fcac91"/>
<circle cx="551.6" cy="1383.0" r="4.6" fill="#f2f2f4"/>
<circle cx="535.4" cy="1414.3" r="4" fill="#fdc8b4"/>
<circle cx="530.4" cy="1399.6" r="3.6" fill="#f2f2f4"/>
<circle cx="549.2" cy="1385.3" r="4.6" fill="#fdc8b4"/>
<circle cx="525.5" cy="1394.0" r="4" fill="#f2f2f4"/>
<circle cx="558.5" cy="1411.5" r="5.3" fill="#fdc8b4"/>
<circle cx="580.0" cy="1384.9" r="4" fill="#f2f2f4"/>
<circle cx="579.0" cy="1403.9" r="5.3" fill="#fdc8b4"/>
<circle cx="291.5" cy="1437.6" r="4" fill="#fee2d7"/>
<circle cx="311.5" cy="1441.3" r="5.3" fill="#e7e4f2"/>
<circle cx="280.8" cy="1441.9" r="5" fill="#d2cde6"/>
<circle cx="298.2" cy="1423.4" r="4" fill="#e7e4f2"/>
<circle cx="301.5" cy="1427.7" r="4.6" fill="#f2f2f4"/>
<circle cx="315.7" cy="1443.3" r="4.8" fill="#f2f2f4"/>
<circle cx="323.4" cy="1457.8" r="4" fill="#fee2d7"/>
<circle cx="351.0" cy="1428.9" r="5" fill="#fee2d7"/>
<circle cx="345.2" cy="1451.8" r="5" fill="#e7e4f2"/>
<circle cx="352.4" cy="1445.0" r="3.6" fill="#f2f2f4"/>
<circle cx="329.6" cy="1437.5" r="5.3" fill="#fee2d7"/>
<circle cx="392.9" cy="1435.0" r="5.3" fill="#fcac91"/>
<circle cx="365.5" cy="1456.2" r="4.6" fill="#f2f2f4"/>
<circle cx="361.6" cy="1438.7" r="3.6" fill="#fee2d7"/>
<circle cx="387.6" cy="1439.3" r="5" fill="#fdc8b4"/>
<circle cx="369.5" cy="1446.3" r="4.6" fill="#f2f2f4"/>
<circle cx="396.1" cy="1452.7" r="4.8" fill="#fdc8b4"/>
<circle cx="396.4" cy="1445.5" r="4.8" fill="#fcac91"/>
<circle cx="399.9" cy="1421.8" r="5" fill="#fcac91"/>
<circle cx="408.5" cy="1424.9" r="5.3" fill="#fcac91"/>
<circle cx="410.4" cy="1449.1" r="4" fill="#fdc8b4"/>
<circle cx="418.5" cy="1423.8" r="4" fill="#fdc8b4"/>
<circle cx="446.2" cy="1437.0" r="5.3" fill="#fee2d7"/>
<circle cx="453.4" cy="1432.4" r="4.6" fill="#fdc8b4"/>
<circle cx="471.9" cy="1436.5" r="5.3" fill="#fdc8b4"/>
<circle cx="465.0" cy="1425.7" r="4.6" fill="#fee2d7"/>
<circle cx="478.8" cy="1423.0" r="4.6" fill="#fcac91"/>
<circle cx="481.4" cy="1431.2" r="5" fill="#fdc8b4"/>
<circle cx="485.3" cy="1428.5" r="4.3" fill="#fcac91"/>
<circle cx="325.3" cy="1122.5" r="5.2" fill="#fcac91"/>
<circle cx="329.9" cy="1123.9" r="4.6" fill="#fcac91"/>
<circle cx="325.1" cy="1128.1" r="4" fill="#fcac91"/>
<circle cx="317.1" cy="1125.9" r="5.2" fill="#fcac91"/>
<circle cx="319.3" cy="1125.7" r="4.3" fill="#fcac91"/>
<circle cx="347.4" cy="1130.6" r="4.6" fill="#fcac91"/>
<circle cx="340.5" cy="1130.0" r="4.6" fill="#fcac91"/>
<circle cx="343.0" cy="1125.9" r="4.6" fill="#fcac91"/>
<circle cx="347.8" cy="1134.2" r="4.6" fill="#fcac91"/>
<circle cx="335.5" cy="1139.5" r="4.9" fill="#fcac91"/>
<circle cx="289.2" cy="1159.2" r="4.9" fill="#ee2d05"/>
<circle cx="277.5" cy="1150.7" r="5.2" fill="#ee2d05"/>
<circle cx="281.5" cy="1145.2" r="4" fill="#ee2d05"/>
<circle cx="283.4" cy="1143.4" r="4.3" fill="#fe2378"/>
<circle cx="293.0" cy="1151.8" r="5.2" fill="#ee2d05"/>
<circle cx="307.9" cy="1158.8" r="4.6" fill="#fe2378"/>
<circle cx="307.0" cy="1149.5" r="4.9" fill="#fe2378"/>
<circle cx="308.8" cy="1147.0" r="4.9" fill="#fe2378"/>
<circle cx="307.6" cy="1155.9" r="4.3" fill="#ee2d05"/>
<circle cx="310.7" cy="1150.1" r="5.2" fill="#fe2378"/>
<circle cx="331.1" cy="1150.8" r="4.3" fill="#fcac91"/>
<circle cx="321.0" cy="1151.9" r="5.2" fill="#fcac91"/>
<circle cx="321.9" cy="1149.1" r="4" fill="#fd915f"/>
<circle cx="323.1" cy="1159.7" r="5.2" fill="#fcac91"/>
<circle cx="317.7" cy="1150.8" r="4.3" fill="#fcac91"/>
<circle cx="343.3" cy="1153.9" r="5.2" fill="#fcac91"/>
<circle cx="338.3" cy="1151.8" r="4" fill="#fdc8b4"/>
<circle cx="349.1" cy="1151.5" r="4.6" fill="#fee2d7"/>
<circle cx="341.6" cy="1150.1" r="5.2" fill="#fdc8b4"/>
<circle cx="266.7" cy="1178.6" r="5.2" fill="#ee2d05"/>
<circle cx="270.4" cy="1171.0" r="4.9" fill="#fe2378"/>
<circle cx="268.6" cy="1175.4" r="5.2" fill="#ee2d05"/>
<circle cx="287.0" cy="1166.1" r="4.6" fill="#fd6419"/>
<circle cx="275.0" cy="1176.1" r="4.9" fill="#fd6419"/>
<circle cx="290.5" cy="1160.8" r="4.6" fill="#fd6419"/>
<circle cx="291.2" cy="1176.4" r="4" fill="#fd6419"/>
<circle cx="275.7" cy="1176.5" r="4.3" fill="#fd6419"/>
<circle cx="304.1" cy="1178.4" r="4.9" fill="#fd915f"/>
<circle cx="299.0" cy="1167.0" r="4.3" fill="#fd915f"/>
<circle cx="299.4" cy="1165.3" r="4.6" fill="#fd915f"/>
<circle cx="305.4" cy="1178.1" r="5.2" fill="#fd915f"/>
<circle cx="297.9" cy="1175.7" r="4.9" fill="#fd915f"/>
<circle cx="327.1" cy="1165.1" r="4.6" fill="#fcac91"/>
<circle cx="333.6" cy="1179.0" r="4.6" fill="#fcac91"/>
<circle cx="330.7" cy="1171.7" r="5.2" fill="#fcac91"/>
<circle cx="331.2" cy="1164.0" r="4.9" fill="#fcac91"/>
<circle cx="329.4" cy="1178.6" r="4.3" fill="#fcac91"/>
<circle cx="347.2" cy="1164.9" r="4.6" fill="#fcac91"/>
<circle cx="339.1" cy="1167.8" r="4.9" fill="#fdc8b4"/>
<circle cx="336.0" cy="1162.8" r="4.6" fill="#fee2d7"/>
<circle cx="342.6" cy="1163.7" r="4" fill="#fee2d7"/>
<circle cx="258.2" cy="1198.2" r="4" fill="#fe2378"/>
<circle cx="272.0" cy="1183.9" r="4.6" fill="#fe2378"/>
<circle cx="269.2" cy="1182.5" r="4" fill="#fe2378"/>
<circle cx="266.6" cy="1185.8" r="4.9" fill="#ee2d05"/>
<circle cx="261.5" cy="1189.1" r="4.3" fill="#fe2378"/>
<circle cx="294.6" cy="1180.6" r="4.6" fill="#fe2378"/>
<circle cx="276.8" cy="1197.1" r="4.3" fill="#ee2d05"/>
<circle cx="290.7" cy="1184.2" r="4.3" fill="#fe2378"/>
<circle cx="281.4" cy="1198.2" r="4.3" fill="#ee2d05"/>
<circle cx="291.5" cy="1191.0" r="5.2" fill="#fe2378"/>
<circle cx="304.3" cy="1194.5" r="4.9" fill="#fcac91"/>
<circle cx="310.5" cy="1181.3" r="4.3" fill="#fd915f"/>
<circle cx="295.7" cy="1188.1" r="4.9" fill="#fd915f"/>
<circle cx="309.6" cy="1184.9" r="4.9" fill="#fd915f"/>
<circle cx="314.7" cy="1183.9" r="4.9" fill="#fcac91"/>
<circle cx="316.4" cy="1189.4" r="4.6" fill="#fcac91"/>
<circle cx="324.1" cy="1182.4" r="5.2" fill="#fcac91"/>
<circle cx="317.0" cy="1199.7" r="4.9" fill="#fd915f"/>
<circle cx="319.7" cy="1191.2" r="4" fill="#fcac91"/>
<circle cx="321.3" cy="1195.6" r="4.6" fill="#fd915f"/>
<circle cx="345.1" cy="1188.0" r="5.2" fill="#fd915f"/>
<circle cx="343.7" cy="1184.9" r="4" fill="#fd915f"/>
<circle cx="340.8" cy="1191.9" r="4" fill="#fcac91"/>
<circle cx="341.2" cy="1191.3" r="4" fill="#fcac91"/>
<circle cx="339.6" cy="1181.9" r="4" fill="#fcac91"/>
<circle cx="270.7" cy="1212.9" r="4.9" fill="#fd6419"/>
<circle cx="264.3" cy="1213.2" r="4" fill="#fd6419"/>
<circle cx="272.0" cy="1212.3" r="4.6" fill="#fd6419"/>
<circle cx="274.0" cy="1217.9" r="4.6" fill="#fd915f"/>
<circle cx="262.7" cy="1219.0" r="4.9" fill="#fd6419"/>
<circle cx="286.2" cy="1208.8" r="4.9" fill="#fd915f"/>
<circle cx="276.4" cy="1214.0" r="4.9" fill="#fd6419"/>
<circle cx="279.1" cy="1215.5" r="4" fill="#fd6419"/>
<circle cx="292.5" cy="1211.2" r="5.2" fill="#fd6419"/>
<circle cx="277.6" cy="1210.0" r="4.3" fill="#fd6419"/>
<circle cx="295.0" cy="1214.2" r="5.2" fill="#fd915f"/>
<circle cx="301.4" cy="1208.9" r="4.9" fill="#fd915f"/>
<circle cx="303.4" cy="1216.5" r="4.3" fill="#fcac91"/>
<circle cx="313.3" cy="1213.8" r="4" fill="#fd915f"/>
<circle cx="307.6" cy="1208.0" r="4.9" fill="#fcac91"/>
<circle cx="332.4" cy="1217.3" r="4.6" fill="#fcac91"/>
<circle cx="328.1" cy="1202.7" r="4.3" fill="#fcac91"/>
<circle cx="327.0" cy="1213.1" r="4" fill="#fd915f"/>
<circle cx="316.3" cy="1206.1" r="4.3" fill="#fcac91"/>
<circle cx="315.7" cy="1213.6" r="4" fill="#fcac91"/>
<circle cx="334.7" cy="1211.1" r="4.6" fill="#fcac91"/>
<circle cx="340.7" cy="1202.4" r="4.9" fill="#fd915f"/>
<circle cx="338.8" cy="1219.1" r="4.3" fill="#fcac91"/>
<circle cx="335.4" cy="1210.1" r="4.3" fill="#fcac91"/>
<circle cx="352.6" cy="1206.2" r="4.9" fill="#fcac91"/>
<circle cx="255.0" cy="1229.7" r="4" fill="#fd915f"/>
<circle cx="266.2" cy="1238.1" r="4" fill="#fe2378"/>
<circle cx="269.4" cy="1222.0" r="4.9" fill="#fe2378"/>
<circle cx="272.9" cy="1232.8" r="4.6" fill="#fe2378"/>
<circle cx="263.7" cy="1225.4" r="4.3" fill="#fe2378"/>
<circle cx="259.0" cy="1221.2" r="5.2" fill="#ee2d05"/>
<circle cx="291.7" cy="1222.9" r="4.6" fill="#fcac91"/>
<circle cx="293.0" cy="1220.7" r="4.6" fill="#fcac91"/>
<circle cx="285.0" cy="1233.5" r="4.6" fill="#fcac91"/>
<circle cx="277.7" cy="1238.0" r="4" fill="#fcac91"/>
<circle cx="287.2" cy="1225.3" r="4" fill="#fd915f"/>
<circle cx="314.5" cy="1226.3" r="4.3" fill="#fcac91"/>
<circle cx="295.5" cy="1223.5" r="5.2" fill="#fcac91"/>
<circle cx="297.4" cy="1235.2" r="4" fill="#fcac91"/>
<circle cx="306.6" cy="1237.3" r="4.3" fill="#fcac91"/>
<circle cx="305.5" cy="1223.5" r="4.6" fill="#fd915f"/>
<circle cx="330.7" cy="1226.4" r="4.9" fill="#fdc8b4"/>
<circle cx="328.3" cy="1223.1" r="4" fill="#fcac91"/>
<circle cx="322.5" cy="1230.4" r="4.9" fill="#fcac91"/>
<circle cx="316.1" cy="1227.6" r="4" fill="#fee2d7"/>
<circle cx="349.7" cy="1227.6" r="5.2" fill="#fee2d7"/>
<circle cx="352.8" cy="1236.8" r="5.2" fill="#fee2d7"/>
<circle cx="336.4" cy="1232.2" r="4.9" fill="#fdc8b4"/>
<circle cx="347.8" cy="1238.5" r="4" fill="#fdc8b4"/>
<circle cx="253.8" cy="1250.2" r="5.2" fill="#fd915f"/>
<circle cx="253.1" cy="1256.7" r="4.3" fill="#fd915f"/>
<circle cx="268.9" cy="1240.7" r="4.9" fill="#fe2378"/>
<circle cx="271.9" cy="1250.6" r="4.6" fill="#fe2378"/>
<circle cx="263.3" cy="1246.3" r="5.2" fill="#ee2d05"/>
<circle cx="266.1" cy="1246.7" r="4.9" fill="#fe2378"/>
<circle cx="263.4" cy="1257.9" r="4" fill="#ee2d05"/>
<circle cx="276.4" cy="1250.5" r="5.2" fill="#fcac91"/>
<circle cx="293.4" cy="1243.9" r="4.6" fill="#fcac91"/>
<circle cx="276.7" cy="1242.0" r="4" fill="#fcac91"/>
<circle cx="277.9" cy="1256.3" r="4" fill="#fcac91"/>
<circle cx="285.1" cy="1256.7" r="5.2" fill="#fcac91"/>
<circle cx="310.4" cy="1249.2" r="4" fill="#fee2d7"/>
<circle cx="313.1" cy="1244.7" r="5.2" fill="#fee2d7"/>
<circle cx="296.2" cy="1251.3" r="4.3" fill="#fee2d7"/>
<circle cx="303.1" cy="1240.8" r="4.3" fill="#fee2d7"/>
<circle cx="326.3" cy="1259.9" r="5.2" fill="#fcac91"/>
<circle cx="328.1" cy="1255.1" r="4.6" fill="#fd915f"/>
<circle cx="327.5" cy="1243.2" r="4.3" fill="#fcac91"/>
<circle cx="330.3" cy="1244.3" r="4.6" fill="#fcac91"/>
<circle cx="327.4" cy="1256.2" r="4" fill="#fcac91"/>
<circle cx="338.0" cy="1249.2" r="4" fill="#fcac91"/>
<circle cx="343.2" cy="1242.5" r="4" fill="#fd915f"/>
<circle cx="343.6" cy="1247.9" r="4.3" fill="#fd915f"/>
<circle cx="337.6" cy="1246.1" r="4.3" fill="#fd915f"/>
<circle cx="343.1" cy="1254.2" r="4" fill="#fcac91"/>
<circle cx="265.0" cy="1262.1" r="4" fill="#fcac91"/>
<circle cx="274.5" cy="1267.8" r="4" fill="#fcac91"/>
<circle cx="265.5" cy="1275.5" r="5.2" fill="#fcac91"/>
<circle cx="271.0" cy="1269.9" r="4.3" fill="#fcac91"/>
<circle cx="265.9" cy="1273.0" r="4.3" fill="#fd915f"/>
<circle cx="286.7" cy="1269.6" r="4.9" fill="#fee2d7"/>
<circle cx="284.3" cy="1275.6" r="5.2" fill="#fcac91"/>
<circle cx="278.4" cy="1278.4" r="4.6" fill="#fdc8b4"/>
<circle cx="288.6" cy="1278.8" r="4.6" fill="#fdc8b4"/>
<circle cx="295.9" cy="1278.4" r="4.6" fill="#fcac91"/>
<circle cx="309.2" cy="1278.2" r="5.2" fill="#fcac91"/>
<circle cx="299.5" cy="1266.1" r="4" fill="#fcac91"/>
<circle cx="297.4" cy="1276.0" r="4" fill="#fd915f"/>
<circle cx="310.2" cy="1265.8" r="4" fill="#fcac91"/>
<circle cx="323.8" cy="1260.9" r="4.9" fill="#fcac91"/>
<circle cx="317.8" cy="1271.3" r="4" fill="#fcac91"/>
<circle cx="318.2" cy="1267.2" r="4.9" fill="#fd915f"/>
<circle cx="327.3" cy="1271.2" r="4.6" fill="#fcac91"/>
<circle cx="327.0" cy="1274.4" r="4.6" fill="#fd915f"/>
<circle cx="347.1" cy="1268.1" r="4.6" fill="#fd915f"/>
<circle cx="334.6" cy="1275.6" r="4.3" fill="#fcac91"/>
<circle cx="347.2" cy="1262.6" r="4.9" fill="#fd915f"/>
<circle cx="336.2" cy="1264.2" r="4.3" fill="#fcac91"/>
<circle cx="339.4" cy="1266.7" r="4" fill="#fcac91"/>
<circle cx="253.3" cy="1286.7" r="4.9" fill="#fe2378"/>
<circle cx="251.0" cy="1289.8" r="4.9" fill="#ee2d05"/>
<circle cx="252.1" cy="1291.8" r="4" fill="#ee2d05"/>
<circle cx="266.8" cy="1293.5" r="5.2" fill="#ee2d05"/>
<circle cx="266.2" cy="1283.5" r="4.6" fill="#fe2378"/>
<circle cx="271.5" cy="1297.7" r="4" fill="#fe2378"/>
<circle cx="261.1" cy="1299.1" r="4.6" fill="#fe2378"/>
<circle cx="261.3" cy="1283.1" r="4.9" fill="#fe2378"/>
<circle cx="294.3" cy="1296.5" r="4.3" fill="#fcac91"/>
<circle cx="289.2" cy="1292.0" r="4" fill="#fcac91"/>
<circle cx="283.1" cy="1294.8" r="4.6" fill="#fcac91"/>
<circle cx="280.7" cy="1290.6" r="4.9" fill="#fcac91"/>
<circle cx="277.9" cy="1283.3" r="4.3" fill="#fd915f"/>
<circle cx="308.8" cy="1299.5" r="5.2" fill="#fd915f"/>
<circle cx="311.0" cy="1290.7" r="4" fill="#fcac91"/>
<circle cx="301.5" cy="1292.2" r="4.9" fill="#fcac91"/>
<circle cx="296.5" cy="1297.1" r="4.3" fill="#fcac91"/>
<circle cx="304.3" cy="1284.0" r="4.3" fill="#fd915f"/>
<circle cx="328.9" cy="1281.5" r="4" fill="#fcac91"/>
<circle cx="317.5" cy="1292.7" r="4.9" fill="#fcac91"/>
<circle cx="322.3" cy="1291.4" r="4.6" fill="#fcac91"/>
<circle cx="328.6" cy="1289.1" r="4" fill="#fcac91"/>
<circle cx="317.0" cy="1295.1" r="5.2" fill="#fcac91"/>
<circle cx="337.0" cy="1293.4" r="4" fill="#fcac91"/>
<circle cx="352.3" cy="1295.1" r="4.6" fill="#fcac91"/>
<circle cx="337.2" cy="1292.4" r="4.3" fill="#fcac91"/>
<circle cx="337.6" cy="1290.8" r="4.6" fill="#fcac91"/>
<circle cx="344.9" cy="1283.1" r="5.2" fill="#fd915f"/>
<circle cx="251.7" cy="1303.2" r="4.6" fill="#fe2378"/>
<circle cx="257.0" cy="1309.7" r="4.9" fill="#fd6419"/>
<circle cx="266.3" cy="1310.4" r="5.2" fill="#fd915f"/>
<circle cx="266.0" cy="1320.5" r="4.3" fill="#fd6419"/>
<circle cx="268.0" cy="1315.4" r="4.3" fill="#fd6419"/>
<circle cx="271.1" cy="1302.4" r="4.6" fill="#fd6419"/>
<circle cx="281.6" cy="1304.8" r="4.6" fill="#fd6419"/>
<circle cx="284.3" cy="1304.8" r="4.9" fill="#fd6419"/>
<circle cx="289.3" cy="1312.1" r="4" fill="#fd915f"/>
<circle cx="292.3" cy="1317.1" r="4" fill="#fd915f"/>
<circle cx="281.3" cy="1310.3" r="5.2" fill="#fd915f"/>
<circle cx="300.9" cy="1311.8" r="5.2" fill="#fd6419"/>
<circle cx="312.4" cy="1305.6" r="4.3" fill="#fd6419"/>
<circle cx="295.7" cy="1315.8" r="4.9" fill="#fd915f"/>
<circle cx="307.5" cy="1319.4" r="4" fill="#fd6419"/>
<circle cx="302.9" cy="1301.4" r="4.6" fill="#fd915f"/>
<circle cx="328.5" cy="1311.7" r="4" fill="#fcac91"/>
<circle cx="315.7" cy="1313.1" r="4.3" fill="#fd915f"/>
<circle cx="322.6" cy="1307.7" r="4.6" fill="#fd915f"/>
<circle cx="322.3" cy="1313.0" r="4" fill="#fcac91"/>
<circle cx="322.3" cy="1304.4" r="4.9" fill="#fd915f"/>
<circle cx="254.4" cy="1331.3" r="4" fill="#fcac91"/>
<circle cx="253.3" cy="1322.9" r="4.3" fill="#fcac91"/>
<circle cx="264.9" cy="1330.0" r="4.9" fill="#fd915f"/>
<circle cx="274.7" cy="1326.1" r="4.6" fill="#fd915f"/>
<circle cx="264.2" cy="1332.5" r="4.3" fill="#fd915f"/>
<circle cx="261.6" cy="1334.2" r="4" fill="#fd915f"/>
<circle cx="268.3" cy="1330.3" r="4.3" fill="#fd6419"/>
<circle cx="291.1" cy="1328.6" r="4.9" fill="#fcac91"/>
<circle cx="276.0" cy="1337.2" r="5.2" fill="#fcac91"/>
<circle cx="287.6" cy="1327.2" r="4" fill="#fcac91"/>
<circle cx="292.9" cy="1322.9" r="4" fill="#fcac91"/>
<circle cx="293.1" cy="1322.6" r="4.6" fill="#fcac91"/>
<circle cx="303.4" cy="1336.9" r="4" fill="#fd6419"/>
<circle cx="311.0" cy="1320.8" r="4.9" fill="#fd6419"/>
<circle cx="314.6" cy="1334.6" r="5.2" fill="#fd915f"/>
<circle cx="302.0" cy="1325.9" r="4" fill="#fd6419"/>
<circle cx="296.1" cy="1327.6" r="4.6" fill="#fd6419"/>
<circle cx="315.1" cy="1331.2" r="4.3" fill="#fcac91"/>
<circle cx="328.1" cy="1330.4" r="4" fill="#fd915f"/>
<circle cx="321.2" cy="1324.2" r="4.3" fill="#fd915f"/>
<circle cx="333.7" cy="1322.3" r="4" fill="#fcac91"/>
<circle cx="329.6" cy="1330.0" r="4.6" fill="#fcac91"/>
<circle cx="252.4" cy="1342.9" r="4.6" fill="#fdc8b4"/>
<circle cx="263.9" cy="1351.0" r="4.6" fill="#fcac91"/>
<circle cx="269.3" cy="1357.7" r="5.2" fill="#fd915f"/>
<circle cx="264.3" cy="1359.8" r="4" fill="#fcac91"/>
<circle cx="267.0" cy="1350.8" r="4.9" fill="#fcac91"/>
<circle cx="258.2" cy="1346.3" r="4" fill="#fcac91"/>
<circle cx="285.7" cy="1359.0" r="4" fill="#fdc8b4"/>
<circle cx="282.8" cy="1356.6" r="4.6" fill="#fdc8b4"/>
<circle cx="294.3" cy="1348.2" r="4.6" fill="#fdc8b4"/>
<circle cx="293.0" cy="1343.4" r="4.6" fill="#fdc8b4"/>
<circle cx="295.7" cy="1346.6" r="4.6" fill="#fcac91"/>
<circle cx="307.9" cy="1349.1" r="4.6" fill="#fcac91"/>
<circle cx="309.1" cy="1357.5" r="4.3" fill="#fd915f"/>
<circle cx="312.9" cy="1346.2" r="4.3" fill="#fcac91"/>
<circle cx="307.9" cy="1342.8" r="5.2" fill="#fd915f"/>
<circle cx="334.2" cy="1355.3" r="5.2" fill="#fee2d7"/>
<circle cx="318.8" cy="1353.4" r="4.6" fill="#fdc8b4"/>
<circle cx="322.7" cy="1356.7" r="4.6" fill="#fdc8b4"/>
<circle cx="326.2" cy="1350.4" r="5.2" fill="#fee2d7"/>
<circle cx="261.4" cy="1370.0" r="4.9" fill="#fcac91"/>
<circle cx="257.5" cy="1360.9" r="4" fill="#fdc8b4"/>
<circle cx="262.4" cy="1371.9" r="4.9" fill="#fdc8b4"/>
<circle cx="291.4" cy="1366.7" r="4" fill="#fdc8b4"/>
<circle cx="289.9" cy="1370.3" r="4" fill="#fee2d7"/>
<circle cx="313.5" cy="1362.0" r="4.6" fill="#fdc8b4"/>
<circle cx="299.7" cy="1364.0" r="4" fill="#fdc8b4"/>
<circle cx="310.8" cy="1367.1" r="4.6" fill="#fdc8b4"/>
<circle cx="312.5" cy="1368.4" r="4.3" fill="#fcac91"/>
</g>
</g>
<rect x="381.7" y="1102.7" width="120.6" height="45.1" fill="none" stroke="#1a1a1a" stroke-width="3.6"/>
<rect x="334.2" y="1185.3" width="73.6" height="52.6" fill="none" stroke="#1a1a1a" stroke-width="3.6"/>
<rect x="274.0" y="1389.0" width="60.0" height="58.8" fill="none" stroke="#1a1a1a" stroke-width="3.6"/>
<text x="513.1" y="1157.5" font-size="40">region1</text>
<text x="425.3" y="1240.3" font-size="40">region2</text>
<text x="346.4" y="1411.1" font-size="40">region3</text>
<rect x="138" y="83" width="728.3" height="673.5" fill="none" stroke="#1e1e1e" stroke-width="3.2"/>
<line x1="122" y1="756.5" x2="138" y2="756.5" stroke="#1e1e1e" stroke-width="3"/>
<text x="120.0" y="770.8" text-anchor="end" font-size="42">20°N</text>
<line x1="122" y1="644.2" x2="138" y2="644.2" stroke="#1e1e1e" stroke-width="3"/>
<text x="120.0" y="658.5" text-anchor="end" font-size="42">21°N</text>
<line x1="122" y1="532.0" x2="138" y2="532.0" stroke="#1e1e1e" stroke-width="3"/>
<text x="120.0" y="546.3" text-anchor="end" font-size="42">22°N</text>
<line x1="122" y1="419.8" x2="138" y2="419.8" stroke="#1e1e1e" stroke-width="3"/>
<text x="120.0" y="434.1" text-anchor="end" font-size="42">23°N</text>
<line x1="122" y1="307.5" x2="138" y2="307.5" stroke="#1e1e1e" stroke-width="3"/>
<text x="120.0" y="321.8" text-anchor="end" font-size="42">24°N</text>
<line x1="122" y1="195.2" x2="138" y2="195.2" stroke="#1e1e1e" stroke-width="3"/>
<text x="120.0" y="209.6" text-anchor="end" font-size="42">25°N</text>
<line x1="122" y1="83.0" x2="138" y2="83.0" stroke="#1e1e1e" stroke-width="3"/>
<text x="120.0" y="97.3" text-anchor="end" font-size="42">26°N</text>
<line x1="194.0" y1="756.5" x2="194.0" y2="771.5" stroke="#1e1e1e" stroke-width="3"/>
<text x="194.0" y="812.5" text-anchor="middle" font-size="40">110°E</text>
<line x1="306.1" y1="756.5" x2="306.1" y2="771.5" stroke="#1e1e1e" stroke-width="3"/>
<line x1="418.1" y1="756.5" x2="418.1" y2="771.5" stroke="#1e1e1e" stroke-width="3"/>
<text x="418.1" y="812.5" text-anchor="middle" font-size="40">112°E</text>
<line x1="530.2" y1="756.5" x2="530.2" y2="771.5" stroke="#1e1e1e" stroke-width="3"/>
<line x1="642.2" y1="756.5" x2="642.2" y2="771.5" stroke="#1e1e1e" stroke-width="3"/>
<text x="642.2" y="812.5" text-anchor="middle" font-size="40">114°E</text>
<line x1="754.3" y1="756.5" x2="754.3" y2="771.5" stroke="#1e1e1e" stroke-width="3"/>
<line x1="866.3" y1="756.5" x2="866.3" y2="771.5" stroke="#1e1e1e" stroke-width="3"/>
<text x="866.3" y="812.5" text-anchor="middle" font-size="40">116°E</text>
<text x="493.8" y="55.0" text-anchor="middle">(a)</text>
<rect x="144" y="943" width="722.7" height="674.5" fill="none" stroke="#1e1e1e" stroke-width="3.2"/>
<line x1="128" y1="1617.5" x2="144" y2="1617.5" stroke="#1e1e1e" stroke-width="3"/>
<text x="126.8" y="1631.8" text-anchor="end" font-size="42">20°N</text>
<line x1="128" y1="1505.1" x2="144" y2="1505.1" stroke="#1e1e1e" stroke-width="3"/>
<text x="126.8" y="1519.4" text-anchor="end" font-size="42">21°N</text>
<line x1="128" y1="1392.7" x2="144" y2="1392.7" stroke="#1e1e1e" stroke-width="3"/>
<text x="126.8" y="1407.0" text-anchor="end" font-size="42">22°N</text>
<line x1="128" y1="1280.2" x2="144" y2="1280.2" stroke="#1e1e1e" stroke-width="3"/>
<text x="126.8" y="1294.5" text-anchor="end" font-size="42">23°N</text>
<line x1="128" y1="1167.8" x2="144" y2="1167.8" stroke="#1e1e1e" stroke-width="3"/>
<text x="126.8" y="1182.1" text-anchor="end" font-size="42">24°N</text>
<line x1="128" y1="1055.4" x2="144" y2="1055.4" stroke="#1e1e1e" stroke-width="3"/>
<text x="126.8" y="1069.7" text-anchor="end" font-size="42">25°N</text>
<line x1="128" y1="943.0" x2="144" y2="943.0" stroke="#1e1e1e" stroke-width="3"/>
<text x="126.8" y="957.3" text-anchor="end" font-size="42">26°N</text>
<line x1="199.6" y1="1617.5" x2="199.6" y2="1632.5" stroke="#1e1e1e" stroke-width="3"/>
<text x="199.6" y="1673.5" text-anchor="middle" font-size="40">110°E</text>
<line x1="310.8" y1="1617.5" x2="310.8" y2="1632.5" stroke="#1e1e1e" stroke-width="3"/>
<line x1="422.0" y1="1617.5" x2="422.0" y2="1632.5" stroke="#1e1e1e" stroke-width="3"/>
<text x="422.0" y="1673.5" text-anchor="middle" font-size="40">112°E</text>
<line x1="533.1" y1="1617.5" x2="533.1" y2="1632.5" stroke="#1e1e1e" stroke-width="3"/>
<line x1="644.3" y1="1617.5" x2="644.3" y2="1632.5" stroke="#1e1e1e" stroke-width="3"/>
<text x="644.3" y="1673.5" text-anchor="middle" font-size="40">114°E</text>
<line x1="755.5" y1="1617.5" x2="755.5" y2="1632.5" stroke="#1e1e1e" stroke-width="3"/>
<line x1="866.7" y1="1617.5" x2="866.7" y2="1632.5" stroke="#1e1e1e" stroke-width="3"/>
<text x="866.7" y="1673.5" text-anchor="middle" font-size="40">116°E</text>
<text x="497.4" y="929.5" text-anchor="middle">(c)</text>
<line x1="1003.7" y1="763.3" x2="1725.3" y2="97.4" stroke="#ff1e1e" stroke-width="2.4"/>
<rect x="1002.7" y="96.4" width="723.6" height="667.9" fill="none" stroke="#1e1e1e" stroke-width="3.2"/>
<line x1="1183.6" y1="764.3" x2="1183.6" y2="751.3" stroke="#1e1e1e" stroke-width="3"/>
<line x1="1183.6" y1="96.4" x2="1183.6" y2="109.4" stroke="#1e1e1e" stroke-width="3"/>
<line x1="1002.7" y1="597.3" x2="1015.7" y2="597.3" stroke="#1e1e1e" stroke-width="3"/>
<line x1="1726.3" y1="597.3" x2="1713.3" y2="597.3" stroke="#1e1e1e" stroke-width="3"/>
<line x1="1364.5" y1="764.3" x2="1364.5" y2="751.3" stroke="#1e1e1e" stroke-width="3"/>
<line x1="1364.5" y1="96.4" x2="1364.5" y2="109.4" stroke="#1e1e1e" stroke-width="3"/>
<line x1="1002.7" y1="430.3" x2="1015.7" y2="430.3" stroke="#1e1e1e" stroke-width="3"/>
<line x1="1726.3" y1="430.3" x2="1713.3" y2="430.3" stroke="#1e1e1e" stroke-width="3"/>
<line x1="1545.4" y1="764.3" x2="1545.4" y2="751.3" stroke="#1e1e1e" stroke-width="3"/>
<line x1="1545.4" y1="96.4" x2="1545.4" y2="109.4" stroke="#1e1e1e" stroke-width="3"/>
<line x1="1002.7" y1="263.4" x2="1015.7" y2="263.4" stroke="#1e1e1e" stroke-width="3"/>
<line x1="1726.3" y1="263.4" x2="1713.3" y2="263.4" stroke="#1e1e1e" stroke-width="3"/>
<text x="1002.7" y="810.3" text-anchor="middle" font-size="40">0</text>
<text x="989.7" y="775.3" text-anchor="end" font-size="40">0</text>
<text x="1183.6" y="810.3" text-anchor="middle" font-size="40">2</text>
<text x="989.7" y="608.3" text-anchor="end" font-size="40">2</text>
<text x="1364.5" y="810.3" text-anchor="middle" font-size="40">4</text>
<text x="989.7" y="441.3" text-anchor="end" font-size="40">4</text>
<text x="1545.4" y="810.3" text-anchor="middle" font-size="40">6</text>
<text x="989.7" y="274.4" text-anchor="end" font-size="40">6</text>
<text x="1726.3" y="810.3" text-anchor="middle" font-size="40">8</text>
<text x="989.7" y="107.4" text-anchor="end" font-size="40">8</text>
<text x="1360.5" y="55.0" text-anchor="middle">(b)</text>
<text x="1361.0" y="859.8" text-anchor="middle" font-size="40.5">Gauge(mm)</text>
<text transform="translate(933,430.3) rotate(-90)" text-anchor="middle" font-size="41.5">QPE(mm)</text>
<text x="1362.7" y="156.5" text-anchor="middle" font-size="41.7">region1, 2, and 3</text>
<text x="1035" y="216.6" font-size="41.2"><tspan font-style="italic">NB</tspan>=18.42%</text>
<text x="1035" y="262.4" font-size="41.2"><tspan font-style="italic">NE</tspan>=20.23%</text>
<text x="1035" y="308.2" font-size="41.2"><tspan font-style="italic">RMSE</tspan>=0.92mm</text>
<circle cx="1401.5" cy="203.5" r="7.3"/>
<circle cx="1473.8" cy="234.1" r="7.3"/>
<circle cx="1414.5" cy="283.4" r="7.3"/>
<circle cx="1442.2" cy="280.1" r="7.3"/>
<circle cx="1438.9" cy="290.1" r="7.3"/>
<circle cx="1380.0" cy="299.4" r="7.3"/>
<circle cx="1348.9" cy="308.6" r="7.3"/>
<circle cx="1336.3" cy="321.2" r="7.3"/>
<circle cx="1364.9" cy="321.2" r="7.3"/>
<circle cx="1380.0" cy="322.1" r="7.3"/>
<circle cx="1395.1" cy="314.5" r="7.3"/>
<circle cx="1406.9" cy="325.5" r="7.3"/>
<circle cx="1317.8" cy="337.2" r="7.3"/>
<circle cx="1326.2" cy="333.9" r="7.3"/>
<circle cx="1339.7" cy="337.2" r="7.3"/>
<circle cx="1457.4" cy="335.5" r="7.3"/>
<circle cx="1376.6" cy="355.7" r="7.3"/>
<circle cx="1342.2" cy="358.2" r="7.3"/>
<circle cx="1215.2" cy="365.0" r="7.3"/>
<circle cx="1295.9" cy="367.5" r="7.3"/>
<circle cx="1366.6" cy="370.9" r="7.3"/>
<circle cx="1336.3" cy="370.0" r="7.3"/>
<circle cx="1348.1" cy="368.3" r="7.3"/>
<circle cx="1280.8" cy="378.4" r="7.3"/>
<circle cx="1417.0" cy="375.0" r="7.3"/>
<circle cx="1438.9" cy="377.6" r="7.3"/>
<circle cx="1358.2" cy="376.7" r="7.3"/>
<circle cx="1336.3" cy="380.2" r="7.3"/>
<circle cx="1338.0" cy="386.9" r="7.3"/>
<circle cx="1326.2" cy="393.6" r="7.3"/>
<circle cx="1321.2" cy="400.4" r="7.3"/>
<circle cx="1423.7" cy="390.3" r="7.3"/>
<circle cx="1406.9" cy="393.6" r="7.3"/>
<circle cx="1246.3" cy="395.3" r="7.3"/>
<circle cx="1301.8" cy="402.0" r="7.3"/>
<circle cx="1280.8" cy="410.4" r="7.3"/>
<circle cx="1356.5" cy="402.0" r="7.3"/>
<circle cx="1356.5" cy="415.5" r="7.3"/>
<circle cx="1378.3" cy="406.2" r="7.3"/>
<circle cx="1368.2" cy="415.5" r="7.3"/>
<circle cx="1332.9" cy="410.4" r="7.3"/>
<circle cx="1334.6" cy="420.5" r="7.3"/>
<circle cx="1354.8" cy="422.2" r="7.3"/>
<circle cx="1268.2" cy="427.3" r="7.3"/>
<circle cx="1283.3" cy="430.6" r="7.3"/>
<circle cx="1324.5" cy="434.0" r="7.3"/>
<circle cx="1338.0" cy="430.6" r="7.3"/>
<circle cx="1348.1" cy="437.4" r="7.3"/>
<circle cx="1299.3" cy="437.4" r="7.3"/>
<circle cx="1215.2" cy="442.4" r="7.3"/>
<circle cx="1411.1" cy="442.4" r="7.3"/>
<circle cx="1341.3" cy="447.4" r="7.3"/>
<circle cx="1299.3" cy="449.1" r="7.3"/>
<circle cx="1258.9" cy="451.6" r="7.3"/>
<circle cx="1240.4" cy="458.4" r="7.3"/>
<circle cx="1249.7" cy="460.9" r="7.3"/>
<circle cx="1306.0" cy="458.4" r="7.3"/>
<circle cx="1354.8" cy="458.4" r="7.3"/>
<circle cx="1304.3" cy="469.3" r="7.3"/>
<circle cx="1284.2" cy="469.3" r="7.3"/>
<circle cx="1274.1" cy="476.0" r="7.3"/>
<circle cx="1270.7" cy="484.4" r="7.3"/>
<circle cx="1289.2" cy="477.7" r="7.3"/>
<circle cx="1295.9" cy="474.3" r="7.3"/>
<circle cx="1405.2" cy="471.0" r="7.3"/>
<circle cx="1233.7" cy="486.1" r="7.3"/>
<circle cx="1306.0" cy="492.8" r="7.3"/>
<circle cx="1280.8" cy="502.9" r="7.3"/>
<circle cx="1275.8" cy="511.3" r="7.3"/>
<circle cx="1284.2" cy="518.1" r="7.3"/>
<circle cx="1246.3" cy="513.9" r="7.3"/>
<circle cx="1211.9" cy="535.7" r="7.3"/>
<circle cx="1329.4" cy="393.0" r="7.3"/>
<circle cx="1331.6" cy="413.2" r="7.3"/>
<circle cx="1338.3" cy="426.6" r="7.3"/>
<circle cx="1358.5" cy="399.7" r="7.3"/>
<circle cx="1356.3" cy="417.7" r="7.3"/>
<circle cx="1275.6" cy="480.4" r="7.3"/>
<circle cx="1284.5" cy="469.2" r="7.3"/>
<circle cx="1304.7" cy="471.5" r="7.3"/>
<circle cx="1280.0" cy="505.1" r="7.3"/>
<line x1="1005" y1="1622" x2="1725" y2="954.7" stroke="#ff1e1e" stroke-width="2.4"/>
<rect x="1004" y="953.7" width="722.0" height="669.3" fill="none" stroke="#1e1e1e" stroke-width="3.2"/>
<line x1="1184.5" y1="1623" x2="1184.5" y2="1610" stroke="#1e1e1e" stroke-width="3"/>
<line x1="1184.5" y1="953.7" x2="1184.5" y2="966.7" stroke="#1e1e1e" stroke-width="3"/>
<line x1="1004" y1="1455.7" x2="1017" y2="1455.7" stroke="#1e1e1e" stroke-width="3"/>
<line x1="1726" y1="1455.7" x2="1713" y2="1455.7" stroke="#1e1e1e" stroke-width="3"/>
<line x1="1365.0" y1="1623" x2="1365.0" y2="1610" stroke="#1e1e1e" stroke-width="3"/>
<line x1="1365.0" y1="953.7" x2="1365.0" y2="966.7" stroke="#1e1e1e" stroke-width="3"/>
<line x1="1004" y1="1288.3" x2="1017" y2="1288.3" stroke="#1e1e1e" stroke-width="3"/>
<line x1="1726" y1="1288.3" x2="1713" y2="1288.3" stroke="#1e1e1e" stroke-width="3"/>
<line x1="1545.5" y1="1623" x2="1545.5" y2="1610" stroke="#1e1e1e" stroke-width="3"/>
<line x1="1545.5" y1="953.7" x2="1545.5" y2="966.7" stroke="#1e1e1e" stroke-width="3"/>
<line x1="1004" y1="1121.0" x2="1017" y2="1121.0" stroke="#1e1e1e" stroke-width="3"/>
<line x1="1726" y1="1121.0" x2="1713" y2="1121.0" stroke="#1e1e1e" stroke-width="3"/>
<text x="1004.0" y="1669.0" text-anchor="middle" font-size="40">0</text>
<text x="991.0" y="1634.0" text-anchor="end" font-size="40">0</text>
<text x="1184.5" y="1669.0" text-anchor="middle" font-size="40">2</text>
<text x="991.0" y="1466.7" text-anchor="end" font-size="40">2</text>
<text x="1365.0" y="1669.0" text-anchor="middle" font-size="40">4</text>
<text x="991.0" y="1299.3" text-anchor="end" font-size="40">4</text>
<text x="1545.5" y="1669.0" text-anchor="middle" font-size="40">6</text>
<text x="991.0" y="1132.0" text-anchor="end" font-size="40">6</text>
<text x="1726.0" y="1669.0" text-anchor="middle" font-size="40">8</text>
<text x="991.0" y="964.7" text-anchor="end" font-size="40">8</text>
<text x="1366.0" y="929.5" text-anchor="middle">(d)</text>
<text x="1361.0" y="1718.5" text-anchor="middle" font-size="40.5">Gauge(mm)</text>
<text transform="translate(935.5,1288.3) rotate(-90)" text-anchor="middle" font-size="41.5">QPE(mm)</text>
<text x="1362.7" y="1013.8" text-anchor="middle" font-size="41.7">region1, 2, and 3</text>
<text x="1035" y="1078.4" font-size="41.2"><tspan font-style="italic">NB</tspan>=-1.93%</text>
<text x="1035" y="1124.2" font-size="41.2"><tspan font-style="italic">NE</tspan>=14.99%</text>
<text x="1035" y="1170.0" font-size="41.2"><tspan font-style="italic">RMSE</tspan>=0.69mm</text>
<circle cx="1440.5" cy="1159.3" r="7.3"/>
<circle cx="1381.7" cy="1175.3" r="7.3"/>
<circle cx="1416.2" cy="1187.9" r="7.3"/>
<circle cx="1396.8" cy="1196.3" r="7.3"/>
<circle cx="1403.6" cy="1210.6" r="7.3"/>
<circle cx="1408.6" cy="1222.4" r="7.3"/>
<circle cx="1343.9" cy="1218.2" r="7.3"/>
<circle cx="1364.9" cy="1224.1" r="7.3"/>
<circle cx="1369.1" cy="1231.6" r="7.3"/>
<circle cx="1443.9" cy="1217.4" r="7.3"/>
<circle cx="1324.5" cy="1242.6" r="7.3"/>
<circle cx="1338.0" cy="1247.6" r="7.3"/>
<circle cx="1406.1" cy="1252.7" r="7.3"/>
<circle cx="1334.6" cy="1272.8" r="7.3"/>
<circle cx="1350.6" cy="1274.5" r="7.3"/>
<circle cx="1318.6" cy="1282.1" r="7.3"/>
<circle cx="1350.6" cy="1284.6" r="7.3"/>
<circle cx="1412.0" cy="1276.2" r="7.3"/>
<circle cx="1424.6" cy="1282.9" r="7.3"/>
<circle cx="1408.6" cy="1290.5" r="7.3"/>
<circle cx="1440.5" cy="1290.5" r="7.3"/>
<circle cx="1269.0" cy="1292.2" r="7.3"/>
<circle cx="1284.2" cy="1288.0" r="7.3"/>
<circle cx="1282.5" cy="1297.2" r="7.3"/>
<circle cx="1297.6" cy="1305.6" r="7.3"/>
<circle cx="1324.5" cy="1293.0" r="7.3"/>
<circle cx="1334.6" cy="1303.1" r="7.3"/>
<circle cx="1359.8" cy="1299.7" r="7.3"/>
<circle cx="1378.3" cy="1305.6" r="7.3"/>
<circle cx="1381.7" cy="1318.2" r="7.3"/>
<circle cx="1412.8" cy="1311.5" r="7.3"/>
<circle cx="1459.0" cy="1314.9" r="7.3"/>
<circle cx="1356.5" cy="1316.6" r="7.3"/>
<circle cx="1251.4" cy="1326.6" r="7.3"/>
<circle cx="1306.0" cy="1326.6" r="7.3"/>
<circle cx="1349.7" cy="1328.3" r="7.3"/>
<circle cx="1334.6" cy="1331.7" r="7.3"/>
<circle cx="1474.2" cy="1333.4" r="7.3"/>
<circle cx="1301.0" cy="1335.1" r="7.3"/>
<circle cx="1327.9" cy="1345.2" r="7.3"/>
<circle cx="1338.0" cy="1343.5" r="7.3"/>
<circle cx="1343.0" cy="1355.3" r="7.3"/>
<circle cx="1338.0" cy="1367.9" r="7.3"/>
<circle cx="1285.0" cy="1347.7" r="7.3"/>
<circle cx="1284.2" cy="1363.7" r="7.3"/>
<circle cx="1285.0" cy="1377.2" r="7.3"/>
<circle cx="1274.1" cy="1370.4" r="7.3"/>
<circle cx="1248.0" cy="1373.8" r="7.3"/>
<circle cx="1258.9" cy="1375.5" r="7.3"/>
<circle cx="1216.1" cy="1378.9" r="7.3"/>
<circle cx="1213.5" cy="1399.0" r="7.3"/>
<circle cx="1235.4" cy="1392.3" r="7.3"/>
<circle cx="1302.7" cy="1384.7" r="7.3"/>
<circle cx="1359.8" cy="1379.7" r="7.3"/>
<circle cx="1381.7" cy="1367.9" r="7.3"/>
<circle cx="1406.1" cy="1377.2" r="7.3"/>
<circle cx="1359.8" cy="1402.4" r="7.3"/>
<circle cx="1372.4" cy="1423.4" r="7.3"/>
<circle cx="1285.0" cy="1420.9" r="7.3"/>
<circle cx="1242.1" cy="1439.4" r="7.3"/>
<circle cx="1275.8" cy="1451.2" r="7.3"/>
<circle cx="1279.1" cy="1454.5" r="7.3"/>
<circle cx="1297.6" cy="1445.3" r="7.3"/>
<circle cx="1306.9" cy="1470.5" r="7.3"/>
<circle cx="1401.1" cy="1205.4" r="7.3"/>
<circle cx="1338.3" cy="1297.3" r="7.3"/>
<circle cx="1345.0" cy="1286.1" r="7.3"/>
<circle cx="1352.9" cy="1279.4" r="7.3"/>
<circle cx="1329.4" cy="1335.4" r="7.3"/>
<circle cx="1345.0" cy="1328.7" r="7.3"/>
<circle cx="1351.8" cy="1324.2" r="7.3"/>
<circle cx="1336.1" cy="1351.1" r="7.3"/>
<circle cx="1416.8" cy="1279.4" r="7.3"/>
<circle cx="1379.8" cy="1311.9" r="7.3"/>
<circle cx="1215.0" cy="1389.2" r="7.3"/>
<rect x="296.0" y="1771" width="82.7" height="18.5" fill="#fe2378"/>
<rect x="378.4" y="1771" width="98.9" height="18.5" fill="#fd6419"/>
<rect x="477.0" y="1771" width="98.9" height="18.5" fill="#fd915f"/>
<rect x="575.6" y="1771" width="98.9" height="18.5" fill="#fcac91"/>
<rect x="674.2" y="1771" width="98.9" height="18.5" fill="#fdc8b4"/>
<rect x="772.8" y="1771" width="98.9" height="18.5" fill="#fee2d7"/>
<rect x="871.4" y="1771" width="98.9" height="18.5" fill="#f5f5f5"/>
<rect x="970.0" y="1771" width="98.9" height="18.5" fill="#f5f5f5"/>
<rect x="1068.6" y="1771" width="98.9" height="18.5" fill="#e7e4f2"/>
<rect x="1167.2" y="1771" width="98.9" height="18.5" fill="#d2cde6"/>
<rect x="1265.8" y="1771" width="98.9" height="18.5" fill="#b2aad7"/>
<rect x="1364.4" y="1771" width="98.9" height="18.5" fill="#8282be"/>
<rect x="1463.0" y="1771" width="98.9" height="18.5" fill="#1450a5"/>
<rect x="1561.6" y="1771" width="98.9" height="18.5" fill="#233c9b"/>
<rect x="1660.2" y="1771" width="83.6" height="18.5" fill="#501982"/>
<rect x="296" y="1771" width="1447.5" height="18.5" fill="none" stroke="#555" stroke-width="2"/>
<text x="373.1" y="1841.0" text-anchor="middle" font-size="41.5">0.1</text>
<text x="479.1" y="1841.0" text-anchor="middle" font-size="41.5">0.2</text>
<text x="570.5" y="1841.0" text-anchor="middle" font-size="41.5">0.4</text>
<text x="672.1" y="1841.0" text-anchor="middle" font-size="41.5">0.6</text>
<text x="768.3" y="1841.0" text-anchor="middle" font-size="41.5">0.75</text>
<text x="871.4" y="1841.0" text-anchor="middle" font-size="41.5">0.9</text>
<text x="968.2" y="1841.0" text-anchor="middle" font-size="41.5">1.0</text>
<text x="1070.9" y="1841.0" text-anchor="middle" font-size="41.5">1.1</text>
<text x="1170.4" y="1841.0" text-anchor="middle" font-size="41.5">1.25</text>
<text x="1264.3" y="1841.0" text-anchor="middle" font-size="41.5">1.5</text>
<text x="1359.7" y="1841.0" text-anchor="middle" font-size="41.5">1.75</text>
<text x="1464.9" y="1841.0" text-anchor="middle" font-size="41.5">2.0</text>
<text x="1569.4" y="1841.0" text-anchor="middle" font-size="41.5">3.0</text>
<text x="1662.6" y="1841.0" text-anchor="middle" font-size="41.5">5.0</text>
<text x="60.0" y="1786.0" font-size="42" font-style="italic">bias ratio</text>
<text x="49.0" y="1925.0" font-size="41.5">Gauge hourly</text>
<text x="49.0" y="1972.0" font-size="41.5">accumulation</text>
<text x="49.0" y="2019.0" font-size="41.5">(mm)</text>
<circle cx="424" cy="1920.5" r="1.2"/>
<text x="419.7" y="2003.0" text-anchor="middle" font-size="41.5">0.1</text>
<circle cx="548" cy="1920.5" r="2.0"/>
<text x="545.4" y="2003.0" text-anchor="middle" font-size="41.5">0.5</text>
<circle cx="672" cy="1920.5" r="2.8"/>
<text x="669.3" y="2003.0" text-anchor="middle" font-size="41.5">1.0</text>
<circle cx="796" cy="1920.5" r="5.5"/>
<text x="790.9" y="2003.0" text-anchor="middle" font-size="41.5">5.0</text>
<circle cx="920.5" cy="1920.5" r="6.8"/>
<text x="917.8" y="2003.0" text-anchor="middle" font-size="41.5">10</text>
<circle cx="1044.7" cy="1920.5" r="9.5"/>
<text x="1047.0" y="2003.0" text-anchor="middle" font-size="41.5">20</text>
<circle cx="1169" cy="1920.5" r="11"/>
<text x="1175.8" y="2003.0" text-anchor="middle" font-size="41.5">30</text>
<circle cx="1293" cy="1920.5" r="13"/>
<text x="1293.1" y="2003.0" text-anchor="middle" font-size="41.5">50</text>
</svg></body></html>
